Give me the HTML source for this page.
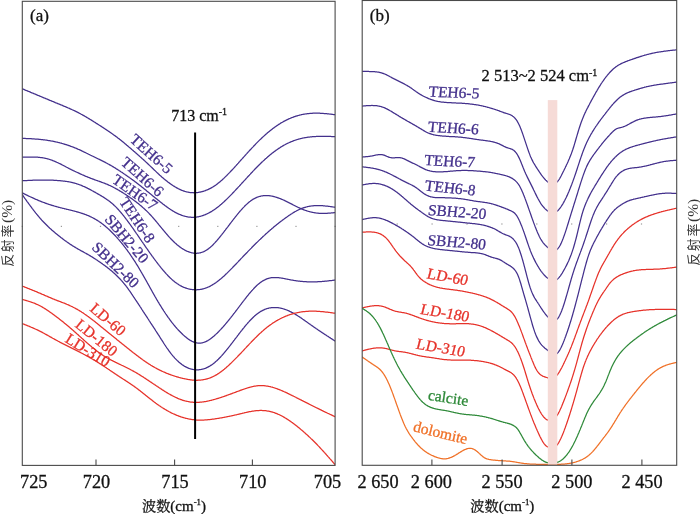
<!DOCTYPE html>
<html><head><meta charset="utf-8"><title>figure</title>
<style>html,body{margin:0;padding:0;background:#fff;}body{width:700px;height:514px;overflow:hidden;}svg{display:block;}text{font-family:'Liberation Serif','Times New Roman',serif;}</style></head><body>
<svg width="700" height="514" viewBox="0 0 700 514">
<rect x="0" y="0" width="700" height="514" fill="#fff"/>
<defs><clipPath id="ca"><rect x="22.3" y="1.3" width="312.8" height="464.1"/></clipPath><clipPath id="cb"><rect x="362.2" y="0.5" width="314.5" height="464.8"/></clipPath></defs>
<g fill="#9a9a9a"><rect x="21.7" y="225.8" width="1.2" height="1.2"/><rect x="60.8" y="225.8" width="1.2" height="1.2"/><rect x="99.9" y="225.8" width="1.2" height="1.2"/><rect x="139.0" y="225.8" width="1.2" height="1.2"/><rect x="178.1" y="225.8" width="1.2" height="1.2"/><rect x="217.2" y="225.8" width="1.2" height="1.2"/><rect x="256.3" y="225.8" width="1.2" height="1.2"/><rect x="295.4" y="225.8" width="1.2" height="1.2"/><rect x="334.5" y="225.8" width="1.2" height="1.2"/><rect x="396.6" y="223.4" width="1.2" height="1.2"/><rect x="431.5" y="223.4" width="1.2" height="1.2"/><rect x="466.4" y="223.4" width="1.2" height="1.2"/><rect x="501.3" y="223.4" width="1.2" height="1.2"/><rect x="536.2" y="223.4" width="1.2" height="1.2"/><rect x="571.1" y="223.4" width="1.2" height="1.2"/><rect x="606.0" y="223.4" width="1.2" height="1.2"/><rect x="640.9" y="223.4" width="1.2" height="1.2"/></g>
<g fill="none" stroke-width="1.25" stroke-linejoin="round" stroke-linecap="round" clip-path="url(#ca)">
<path d="M22.3,88.8L22.8,89.0L23.3,89.2L23.8,89.4L24.3,89.6L24.8,89.8L25.3,90.1L25.8,90.3L26.3,90.5L26.8,90.7L27.3,90.9L27.8,91.1L28.3,91.3L28.8,91.5L29.3,91.7L29.8,91.9L30.3,92.1L30.8,92.4L31.3,92.6L31.8,92.8L32.3,93.0L32.8,93.2L33.3,93.4L33.8,93.6L34.3,93.8L34.8,94.0L35.3,94.2L35.8,94.4L36.3,94.7L36.8,94.9L37.3,95.1L37.8,95.3L38.3,95.5L38.8,95.7L39.3,95.9L39.8,96.1L40.3,96.3L40.8,96.5L41.3,96.7L41.8,97.0L42.3,97.2L42.8,97.4L43.3,97.6L43.8,97.8L44.3,98.0L44.8,98.2L45.3,98.4L45.8,98.6L46.3,98.8L46.8,99.0L47.3,99.2L47.8,99.4L48.3,99.7L48.8,99.9L49.3,100.1L49.8,100.3L50.3,100.5L50.8,100.7L51.3,100.9L51.8,101.1L52.3,101.3L52.8,101.5L53.3,101.7L53.8,101.9L54.3,102.1L54.8,102.3L55.3,102.6L55.8,102.8L56.3,103.0L56.8,103.2L57.3,103.4L57.8,103.6L58.3,103.8L58.8,104.0L59.3,104.2L59.8,104.4L60.3,104.6L60.8,104.8L61.3,105.0L61.8,105.2L62.3,105.4L62.8,105.6L63.3,105.9L63.8,106.1L64.3,106.3L64.8,106.5L65.3,106.7L65.8,106.9L66.3,107.1L66.8,107.3L67.3,107.5L67.8,107.8L68.3,108.0L68.8,108.2L69.3,108.4L69.8,108.6L70.3,108.9L70.8,109.1L71.3,109.3L71.8,109.5L72.3,109.8L72.8,110.0L73.3,110.2L73.8,110.5L74.3,110.7L74.8,110.9L75.3,111.2L75.8,111.4L76.3,111.7L76.8,111.9L77.3,112.2L77.8,112.4L78.3,112.7L78.8,112.9L79.3,113.2L79.8,113.5L80.3,113.7L80.8,114.0L81.3,114.3L81.8,114.5L82.3,114.8L82.8,115.1L83.3,115.4L83.8,115.7L84.3,115.9L84.8,116.2L85.3,116.5L85.8,116.8L86.3,117.1L86.8,117.4L87.3,117.7L87.8,118.0L88.3,118.3L88.8,118.6L89.3,118.9L89.8,119.2L90.3,119.5L90.8,119.8L91.3,120.1L91.8,120.4L92.3,120.7L92.8,121.0L93.3,121.4L93.8,121.7L94.3,122.0L94.8,122.3L95.3,122.6L95.8,122.9L96.3,123.3L96.8,123.6L97.3,123.9L97.8,124.2L98.3,124.5L98.8,124.8L99.3,125.2L99.8,125.5L100.3,125.8L100.8,126.1L101.3,126.4L101.8,126.8L102.3,127.1L102.8,127.4L103.3,127.7L103.8,128.1L104.3,128.4L104.8,128.7L105.3,129.1L105.8,129.4L106.3,129.7L106.8,130.1L107.3,130.4L107.8,130.7L108.3,131.1L108.8,131.4L109.3,131.7L109.8,132.1L110.3,132.4L110.8,132.8L111.3,133.1L111.8,133.5L112.3,133.8L112.8,134.2L113.3,134.6L113.8,134.9L114.3,135.3L114.8,135.6L115.3,136.0L115.8,136.4L116.3,136.7L116.8,137.1L117.3,137.5L117.8,137.9L118.3,138.3L118.8,138.6L119.3,139.0L119.8,139.4L120.3,139.8L120.8,140.2L121.3,140.6L121.8,141.0L122.3,141.4L122.8,141.8L123.3,142.2L123.8,142.6L124.3,143.1L124.8,143.5L125.3,143.9L125.8,144.3L126.3,144.7L126.8,145.2L127.3,145.6L127.8,146.0L128.3,146.4L128.8,146.9L129.3,147.3L129.8,147.7L130.3,148.1L130.8,148.6L131.3,149.0L131.8,149.4L132.3,149.9L132.8,150.3L133.3,150.7L133.8,151.2L134.3,151.6L134.8,152.0L135.3,152.5L135.8,152.9L136.3,153.3L136.8,153.8L137.3,154.2L137.8,154.7L138.3,155.1L138.8,155.5L139.3,156.0L139.8,156.4L140.3,156.9L140.8,157.3L141.3,157.8L141.8,158.2L142.3,158.7L142.8,159.1L143.3,159.6L143.8,160.0L144.3,160.5L144.8,160.9L145.3,161.4L145.8,161.9L146.3,162.3L146.8,162.8L147.3,163.3L147.8,163.7L148.3,164.2L148.8,164.7L149.3,165.1L149.8,165.6L150.3,166.1L150.8,166.6L151.3,167.1L151.8,167.5L152.3,168.0L152.8,168.5L153.3,169.0L153.8,169.5L154.3,170.0L154.8,170.4L155.3,170.9L155.8,171.4L156.3,171.9L156.8,172.4L157.3,172.8L157.8,173.3L158.3,173.8L158.8,174.2L159.3,174.7L159.8,175.2L160.3,175.6L160.8,176.1L161.3,176.5L161.8,177.0L162.3,177.4L162.8,177.8L163.3,178.2L163.8,178.7L164.3,179.1L164.8,179.5L165.3,179.9L165.8,180.3L166.3,180.7L166.8,181.1L167.3,181.5L167.8,181.9L168.3,182.3L168.8,182.6L169.3,183.0L169.8,183.4L170.3,183.7L170.8,184.1L171.3,184.4L171.8,184.8L172.3,185.1L172.8,185.5L173.3,185.8L173.8,186.1L174.3,186.4L174.8,186.7L175.3,187.0L175.8,187.3L176.3,187.6L176.8,187.9L177.3,188.2L177.8,188.4L178.3,188.7L178.8,189.0L179.3,189.2L179.8,189.4L180.3,189.7L180.8,189.9L181.3,190.1L181.8,190.3L182.3,190.5L182.8,190.7L183.3,190.9L183.8,191.1L184.3,191.2L184.8,191.4L185.3,191.5L185.8,191.7L186.3,191.8L186.8,191.9L187.3,192.0L187.8,192.1L188.3,192.2L188.8,192.3L189.3,192.4L189.8,192.5L190.3,192.5L190.8,192.6L191.3,192.6L191.8,192.7L192.3,192.7L192.8,192.7L193.3,192.7L193.8,192.8L194.3,192.7L194.8,192.7L195.3,192.7L195.8,192.7L196.3,192.6L196.8,192.6L197.3,192.5L197.8,192.5L198.3,192.4L198.8,192.3L199.3,192.2L199.8,192.2L200.3,192.1L200.8,191.9L201.3,191.8L201.8,191.7L202.3,191.6L202.8,191.4L203.3,191.3L203.8,191.1L204.3,191.0L204.8,190.8L205.3,190.6L205.8,190.4L206.3,190.2L206.8,190.0L207.3,189.8L207.8,189.6L208.3,189.4L208.8,189.1L209.3,188.9L209.8,188.7L210.3,188.4L210.8,188.1L211.3,187.9L211.8,187.6L212.3,187.3L212.8,187.0L213.3,186.7L213.8,186.4L214.3,186.0L214.8,185.7L215.3,185.4L215.8,185.0L216.3,184.7L216.8,184.3L217.3,183.9L217.8,183.5L218.3,183.1L218.8,182.7L219.3,182.3L219.8,181.9L220.3,181.5L220.8,181.1L221.3,180.6L221.8,180.2L222.3,179.7L222.8,179.3L223.3,178.8L223.8,178.4L224.3,177.9L224.8,177.4L225.3,176.9L225.8,176.4L226.3,175.9L226.8,175.5L227.3,174.9L227.8,174.4L228.3,173.9L228.8,173.4L229.3,172.9L229.8,172.4L230.3,171.8L230.8,171.3L231.3,170.8L231.8,170.2L232.3,169.7L232.8,169.2L233.3,168.6L233.8,168.1L234.3,167.5L234.8,167.0L235.3,166.4L235.8,165.9L236.3,165.3L236.8,164.7L237.3,164.2L237.8,163.6L238.3,163.1L238.8,162.5L239.3,161.9L239.8,161.4L240.3,160.8L240.8,160.3L241.3,159.7L241.8,159.1L242.3,158.6L242.8,158.0L243.3,157.5L243.8,156.9L244.3,156.4L244.8,155.8L245.3,155.2L245.8,154.7L246.3,154.1L246.8,153.6L247.3,153.0L247.8,152.5L248.3,151.9L248.8,151.4L249.3,150.8L249.8,150.3L250.3,149.8L250.8,149.2L251.3,148.7L251.8,148.1L252.3,147.6L252.8,147.1L253.3,146.6L253.8,146.0L254.3,145.5L254.8,145.0L255.3,144.5L255.8,143.9L256.3,143.4L256.8,142.9L257.3,142.4L257.8,141.9L258.3,141.4L258.8,140.9L259.3,140.4L259.8,139.9L260.3,139.4L260.8,139.0L261.3,138.5L261.8,138.0L262.3,137.5L262.8,137.1L263.3,136.6L263.8,136.1L264.3,135.7L264.8,135.2L265.3,134.8L265.8,134.3L266.3,133.9L266.8,133.5L267.3,133.0L267.8,132.6L268.3,132.2L268.8,131.8L269.3,131.4L269.8,131.0L270.3,130.6L270.8,130.2L271.3,129.8L271.8,129.4L272.3,129.0L272.8,128.6L273.3,128.2L273.8,127.9L274.3,127.5L274.8,127.1L275.3,126.8L275.8,126.4L276.3,126.1L276.8,125.7L277.3,125.4L277.8,125.1L278.3,124.7L278.8,124.4L279.3,124.1L279.8,123.8L280.3,123.4L280.8,123.1L281.3,122.8L281.8,122.5L282.3,122.3L282.8,122.0L283.3,121.7L283.8,121.4L284.3,121.1L284.8,120.9L285.3,120.6L285.8,120.3L286.3,120.1L286.8,119.8L287.3,119.6L287.8,119.4L288.3,119.1L288.8,118.9L289.3,118.7L289.8,118.5L290.3,118.3L290.8,118.0L291.3,117.8L291.8,117.6L292.3,117.5L292.8,117.3L293.3,117.1L293.8,116.9L294.3,116.7L294.8,116.6L295.3,116.4L295.8,116.2L296.3,116.1L296.8,115.9L297.3,115.8L297.8,115.6L298.3,115.5L298.8,115.4L299.3,115.2L299.8,115.1L300.3,115.0L300.8,114.9L301.3,114.7L301.8,114.6L302.3,114.5L302.8,114.4L303.3,114.3L303.8,114.2L304.3,114.2L304.8,114.1L305.3,114.0L305.8,113.9L306.3,113.8L306.8,113.8L307.3,113.7L307.8,113.6L308.3,113.6L308.8,113.5L309.3,113.5L309.8,113.4L310.3,113.4L310.8,113.4L311.3,113.3L311.8,113.3L312.3,113.3L312.8,113.2L313.3,113.2L313.8,113.2L314.3,113.2L314.8,113.2L315.3,113.2L315.8,113.2L316.3,113.2L316.8,113.2L317.3,113.2L317.8,113.2L318.3,113.2L318.8,113.2L319.3,113.2L319.8,113.2L320.3,113.3L320.8,113.3L321.3,113.3L321.8,113.3L322.3,113.4L322.8,113.4L323.3,113.4L323.8,113.5L324.3,113.5L324.8,113.6L325.3,113.6L325.8,113.7L326.3,113.7L326.8,113.7L327.3,113.8L327.8,113.8L328.3,113.9L328.8,113.9L329.3,114.0L329.8,114.1L330.3,114.1L330.8,114.2L331.3,114.2L331.8,114.3L332.3,114.3L332.8,114.4L333.3,114.5L333.8,114.5L334.3,114.6L334.8,114.6L335.1,114.7" stroke="#43308c"/>
<path d="M22.3,138.3L22.8,138.3L23.3,138.4L23.8,138.4L24.3,138.4L24.8,138.4L25.3,138.4L25.8,138.5L26.3,138.5L26.8,138.5L27.3,138.5L27.8,138.6L28.3,138.6L28.8,138.6L29.3,138.6L29.8,138.7L30.3,138.7L30.8,138.7L31.3,138.7L31.8,138.8L32.3,138.8L32.8,138.8L33.3,138.9L33.8,138.9L34.3,138.9L34.8,139.0L35.3,139.0L35.8,139.0L36.3,139.1L36.8,139.1L37.3,139.1L37.8,139.2L38.3,139.2L38.8,139.3L39.3,139.3L39.8,139.4L40.3,139.4L40.8,139.5L41.3,139.5L41.8,139.6L42.3,139.6L42.8,139.7L43.3,139.8L43.8,139.8L44.3,139.9L44.8,139.9L45.3,140.0L45.8,140.1L46.3,140.2L46.8,140.2L47.3,140.3L47.8,140.4L48.3,140.5L48.8,140.5L49.3,140.6L49.8,140.7L50.3,140.8L50.8,140.9L51.3,141.0L51.8,141.1L52.3,141.2L52.8,141.2L53.3,141.3L53.8,141.4L54.3,141.6L54.8,141.7L55.3,141.8L55.8,141.9L56.3,142.0L56.8,142.1L57.3,142.2L57.8,142.3L58.3,142.5L58.8,142.6L59.3,142.7L59.8,142.8L60.3,143.0L60.8,143.1L61.3,143.2L61.8,143.4L62.3,143.5L62.8,143.7L63.3,143.8L63.8,143.9L64.3,144.1L64.8,144.3L65.3,144.4L65.8,144.6L66.3,144.7L66.8,144.9L67.3,145.1L67.8,145.2L68.3,145.4L68.8,145.6L69.3,145.7L69.8,145.9L70.3,146.1L70.8,146.3L71.3,146.5L71.8,146.6L72.3,146.8L72.8,147.0L73.3,147.2L73.8,147.4L74.3,147.6L74.8,147.8L75.3,148.0L75.8,148.2L76.3,148.4L76.8,148.6L77.3,148.8L77.8,149.1L78.3,149.3L78.8,149.5L79.3,149.7L79.8,149.9L80.3,150.2L80.8,150.4L81.3,150.6L81.8,150.9L82.3,151.1L82.8,151.3L83.3,151.6L83.8,151.8L84.3,152.1L84.8,152.3L85.3,152.5L85.8,152.8L86.3,153.0L86.8,153.3L87.3,153.5L87.8,153.8L88.3,154.0L88.8,154.3L89.3,154.5L89.8,154.8L90.3,155.0L90.8,155.3L91.3,155.5L91.8,155.8L92.3,156.0L92.8,156.2L93.3,156.5L93.8,156.7L94.3,157.0L94.8,157.2L95.3,157.5L95.8,157.7L96.3,158.0L96.8,158.2L97.3,158.5L97.8,158.7L98.3,159.0L98.8,159.2L99.3,159.4L99.8,159.7L100.3,159.9L100.8,160.2L101.3,160.4L101.8,160.7L102.3,160.9L102.8,161.2L103.3,161.4L103.8,161.7L104.3,161.9L104.8,162.2L105.3,162.4L105.8,162.7L106.3,163.0L106.8,163.2L107.3,163.5L107.8,163.8L108.3,164.0L108.8,164.3L109.3,164.6L109.8,164.9L110.3,165.2L110.8,165.4L111.3,165.7L111.8,166.0L112.3,166.3L112.8,166.6L113.3,166.9L113.8,167.2L114.3,167.5L114.8,167.8L115.3,168.1L115.8,168.4L116.3,168.8L116.8,169.1L117.3,169.4L117.8,169.7L118.3,170.0L118.8,170.3L119.3,170.7L119.8,171.0L120.3,171.3L120.8,171.7L121.3,172.0L121.8,172.3L122.3,172.6L122.8,173.0L123.3,173.3L123.8,173.7L124.3,174.0L124.8,174.3L125.3,174.7L125.8,175.0L126.3,175.4L126.8,175.7L127.3,176.1L127.8,176.4L128.3,176.8L128.8,177.1L129.3,177.5L129.8,177.8L130.3,178.2L130.8,178.5L131.3,178.9L131.8,179.3L132.3,179.6L132.8,180.0L133.3,180.4L133.8,180.7L134.3,181.1L134.8,181.5L135.3,181.9L135.8,182.2L136.3,182.6L136.8,183.0L137.3,183.4L137.8,183.8L138.3,184.2L138.8,184.6L139.3,184.9L139.8,185.3L140.3,185.7L140.8,186.1L141.3,186.5L141.8,186.9L142.3,187.3L142.8,187.7L143.3,188.1L143.8,188.5L144.3,188.9L144.8,189.3L145.3,189.7L145.8,190.1L146.3,190.5L146.8,191.0L147.3,191.4L147.8,191.8L148.3,192.2L148.8,192.6L149.3,193.0L149.8,193.4L150.3,193.8L150.8,194.2L151.3,194.6L151.8,195.1L152.3,195.5L152.8,195.9L153.3,196.3L153.8,196.7L154.3,197.1L154.8,197.5L155.3,197.9L155.8,198.3L156.3,198.7L156.8,199.1L157.3,199.5L157.8,199.9L158.3,200.3L158.8,200.7L159.3,201.1L159.8,201.5L160.3,201.9L160.8,202.3L161.3,202.7L161.8,203.1L162.3,203.5L162.8,203.9L163.3,204.3L163.8,204.6L164.3,205.0L164.8,205.4L165.3,205.8L165.8,206.1L166.3,206.5L166.8,206.9L167.3,207.2L167.8,207.6L168.3,207.9L168.8,208.3L169.3,208.6L169.8,209.0L170.3,209.3L170.8,209.6L171.3,210.0L171.8,210.3L172.3,210.6L172.8,210.9L173.3,211.2L173.8,211.5L174.3,211.8L174.8,212.1L175.3,212.4L175.8,212.6L176.3,212.9L176.8,213.1L177.3,213.4L177.8,213.6L178.3,213.9L178.8,214.1L179.3,214.3L179.8,214.5L180.3,214.7L180.8,214.9L181.3,215.1L181.8,215.3L182.3,215.5L182.8,215.7L183.3,215.8L183.8,216.0L184.3,216.1L184.8,216.2L185.3,216.4L185.8,216.5L186.3,216.6L186.8,216.7L187.3,216.8L187.8,216.9L188.3,217.0L188.8,217.0L189.3,217.1L189.8,217.1L190.3,217.2L190.8,217.2L191.3,217.3L191.8,217.3L192.3,217.3L192.8,217.3L193.3,217.3L193.8,217.3L194.3,217.2L194.8,217.2L195.3,217.2L195.8,217.1L196.3,217.1L196.8,217.0L197.3,216.9L197.8,216.8L198.3,216.8L198.8,216.7L199.3,216.5L199.8,216.4L200.3,216.3L200.8,216.2L201.3,216.0L201.8,215.9L202.3,215.7L202.8,215.6L203.3,215.4L203.8,215.2L204.3,215.0L204.8,214.8L205.3,214.6L205.8,214.4L206.3,214.2L206.8,214.0L207.3,213.7L207.8,213.5L208.3,213.2L208.8,213.0L209.3,212.7L209.8,212.4L210.3,212.2L210.8,211.9L211.3,211.6L211.8,211.3L212.3,211.0L212.8,210.6L213.3,210.3L213.8,210.0L214.3,209.6L214.8,209.3L215.3,208.9L215.8,208.6L216.3,208.2L216.8,207.8L217.3,207.4L217.8,207.1L218.3,206.7L218.8,206.3L219.3,205.9L219.8,205.4L220.3,205.0L220.8,204.6L221.3,204.2L221.8,203.7L222.3,203.3L222.8,202.8L223.3,202.4L223.8,201.9L224.3,201.5L224.8,201.0L225.3,200.5L225.8,200.1L226.3,199.6L226.8,199.1L227.3,198.6L227.8,198.1L228.3,197.6L228.8,197.1L229.3,196.6L229.8,196.1L230.3,195.6L230.8,195.1L231.3,194.6L231.8,194.1L232.3,193.5L232.8,193.0L233.3,192.5L233.8,192.0L234.3,191.4L234.8,190.9L235.3,190.4L235.8,189.8L236.3,189.3L236.8,188.8L237.3,188.2L237.8,187.7L238.3,187.1L238.8,186.6L239.3,186.1L239.8,185.5L240.3,185.0L240.8,184.4L241.3,183.9L241.8,183.3L242.3,182.8L242.8,182.2L243.3,181.7L243.8,181.1L244.3,180.6L244.8,180.1L245.3,179.5L245.8,179.0L246.3,178.4L246.8,177.9L247.3,177.3L247.8,176.8L248.3,176.2L248.8,175.7L249.3,175.2L249.8,174.6L250.3,174.1L250.8,173.5L251.3,173.0L251.8,172.5L252.3,172.0L252.8,171.4L253.3,170.9L253.8,170.4L254.3,169.8L254.8,169.3L255.3,168.8L255.8,168.3L256.3,167.8L256.8,167.3L257.3,166.8L257.8,166.2L258.3,165.7L258.8,165.2L259.3,164.7L259.8,164.3L260.3,163.8L260.8,163.3L261.3,162.8L261.8,162.3L262.3,161.8L262.8,161.4L263.3,160.9L263.8,160.4L264.3,160.0L264.8,159.5L265.3,159.0L265.8,158.6L266.3,158.2L266.8,157.7L267.3,157.3L267.8,156.8L268.3,156.4L268.8,156.0L269.3,155.6L269.8,155.1L270.3,154.7L270.8,154.3L271.3,153.9L271.8,153.5L272.3,153.1L272.8,152.7L273.3,152.4L273.8,152.0L274.3,151.6L274.8,151.2L275.3,150.9L275.8,150.5L276.3,150.1L276.8,149.8L277.3,149.4L277.8,149.1L278.3,148.7L278.8,148.4L279.3,148.1L279.8,147.8L280.3,147.4L280.8,147.1L281.3,146.8L281.8,146.5L282.3,146.2L282.8,145.9L283.3,145.6L283.8,145.3L284.3,145.0L284.8,144.8L285.3,144.5L285.8,144.2L286.3,144.0L286.8,143.7L287.3,143.5L287.8,143.2L288.3,143.0L288.8,142.8L289.3,142.5L289.8,142.3L290.3,142.1L290.8,141.9L291.3,141.7L291.8,141.5L292.3,141.3L292.8,141.1L293.3,140.9L293.8,140.7L294.3,140.5L294.8,140.3L295.3,140.2L295.8,140.0L296.3,139.8L296.8,139.7L297.3,139.5L297.8,139.4L298.3,139.2L298.8,139.1L299.3,139.0L299.8,138.8L300.3,138.7L300.8,138.6L301.3,138.5L301.8,138.3L302.3,138.2L302.8,138.1L303.3,138.0L303.8,137.9L304.3,137.8L304.8,137.7L305.3,137.6L305.8,137.5L306.3,137.5L306.8,137.4L307.3,137.3L307.8,137.2L308.3,137.2L308.8,137.1L309.3,137.0L309.8,137.0L310.3,136.9L310.8,136.9L311.3,136.8L311.8,136.8L312.3,136.7L312.8,136.7L313.3,136.6L313.8,136.6L314.3,136.6L314.8,136.5L315.3,136.5L315.8,136.5L316.3,136.4L316.8,136.4L317.3,136.4L317.8,136.4L318.3,136.4L318.8,136.3L319.3,136.3L319.8,136.3L320.3,136.3L320.8,136.3L321.3,136.3L321.8,136.3L322.3,136.3L322.8,136.3L323.3,136.3L323.8,136.3L324.3,136.3L324.8,136.3L325.3,136.3L325.8,136.3L326.3,136.3L326.8,136.3L327.3,136.4L327.8,136.4L328.3,136.4L328.8,136.4L329.3,136.4L329.8,136.4L330.3,136.4L330.8,136.4L331.3,136.5L331.8,136.5L332.3,136.5L332.8,136.5L333.3,136.5L333.8,136.6L334.3,136.6L334.8,136.6L335.1,136.6" stroke="#43308c"/>
<path d="M22.3,157.2L22.8,157.2L23.3,157.2L23.8,157.2L24.3,157.1L24.8,157.1L25.3,157.1L25.8,157.1L26.3,157.1L26.8,157.1L27.3,157.1L27.8,157.0L28.3,157.0L28.8,157.0L29.3,157.0L29.8,157.0L30.3,157.0L30.8,157.0L31.3,157.0L31.8,157.0L32.3,157.0L32.8,157.0L33.3,157.0L33.8,157.0L34.3,157.1L34.8,157.1L35.3,157.1L35.8,157.1L36.3,157.1L36.8,157.2L37.3,157.2L37.8,157.2L38.3,157.3L38.8,157.3L39.3,157.4L39.8,157.4L40.3,157.5L40.8,157.5L41.3,157.6L41.8,157.7L42.3,157.7L42.8,157.8L43.3,157.9L43.8,158.0L44.3,158.1L44.8,158.2L45.3,158.3L45.8,158.4L46.3,158.5L46.8,158.6L47.3,158.8L47.8,158.9L48.3,159.0L48.8,159.2L49.3,159.3L49.8,159.5L50.3,159.7L50.8,159.8L51.3,160.0L51.8,160.2L52.3,160.4L52.8,160.6L53.3,160.8L53.8,161.0L54.3,161.2L54.8,161.4L55.3,161.6L55.8,161.8L56.3,162.0L56.8,162.3L57.3,162.5L57.8,162.7L58.3,163.0L58.8,163.2L59.3,163.5L59.8,163.7L60.3,163.9L60.8,164.2L61.3,164.4L61.8,164.7L62.3,165.0L62.8,165.2L63.3,165.5L63.8,165.7L64.3,166.0L64.8,166.2L65.3,166.5L65.8,166.8L66.3,167.0L66.8,167.3L67.3,167.5L67.8,167.8L68.3,168.1L68.8,168.3L69.3,168.6L69.8,168.8L70.3,169.1L70.8,169.3L71.3,169.6L71.8,169.8L72.3,170.1L72.8,170.3L73.3,170.6L73.8,170.8L74.3,171.0L74.8,171.3L75.3,171.5L75.8,171.8L76.3,172.0L76.8,172.2L77.3,172.5L77.8,172.7L78.3,172.9L78.8,173.2L79.3,173.4L79.8,173.6L80.3,173.9L80.8,174.1L81.3,174.3L81.8,174.5L82.3,174.8L82.8,175.0L83.3,175.2L83.8,175.4L84.3,175.6L84.8,175.8L85.3,176.1L85.8,176.3L86.3,176.5L86.8,176.7L87.3,176.9L87.8,177.1L88.3,177.3L88.8,177.5L89.3,177.7L89.8,177.9L90.3,178.1L90.8,178.3L91.3,178.5L91.8,178.7L92.3,178.9L92.8,179.1L93.3,179.2L93.8,179.4L94.3,179.6L94.8,179.8L95.3,180.0L95.8,180.2L96.3,180.3L96.8,180.5L97.3,180.7L97.8,180.9L98.3,181.0L98.8,181.2L99.3,181.4L99.8,181.6L100.3,181.7L100.8,181.9L101.3,182.1L101.8,182.3L102.3,182.5L102.8,182.7L103.3,182.8L103.8,183.0L104.3,183.2L104.8,183.4L105.3,183.6L105.8,183.8L106.3,184.0L106.8,184.2L107.3,184.4L107.8,184.6L108.3,184.8L108.8,185.1L109.3,185.3L109.8,185.5L110.3,185.7L110.8,186.0L111.3,186.2L111.8,186.5L112.3,186.7L112.8,187.0L113.3,187.2L113.8,187.5L114.3,187.8L114.8,188.0L115.3,188.3L115.8,188.6L116.3,188.8L116.8,189.1L117.3,189.4L117.8,189.7L118.3,190.0L118.8,190.3L119.3,190.6L119.8,190.9L120.3,191.2L120.8,191.5L121.3,191.8L121.8,192.1L122.3,192.4L122.8,192.7L123.3,193.0L123.8,193.3L124.3,193.7L124.8,194.0L125.3,194.3L125.8,194.6L126.3,194.9L126.8,195.3L127.3,195.6L127.8,196.0L128.3,196.3L128.8,196.6L129.3,197.0L129.8,197.3L130.3,197.7L130.8,198.0L131.3,198.4L131.8,198.7L132.3,199.1L132.8,199.5L133.3,199.8L133.8,200.2L134.3,200.6L134.8,200.9L135.3,201.3L135.8,201.7L136.3,202.1L136.8,202.5L137.3,202.9L137.8,203.2L138.3,203.6L138.8,204.0L139.3,204.4L139.8,204.9L140.3,205.3L140.8,205.7L141.3,206.1L141.8,206.5L142.3,207.0L142.8,207.4L143.3,207.9L143.8,208.3L144.3,208.8L144.8,209.2L145.3,209.7L145.8,210.2L146.3,210.6L146.8,211.1L147.3,211.6L147.8,212.1L148.3,212.6L148.8,213.1L149.3,213.7L149.8,214.2L150.3,214.7L150.8,215.3L151.3,215.8L151.8,216.4L152.3,216.9L152.8,217.5L153.3,218.1L153.8,218.7L154.3,219.3L154.8,219.8L155.3,220.4L155.8,221.0L156.3,221.6L156.8,222.2L157.3,222.8L157.8,223.4L158.3,224.0L158.8,224.7L159.3,225.3L159.8,225.9L160.3,226.5L160.8,227.1L161.3,227.7L161.8,228.3L162.3,228.9L162.8,229.5L163.3,230.1L163.8,230.7L164.3,231.3L164.8,231.9L165.3,232.5L165.8,233.1L166.3,233.7L166.8,234.3L167.3,234.8L167.8,235.4L168.3,236.0L168.8,236.5L169.3,237.1L169.8,237.6L170.3,238.2L170.8,238.7L171.3,239.2L171.8,239.7L172.3,240.2L172.8,240.8L173.3,241.2L173.8,241.7L174.3,242.2L174.8,242.7L175.3,243.1L175.8,243.6L176.3,244.0L176.8,244.5L177.3,244.9L177.8,245.3L178.3,245.7L178.8,246.1L179.3,246.5L179.8,246.9L180.3,247.2L180.8,247.6L181.3,247.9L181.8,248.3L182.3,248.6L182.8,248.9L183.3,249.2L183.8,249.5L184.3,249.8L184.8,250.1L185.3,250.3L185.8,250.6L186.3,250.8L186.8,251.1L187.3,251.3L187.8,251.5L188.3,251.7L188.8,251.9L189.3,252.1L189.8,252.2L190.3,252.4L190.8,252.5L191.3,252.7L191.8,252.8L192.3,252.9L192.8,253.0L193.3,253.1L193.8,253.1L194.3,253.2L194.8,253.2L195.3,253.2L195.8,253.3L196.3,253.3L196.8,253.3L197.3,253.2L197.8,253.2L198.3,253.1L198.8,253.1L199.3,253.0L199.8,252.9L200.3,252.8L200.8,252.6L201.3,252.5L201.8,252.3L202.3,252.2L202.8,252.0L203.3,251.8L203.8,251.6L204.3,251.3L204.8,251.1L205.3,250.8L205.8,250.5L206.3,250.2L206.8,249.9L207.3,249.6L207.8,249.2L208.3,248.9L208.8,248.5L209.3,248.1L209.8,247.7L210.3,247.3L210.8,246.8L211.3,246.4L211.8,245.9L212.3,245.5L212.8,245.0L213.3,244.5L213.8,243.9L214.3,243.4L214.8,242.9L215.3,242.3L215.8,241.8L216.3,241.2L216.8,240.7L217.3,240.1L217.8,239.5L218.3,238.9L218.8,238.3L219.3,237.7L219.8,237.1L220.3,236.5L220.8,235.8L221.3,235.2L221.8,234.6L222.3,233.9L222.8,233.3L223.3,232.7L223.8,232.0L224.3,231.4L224.8,230.7L225.3,230.1L225.8,229.4L226.3,228.7L226.8,228.1L227.3,227.4L227.8,226.8L228.3,226.1L228.8,225.5L229.3,224.8L229.8,224.1L230.3,223.5L230.8,222.8L231.3,222.2L231.8,221.5L232.3,220.9L232.8,220.2L233.3,219.6L233.8,218.9L234.3,218.3L234.8,217.7L235.3,217.0L235.8,216.4L236.3,215.8L236.8,215.2L237.3,214.5L237.8,213.9L238.3,213.3L238.8,212.7L239.3,212.1L239.8,211.5L240.3,210.9L240.8,210.4L241.3,209.8L241.8,209.2L242.3,208.7L242.8,208.1L243.3,207.6L243.8,207.1L244.3,206.6L244.8,206.0L245.3,205.5L245.8,205.1L246.3,204.6L246.8,204.1L247.3,203.7L247.8,203.2L248.3,202.8L248.8,202.3L249.3,201.9L249.8,201.5L250.3,201.2L250.8,200.8L251.3,200.4L251.8,200.1L252.3,199.8L252.8,199.4L253.3,199.1L253.8,198.8L254.3,198.6L254.8,198.3L255.3,198.1L255.8,197.8L256.3,197.6L256.8,197.4L257.3,197.2L257.8,197.0L258.3,196.8L258.8,196.7L259.3,196.5L259.8,196.4L260.3,196.3L260.8,196.1L261.3,196.0L261.8,195.9L262.3,195.9L262.8,195.8L263.3,195.7L263.8,195.7L264.3,195.6L264.8,195.6L265.3,195.6L265.8,195.6L266.3,195.6L266.8,195.6L267.3,195.6L267.8,195.6L268.3,195.7L268.8,195.7L269.3,195.7L269.8,195.8L270.3,195.9L270.8,195.9L271.3,196.0L271.8,196.1L272.3,196.2L272.8,196.3L273.3,196.4L273.8,196.6L274.3,196.7L274.8,196.8L275.3,197.0L275.8,197.1L276.3,197.3L276.8,197.4L277.3,197.6L277.8,197.8L278.3,197.9L278.8,198.1L279.3,198.3L279.8,198.5L280.3,198.7L280.8,198.9L281.3,199.1L281.8,199.3L282.3,199.5L282.8,199.7L283.3,200.0L283.8,200.2L284.3,200.4L284.8,200.6L285.3,200.9L285.8,201.1L286.3,201.4L286.8,201.6L287.3,201.9L287.8,202.1L288.3,202.4L288.8,202.6L289.3,202.9L289.8,203.1L290.3,203.4L290.8,203.6L291.3,203.9L291.8,204.2L292.3,204.4L292.8,204.7L293.3,205.0L293.8,205.2L294.3,205.5L294.8,205.7L295.3,206.0L295.8,206.2L296.3,206.5L296.8,206.7L297.3,207.0L297.8,207.2L298.3,207.5L298.8,207.7L299.3,207.9L299.8,208.2L300.3,208.4L300.8,208.6L301.3,208.8L301.8,209.0L302.3,209.2L302.8,209.4L303.3,209.6L303.8,209.8L304.3,210.0L304.8,210.2L305.3,210.4L305.8,210.5L306.3,210.7L306.8,210.9L307.3,211.0L307.8,211.2L308.3,211.3L308.8,211.5L309.3,211.6L309.8,211.7L310.3,211.9L310.8,212.0L311.3,212.1L311.8,212.2L312.3,212.3L312.8,212.4L313.3,212.5L313.8,212.6L314.3,212.7L314.8,212.8L315.3,212.9L315.8,212.9L316.3,213.0L316.8,213.1L317.3,213.1L317.8,213.2L318.3,213.2L318.8,213.3L319.3,213.3L319.8,213.3L320.3,213.3L320.8,213.4L321.3,213.4L321.8,213.4L322.3,213.4L322.8,213.4L323.3,213.4L323.8,213.4L324.3,213.4L324.8,213.4L325.3,213.4L325.8,213.3L326.3,213.3L326.8,213.3L327.3,213.3L327.8,213.2L328.3,213.2L328.8,213.2L329.3,213.1L329.8,213.1L330.3,213.0L330.8,213.0L331.3,212.9L331.8,212.9L332.3,212.8L332.8,212.8L333.3,212.8L333.8,212.7L334.3,212.7L334.8,212.6L335.1,212.6" stroke="#43308c"/>
<path d="M22.3,180.7L22.8,180.6L23.3,180.6L23.8,180.6L24.3,180.6L24.8,180.6L25.3,180.5L25.8,180.5L26.3,180.5L26.8,180.5L27.3,180.5L27.8,180.4L28.3,180.4L28.8,180.4L29.3,180.4L29.8,180.4L30.3,180.3L30.8,180.3L31.3,180.3L31.8,180.3L32.3,180.3L32.8,180.2L33.3,180.2L33.8,180.2L34.3,180.2L34.8,180.2L35.3,180.2L35.8,180.2L36.3,180.1L36.8,180.1L37.3,180.1L37.8,180.1L38.3,180.1L38.8,180.1L39.3,180.1L39.8,180.1L40.3,180.1L40.8,180.1L41.3,180.1L41.8,180.1L42.3,180.0L42.8,180.0L43.3,180.0L43.8,180.0L44.3,180.0L44.8,180.0L45.3,180.0L45.8,180.0L46.3,180.1L46.8,180.1L47.3,180.1L47.8,180.1L48.3,180.1L48.8,180.1L49.3,180.1L49.8,180.1L50.3,180.1L50.8,180.1L51.3,180.2L51.8,180.2L52.3,180.2L52.8,180.2L53.3,180.2L53.8,180.3L54.3,180.3L54.8,180.3L55.3,180.3L55.8,180.4L56.3,180.4L56.8,180.4L57.3,180.5L57.8,180.5L58.3,180.5L58.8,180.6L59.3,180.6L59.8,180.7L60.3,180.7L60.8,180.8L61.3,180.8L61.8,180.9L62.3,180.9L62.8,181.0L63.3,181.0L63.8,181.1L64.3,181.1L64.8,181.2L65.3,181.3L65.8,181.3L66.3,181.4L66.8,181.5L67.3,181.6L67.8,181.7L68.3,181.7L68.8,181.8L69.3,181.9L69.8,182.0L70.3,182.1L70.8,182.2L71.3,182.3L71.8,182.4L72.3,182.6L72.8,182.7L73.3,182.8L73.8,182.9L74.3,183.1L74.8,183.2L75.3,183.3L75.8,183.5L76.3,183.6L76.8,183.8L77.3,184.0L77.8,184.1L78.3,184.3L78.8,184.5L79.3,184.7L79.8,184.8L80.3,185.0L80.8,185.2L81.3,185.4L81.8,185.6L82.3,185.8L82.8,186.1L83.3,186.3L83.8,186.5L84.3,186.7L84.8,186.9L85.3,187.2L85.8,187.4L86.3,187.7L86.8,187.9L87.3,188.1L87.8,188.4L88.3,188.6L88.8,188.9L89.3,189.2L89.8,189.4L90.3,189.7L90.8,189.9L91.3,190.2L91.8,190.5L92.3,190.8L92.8,191.0L93.3,191.3L93.8,191.6L94.3,191.9L94.8,192.1L95.3,192.4L95.8,192.7L96.3,193.0L96.8,193.3L97.3,193.6L97.8,193.9L98.3,194.1L98.8,194.4L99.3,194.7L99.8,195.0L100.3,195.3L100.8,195.6L101.3,195.9L101.8,196.2L102.3,196.5L102.8,196.8L103.3,197.1L103.8,197.4L104.3,197.7L104.8,198.1L105.3,198.4L105.8,198.7L106.3,199.1L106.8,199.4L107.3,199.8L107.8,200.1L108.3,200.5L108.8,200.8L109.3,201.2L109.8,201.6L110.3,202.0L110.8,202.4L111.3,202.8L111.8,203.2L112.3,203.6L112.8,204.1L113.3,204.5L113.8,205.0L114.3,205.5L114.8,205.9L115.3,206.4L115.8,206.9L116.3,207.4L116.8,207.9L117.3,208.5L117.8,209.0L118.3,209.5L118.8,210.1L119.3,210.7L119.8,211.2L120.3,211.8L120.8,212.4L121.3,213.0L121.8,213.6L122.3,214.2L122.8,214.8L123.3,215.4L123.8,216.0L124.3,216.7L124.8,217.3L125.3,218.0L125.8,218.6L126.3,219.3L126.8,219.9L127.3,220.6L127.8,221.3L128.3,222.0L128.8,222.6L129.3,223.3L129.8,224.0L130.3,224.7L130.8,225.4L131.3,226.1L131.8,226.8L132.3,227.5L132.8,228.2L133.3,228.9L133.8,229.6L134.3,230.4L134.8,231.1L135.3,231.8L135.8,232.5L136.3,233.3L136.8,234.0L137.3,234.7L137.8,235.4L138.3,236.2L138.8,236.9L139.3,237.6L139.8,238.3L140.3,239.1L140.8,239.8L141.3,240.5L141.8,241.3L142.3,242.0L142.8,242.7L143.3,243.5L143.8,244.2L144.3,244.9L144.8,245.6L145.3,246.4L145.8,247.1L146.3,247.8L146.8,248.5L147.3,249.2L147.8,249.9L148.3,250.7L148.8,251.4L149.3,252.1L149.8,252.8L150.3,253.5L150.8,254.2L151.3,254.9L151.8,255.6L152.3,256.3L152.8,256.9L153.3,257.6L153.8,258.3L154.3,259.0L154.8,259.7L155.3,260.3L155.8,261.0L156.3,261.7L156.8,262.3L157.3,263.0L157.8,263.6L158.3,264.3L158.8,264.9L159.3,265.6L159.8,266.2L160.3,266.8L160.8,267.4L161.3,268.1L161.8,268.7L162.3,269.3L162.8,269.9L163.3,270.5L163.8,271.0L164.3,271.6L164.8,272.2L165.3,272.8L165.8,273.3L166.3,273.9L166.8,274.4L167.3,274.9L167.8,275.5L168.3,276.0L168.8,276.5L169.3,277.0L169.8,277.5L170.3,278.0L170.8,278.4L171.3,278.9L171.8,279.4L172.3,279.8L172.8,280.2L173.3,280.7L173.8,281.1L174.3,281.5L174.8,281.9L175.3,282.3L175.8,282.6L176.3,283.0L176.8,283.3L177.3,283.7L177.8,284.0L178.3,284.3L178.8,284.7L179.3,285.0L179.8,285.3L180.3,285.6L180.8,285.8L181.3,286.1L181.8,286.4L182.3,286.6L182.8,286.8L183.3,287.1L183.8,287.3L184.3,287.5L184.8,287.7L185.3,287.9L185.8,288.1L186.3,288.2L186.8,288.4L187.3,288.5L187.8,288.7L188.3,288.8L188.8,289.0L189.3,289.1L189.8,289.2L190.3,289.3L190.8,289.4L191.3,289.4L191.8,289.5L192.3,289.6L192.8,289.6L193.3,289.7L193.8,289.7L194.3,289.7L194.8,289.8L195.3,289.8L195.8,289.8L196.3,289.8L196.8,289.8L197.3,289.7L197.8,289.7L198.3,289.7L198.8,289.6L199.3,289.6L199.8,289.5L200.3,289.4L200.8,289.4L201.3,289.3L201.8,289.2L202.3,289.1L202.8,288.9L203.3,288.8L203.8,288.7L204.3,288.5L204.8,288.4L205.3,288.2L205.8,288.0L206.3,287.8L206.8,287.7L207.3,287.5L207.8,287.2L208.3,287.0L208.8,286.8L209.3,286.6L209.8,286.3L210.3,286.1L210.8,285.8L211.3,285.5L211.8,285.2L212.3,284.9L212.8,284.6L213.3,284.3L213.8,284.0L214.3,283.7L214.8,283.4L215.3,283.0L215.8,282.7L216.3,282.3L216.8,282.0L217.3,281.6L217.8,281.2L218.3,280.8L218.8,280.4L219.3,280.0L219.8,279.6L220.3,279.2L220.8,278.8L221.3,278.4L221.8,277.9L222.3,277.5L222.8,277.1L223.3,276.6L223.8,276.2L224.3,275.7L224.8,275.2L225.3,274.8L225.8,274.3L226.3,273.8L226.8,273.4L227.3,272.9L227.8,272.4L228.3,271.9L228.8,271.4L229.3,270.9L229.8,270.4L230.3,269.9L230.8,269.4L231.3,268.9L231.8,268.4L232.3,267.9L232.8,267.3L233.3,266.8L233.8,266.3L234.3,265.8L234.8,265.3L235.3,264.7L235.8,264.2L236.3,263.7L236.8,263.2L237.3,262.6L237.8,262.1L238.3,261.6L238.8,261.0L239.3,260.5L239.8,260.0L240.3,259.5L240.8,258.9L241.3,258.4L241.8,257.9L242.3,257.4L242.8,256.8L243.3,256.3L243.8,255.8L244.3,255.3L244.8,254.7L245.3,254.2L245.8,253.7L246.3,253.2L246.8,252.7L247.3,252.2L247.8,251.6L248.3,251.1L248.8,250.6L249.3,250.1L249.8,249.6L250.3,249.1L250.8,248.6L251.3,248.1L251.8,247.5L252.3,247.0L252.8,246.5L253.3,246.0L253.8,245.5L254.3,245.0L254.8,244.5L255.3,244.0L255.8,243.5L256.3,243.0L256.8,242.6L257.3,242.1L257.8,241.6L258.3,241.1L258.8,240.6L259.3,240.1L259.8,239.6L260.3,239.2L260.8,238.7L261.3,238.2L261.8,237.7L262.3,237.3L262.8,236.8L263.3,236.3L263.8,235.9L264.3,235.4L264.8,234.9L265.3,234.5L265.8,234.0L266.3,233.6L266.8,233.1L267.3,232.7L267.8,232.2L268.3,231.8L268.8,231.3L269.3,230.9L269.8,230.5L270.3,230.0L270.8,229.6L271.3,229.2L271.8,228.7L272.3,228.3L272.8,227.9L273.3,227.5L273.8,227.0L274.3,226.6L274.8,226.2L275.3,225.8L275.8,225.4L276.3,225.0L276.8,224.6L277.3,224.2L277.8,223.8L278.3,223.4L278.8,223.0L279.3,222.6L279.8,222.2L280.3,221.8L280.8,221.4L281.3,221.0L281.8,220.7L282.3,220.3L282.8,219.9L283.3,219.5L283.8,219.2L284.3,218.8L284.8,218.4L285.3,218.1L285.8,217.7L286.3,217.4L286.8,217.0L287.3,216.7L287.8,216.3L288.3,216.0L288.8,215.6L289.3,215.3L289.8,215.0L290.3,214.6L290.8,214.3L291.3,214.0L291.8,213.7L292.3,213.3L292.8,213.0L293.3,212.7L293.8,212.4L294.3,212.1L294.8,211.8L295.3,211.5L295.8,211.3L296.3,211.0L296.8,210.7L297.3,210.5L297.8,210.2L298.3,210.0L298.8,209.7L299.3,209.5L299.8,209.3L300.3,209.0L300.8,208.8L301.3,208.6L301.8,208.4L302.3,208.2L302.8,208.1L303.3,207.9L303.8,207.7L304.3,207.6L304.8,207.4L305.3,207.3L305.8,207.1L306.3,207.0L306.8,206.9L307.3,206.7L307.8,206.6L308.3,206.5L308.8,206.4L309.3,206.3L309.8,206.2L310.3,206.1L310.8,206.1L311.3,206.0L311.8,205.9L312.3,205.9L312.8,205.8L313.3,205.8L313.8,205.7L314.3,205.7L314.8,205.7L315.3,205.6L315.8,205.6L316.3,205.6L316.8,205.6L317.3,205.6L317.8,205.6L318.3,205.6L318.8,205.6L319.3,205.6L319.8,205.6L320.3,205.6L320.8,205.6L321.3,205.6L321.8,205.7L322.3,205.7L322.8,205.7L323.3,205.8L323.8,205.8L324.3,205.9L324.8,205.9L325.3,206.0L325.8,206.0L326.3,206.1L326.8,206.1L327.3,206.2L327.8,206.2L328.3,206.3L328.8,206.4L329.3,206.4L329.8,206.5L330.3,206.6L330.8,206.7L331.3,206.7L331.8,206.8L332.3,206.9L332.8,206.9L333.3,207.0L333.8,207.1L334.3,207.2L334.8,207.2L335.1,207.3" stroke="#43308c"/>
<path d="M22.3,192.9L22.8,193.2L23.3,193.4L23.8,193.6L24.3,193.9L24.8,194.1L25.3,194.4L25.8,194.6L26.3,194.9L26.8,195.1L27.3,195.3L27.8,195.6L28.3,195.8L28.8,196.1L29.3,196.3L29.8,196.5L30.3,196.8L30.8,197.0L31.3,197.2L31.8,197.5L32.3,197.7L32.8,197.9L33.3,198.2L33.8,198.4L34.3,198.6L34.8,198.8L35.3,199.1L35.8,199.3L36.3,199.5L36.8,199.7L37.3,199.9L37.8,200.1L38.3,200.4L38.8,200.6L39.3,200.8L39.8,201.0L40.3,201.2L40.8,201.4L41.3,201.6L41.8,201.8L42.3,202.0L42.8,202.2L43.3,202.4L43.8,202.5L44.3,202.7L44.8,202.9L45.3,203.1L45.8,203.3L46.3,203.4L46.8,203.6L47.3,203.8L47.8,204.0L48.3,204.1L48.8,204.3L49.3,204.5L49.8,204.6L50.3,204.8L50.8,204.9L51.3,205.1L51.8,205.3L52.3,205.4L52.8,205.6L53.3,205.7L53.8,205.9L54.3,206.0L54.8,206.2L55.3,206.3L55.8,206.4L56.3,206.6L56.8,206.7L57.3,206.9L57.8,207.0L58.3,207.1L58.8,207.3L59.3,207.4L59.8,207.5L60.3,207.7L60.8,207.8L61.3,207.9L61.8,208.0L62.3,208.2L62.8,208.3L63.3,208.4L63.8,208.5L64.3,208.6L64.8,208.8L65.3,208.9L65.8,209.0L66.3,209.1L66.8,209.3L67.3,209.4L67.8,209.5L68.3,209.6L68.8,209.7L69.3,209.9L69.8,210.0L70.3,210.1L70.8,210.2L71.3,210.3L71.8,210.5L72.3,210.6L72.8,210.7L73.3,210.9L73.8,211.0L74.3,211.1L74.8,211.2L75.3,211.4L75.8,211.5L76.3,211.6L76.8,211.8L77.3,211.9L77.8,212.1L78.3,212.2L78.8,212.3L79.3,212.5L79.8,212.6L80.3,212.8L80.8,213.0L81.3,213.1L81.8,213.3L82.3,213.4L82.8,213.6L83.3,213.8L83.8,213.9L84.3,214.1L84.8,214.3L85.3,214.5L85.8,214.7L86.3,214.9L86.8,215.1L87.3,215.3L87.8,215.5L88.3,215.7L88.8,215.9L89.3,216.1L89.8,216.3L90.3,216.6L90.8,216.8L91.3,217.0L91.8,217.3L92.3,217.5L92.8,217.8L93.3,218.1L93.8,218.3L94.3,218.6L94.8,218.9L95.3,219.2L95.8,219.5L96.3,219.8L96.8,220.1L97.3,220.4L97.8,220.7L98.3,221.0L98.8,221.3L99.3,221.7L99.8,222.0L100.3,222.4L100.8,222.7L101.3,223.1L101.8,223.5L102.3,223.8L102.8,224.2L103.3,224.6L103.8,225.0L104.3,225.4L104.8,225.8L105.3,226.2L105.8,226.7L106.3,227.1L106.8,227.5L107.3,227.9L107.8,228.4L108.3,228.8L108.8,229.3L109.3,229.8L109.8,230.2L110.3,230.7L110.8,231.2L111.3,231.7L111.8,232.2L112.3,232.7L112.8,233.2L113.3,233.7L113.8,234.2L114.3,234.7L114.8,235.3L115.3,235.8L115.8,236.3L116.3,236.9L116.8,237.4L117.3,238.0L117.8,238.6L118.3,239.1L118.8,239.7L119.3,240.3L119.8,240.9L120.3,241.5L120.8,242.1L121.3,242.7L121.8,243.3L122.3,243.9L122.8,244.5L123.3,245.2L123.8,245.8L124.3,246.4L124.8,247.1L125.3,247.7L125.8,248.4L126.3,249.1L126.8,249.7L127.3,250.4L127.8,251.1L128.3,251.8L128.8,252.5L129.3,253.2L129.8,253.9L130.3,254.6L130.8,255.4L131.3,256.1L131.8,256.8L132.3,257.6L132.8,258.3L133.3,259.1L133.8,259.9L134.3,260.6L134.8,261.4L135.3,262.2L135.8,263.0L136.3,263.8L136.8,264.6L137.3,265.4L137.8,266.2L138.3,267.0L138.8,267.9L139.3,268.7L139.8,269.6L140.3,270.4L140.8,271.3L141.3,272.1L141.8,273.0L142.3,273.9L142.8,274.7L143.3,275.6L143.8,276.5L144.3,277.4L144.8,278.3L145.3,279.2L145.8,280.0L146.3,280.9L146.8,281.8L147.3,282.7L147.8,283.6L148.3,284.5L148.8,285.4L149.3,286.3L149.8,287.2L150.3,288.1L150.8,289.0L151.3,289.9L151.8,290.8L152.3,291.7L152.8,292.6L153.3,293.5L153.8,294.4L154.3,295.2L154.8,296.1L155.3,297.0L155.8,297.8L156.3,298.7L156.8,299.6L157.3,300.4L157.8,301.3L158.3,302.1L158.8,302.9L159.3,303.8L159.8,304.6L160.3,305.4L160.8,306.2L161.3,307.0L161.8,307.8L162.3,308.6L162.8,309.4L163.3,310.2L163.8,311.0L164.3,311.7L164.8,312.5L165.3,313.2L165.8,314.0L166.3,314.7L166.8,315.4L167.3,316.1L167.8,316.8L168.3,317.6L168.8,318.2L169.3,318.9L169.8,319.6L170.3,320.3L170.8,321.0L171.3,321.6L171.8,322.3L172.3,322.9L172.8,323.5L173.3,324.2L173.8,324.8L174.3,325.4L174.8,326.0L175.3,326.6L175.8,327.2L176.3,327.7L176.8,328.3L177.3,328.9L177.8,329.4L178.3,330.0L178.8,330.5L179.3,331.0L179.8,331.5L180.3,332.0L180.8,332.6L181.3,333.0L181.8,333.5L182.3,334.0L182.8,334.5L183.3,334.9L183.8,335.4L184.3,335.8L184.8,336.3L185.3,336.7L185.8,337.1L186.3,337.5L186.8,337.9L187.3,338.3L187.8,338.7L188.3,339.1L188.8,339.4L189.3,339.7L189.8,340.1L190.3,340.4L190.8,340.7L191.3,340.9L191.8,341.2L192.3,341.5L192.8,341.7L193.3,341.9L193.8,342.1L194.3,342.3L194.8,342.4L195.3,342.6L195.8,342.7L196.3,342.8L196.8,342.9L197.3,343.0L197.8,343.1L198.3,343.1L198.8,343.1L199.3,343.1L199.8,343.1L200.3,343.1L200.8,343.0L201.3,343.0L201.8,342.9L202.3,342.8L202.8,342.7L203.3,342.5L203.8,342.4L204.3,342.2L204.8,342.0L205.3,341.8L205.8,341.6L206.3,341.4L206.8,341.1L207.3,340.8L207.8,340.6L208.3,340.3L208.8,340.0L209.3,339.6L209.8,339.3L210.3,338.9L210.8,338.6L211.3,338.2L211.8,337.8L212.3,337.4L212.8,337.0L213.3,336.6L213.8,336.2L214.3,335.7L214.8,335.3L215.3,334.8L215.8,334.4L216.3,333.9L216.8,333.4L217.3,333.0L217.8,332.5L218.3,332.0L218.8,331.5L219.3,330.9L219.8,330.4L220.3,329.9L220.8,329.4L221.3,328.8L221.8,328.3L222.3,327.7L222.8,327.2L223.3,326.6L223.8,326.0L224.3,325.5L224.8,324.9L225.3,324.3L225.8,323.7L226.3,323.1L226.8,322.5L227.3,321.9L227.8,321.3L228.3,320.7L228.8,320.1L229.3,319.5L229.8,318.8L230.3,318.2L230.8,317.6L231.3,316.9L231.8,316.3L232.3,315.7L232.8,315.0L233.3,314.4L233.8,313.7L234.3,313.1L234.8,312.4L235.3,311.8L235.8,311.1L236.3,310.5L236.8,309.8L237.3,309.2L237.8,308.5L238.3,307.8L238.8,307.2L239.3,306.5L239.8,305.8L240.3,305.2L240.8,304.5L241.3,303.9L241.8,303.2L242.3,302.5L242.8,301.9L243.3,301.2L243.8,300.6L244.3,299.9L244.8,299.3L245.3,298.6L245.8,298.0L246.3,297.4L246.8,296.7L247.3,296.1L247.8,295.5L248.3,294.9L248.8,294.2L249.3,293.6L249.8,293.0L250.3,292.5L250.8,291.9L251.3,291.3L251.8,290.7L252.3,290.2L252.8,289.6L253.3,289.1L253.8,288.5L254.3,288.0L254.8,287.5L255.3,287.0L255.8,286.5L256.3,286.0L256.8,285.5L257.3,285.1L257.8,284.6L258.3,284.2L258.8,283.8L259.3,283.4L259.8,283.0L260.3,282.6L260.8,282.2L261.3,281.9L261.8,281.5L262.3,281.2L262.8,280.9L263.3,280.6L263.8,280.3L264.3,280.1L264.8,279.8L265.3,279.6L265.8,279.3L266.3,279.1L266.8,278.9L267.3,278.7L267.8,278.6L268.3,278.4L268.8,278.3L269.3,278.1L269.8,278.0L270.3,277.9L270.8,277.8L271.3,277.7L271.8,277.7L272.3,277.6L272.8,277.5L273.3,277.5L273.8,277.5L274.3,277.5L274.8,277.5L275.3,277.5L275.8,277.5L276.3,277.5L276.8,277.5L277.3,277.6L277.8,277.6L278.3,277.6L278.8,277.7L279.3,277.8L279.8,277.8L280.3,277.9L280.8,278.0L281.3,278.1L281.8,278.2L282.3,278.2L282.8,278.3L283.3,278.4L283.8,278.5L284.3,278.6L284.8,278.7L285.3,278.8L285.8,278.9L286.3,279.0L286.8,279.1L287.3,279.2L287.8,279.3L288.3,279.4L288.8,279.5L289.3,279.6L289.8,279.7L290.3,279.8L290.8,279.9L291.3,280.0L291.8,280.1L292.3,280.2L292.8,280.2L293.3,280.3L293.8,280.4L294.3,280.5L294.8,280.6L295.3,280.6L295.8,280.7L296.3,280.8L296.8,280.8L297.3,280.9L297.8,281.0L298.3,281.0L298.8,281.1L299.3,281.1L299.8,281.2L300.3,281.3L300.8,281.3L301.3,281.4L301.8,281.4L302.3,281.4L302.8,281.5L303.3,281.5L303.8,281.6L304.3,281.6L304.8,281.6L305.3,281.7L305.8,281.7L306.3,281.7L306.8,281.8L307.3,281.8L307.8,281.8L308.3,281.8L308.8,281.8L309.3,281.9L309.8,281.9L310.3,281.9L310.8,281.9L311.3,281.9L311.8,281.9L312.3,281.9L312.8,281.9L313.3,281.9L313.8,281.9L314.3,281.9L314.8,281.8L315.3,281.8L315.8,281.8L316.3,281.8L316.8,281.8L317.3,281.8L317.8,281.7L318.3,281.7L318.8,281.7L319.3,281.6L319.8,281.6L320.3,281.6L320.8,281.5L321.3,281.5L321.8,281.5L322.3,281.4L322.8,281.4L323.3,281.3L323.8,281.3L324.3,281.3L324.8,281.2L325.3,281.2L325.8,281.1L326.3,281.1L326.8,281.0L327.3,281.0L327.8,280.9L328.3,280.9L328.8,280.8L329.3,280.7L329.8,280.7L330.3,280.6L330.8,280.6L331.3,280.5L331.8,280.5L332.3,280.4L332.8,280.4L333.3,280.3L333.8,280.2L334.3,280.2L334.8,280.1L335.1,280.1" stroke="#43308c"/>
<path d="M22.3,194.7L22.8,195.4L23.3,196.1L23.8,196.9L24.3,197.6L24.8,198.3L25.3,199.0L25.8,199.7L26.3,200.4L26.8,201.1L27.3,201.8L27.8,202.4L28.3,203.1L28.8,203.8L29.3,204.5L29.8,205.2L30.3,205.9L30.8,206.5L31.3,207.2L31.8,207.9L32.3,208.6L32.8,209.2L33.3,209.9L33.8,210.5L34.3,211.2L34.8,211.8L35.3,212.4L35.8,213.1L36.3,213.7L36.8,214.3L37.3,214.9L37.8,215.5L38.3,216.1L38.8,216.7L39.3,217.3L39.8,217.9L40.3,218.5L40.8,219.0L41.3,219.6L41.8,220.2L42.3,220.7L42.8,221.2L43.3,221.8L43.8,222.3L44.3,222.8L44.8,223.3L45.3,223.8L45.8,224.3L46.3,224.8L46.8,225.3L47.3,225.8L47.8,226.3L48.3,226.8L48.8,227.2L49.3,227.7L49.8,228.2L50.3,228.6L50.8,229.1L51.3,229.5L51.8,230.0L52.3,230.4L52.8,230.8L53.3,231.3L53.8,231.7L54.3,232.1L54.8,232.5L55.3,233.0L55.8,233.4L56.3,233.8L56.8,234.2L57.3,234.6L57.8,235.0L58.3,235.4L58.8,235.8L59.3,236.2L59.8,236.6L60.3,237.0L60.8,237.4L61.3,237.8L61.8,238.1L62.3,238.5L62.8,238.9L63.3,239.3L63.8,239.7L64.3,240.0L64.8,240.4L65.3,240.8L65.8,241.1L66.3,241.5L66.8,241.8L67.3,242.2L67.8,242.5L68.3,242.9L68.8,243.2L69.3,243.6L69.8,243.9L70.3,244.3L70.8,244.6L71.3,244.9L71.8,245.2L72.3,245.6L72.8,245.9L73.3,246.2L73.8,246.5L74.3,246.8L74.8,247.1L75.3,247.4L75.8,247.7L76.3,248.0L76.8,248.3L77.3,248.6L77.8,248.9L78.3,249.2L78.8,249.5L79.3,249.7L79.8,250.0L80.3,250.3L80.8,250.6L81.3,250.8L81.8,251.1L82.3,251.4L82.8,251.7L83.3,251.9L83.8,252.2L84.3,252.5L84.8,252.8L85.3,253.0L85.8,253.3L86.3,253.6L86.8,253.9L87.3,254.2L87.8,254.4L88.3,254.7L88.8,255.0L89.3,255.3L89.8,255.6L90.3,255.9L90.8,256.2L91.3,256.5L91.8,256.8L92.3,257.1L92.8,257.4L93.3,257.7L93.8,258.1L94.3,258.4L94.8,258.7L95.3,259.0L95.8,259.3L96.3,259.7L96.8,260.0L97.3,260.3L97.8,260.7L98.3,261.0L98.8,261.4L99.3,261.7L99.8,262.0L100.3,262.4L100.8,262.7L101.3,263.1L101.8,263.4L102.3,263.8L102.8,264.2L103.3,264.5L103.8,264.9L104.3,265.2L104.8,265.6L105.3,266.0L105.8,266.4L106.3,266.7L106.8,267.1L107.3,267.5L107.8,267.9L108.3,268.3L108.8,268.7L109.3,269.1L109.8,269.5L110.3,269.9L110.8,270.3L111.3,270.7L111.8,271.1L112.3,271.6L112.8,272.0L113.3,272.5L113.8,272.9L114.3,273.3L114.8,273.8L115.3,274.3L115.8,274.7L116.3,275.2L116.8,275.7L117.3,276.2L117.8,276.7L118.3,277.2L118.8,277.7L119.3,278.2L119.8,278.7L120.3,279.3L120.8,279.8L121.3,280.4L121.8,280.9L122.3,281.5L122.8,282.1L123.3,282.7L123.8,283.3L124.3,283.9L124.8,284.5L125.3,285.1L125.8,285.7L126.3,286.4L126.8,287.0L127.3,287.7L127.8,288.4L128.3,289.1L128.8,289.8L129.3,290.5L129.8,291.2L130.3,291.9L130.8,292.6L131.3,293.3L131.8,294.1L132.3,294.8L132.8,295.6L133.3,296.3L133.8,297.1L134.3,297.8L134.8,298.6L135.3,299.3L135.8,300.1L136.3,300.8L136.8,301.6L137.3,302.4L137.8,303.1L138.3,303.9L138.8,304.7L139.3,305.4L139.8,306.2L140.3,307.0L140.8,307.7L141.3,308.5L141.8,309.3L142.3,310.0L142.8,310.8L143.3,311.6L143.8,312.3L144.3,313.1L144.8,313.9L145.3,314.6L145.8,315.4L146.3,316.2L146.8,316.9L147.3,317.7L147.8,318.5L148.3,319.2L148.8,320.0L149.3,320.8L149.8,321.5L150.3,322.3L150.8,323.1L151.3,323.8L151.8,324.6L152.3,325.4L152.8,326.1L153.3,326.9L153.8,327.7L154.3,328.4L154.8,329.2L155.3,330.0L155.8,330.8L156.3,331.5L156.8,332.3L157.3,333.1L157.8,333.9L158.3,334.7L158.8,335.4L159.3,336.2L159.8,337.0L160.3,337.8L160.8,338.6L161.3,339.4L161.8,340.1L162.3,340.9L162.8,341.7L163.3,342.5L163.8,343.3L164.3,344.0L164.8,344.8L165.3,345.5L165.8,346.3L166.3,347.0L166.8,347.8L167.3,348.5L167.8,349.2L168.3,349.9L168.8,350.6L169.3,351.3L169.8,352.0L170.3,352.6L170.8,353.3L171.3,353.9L171.8,354.6L172.3,355.2L172.8,355.8L173.3,356.4L173.8,356.9L174.3,357.5L174.8,358.1L175.3,358.6L175.8,359.1L176.3,359.6L176.8,360.1L177.3,360.6L177.8,361.1L178.3,361.5L178.8,362.0L179.3,362.4L179.8,362.8L180.3,363.3L180.8,363.6L181.3,364.0L181.8,364.4L182.3,364.8L182.8,365.1L183.3,365.4L183.8,365.8L184.3,366.1L184.8,366.4L185.3,366.6L185.8,366.9L186.3,367.2L186.8,367.4L187.3,367.7L187.8,367.9L188.3,368.1L188.8,368.3L189.3,368.5L189.8,368.6L190.3,368.8L190.8,369.0L191.3,369.1L191.8,369.2L192.3,369.3L192.8,369.4L193.3,369.5L193.8,369.6L194.3,369.7L194.8,369.7L195.3,369.8L195.8,369.8L196.3,369.8L196.8,369.9L197.3,369.9L197.8,369.8L198.3,369.8L198.8,369.8L199.3,369.7L199.8,369.7L200.3,369.6L200.8,369.5L201.3,369.4L201.8,369.3L202.3,369.2L202.8,369.1L203.3,369.0L203.8,368.8L204.3,368.6L204.8,368.5L205.3,368.3L205.8,368.1L206.3,367.9L206.8,367.6L207.3,367.4L207.8,367.2L208.3,366.9L208.8,366.6L209.3,366.3L209.8,366.1L210.3,365.7L210.8,365.4L211.3,365.1L211.8,364.8L212.3,364.4L212.8,364.0L213.3,363.7L213.8,363.3L214.3,362.9L214.8,362.5L215.3,362.0L215.8,361.6L216.3,361.1L216.8,360.7L217.3,360.2L217.8,359.7L218.3,359.3L218.8,358.8L219.3,358.3L219.8,357.7L220.3,357.2L220.8,356.7L221.3,356.1L221.8,355.6L222.3,355.0L222.8,354.5L223.3,353.9L223.8,353.3L224.3,352.7L224.8,352.1L225.3,351.5L225.8,350.9L226.3,350.3L226.8,349.7L227.3,349.1L227.8,348.5L228.3,347.8L228.8,347.2L229.3,346.6L229.8,345.9L230.3,345.3L230.8,344.6L231.3,344.0L231.8,343.3L232.3,342.7L232.8,342.0L233.3,341.4L233.8,340.7L234.3,340.1L234.8,339.4L235.3,338.7L235.8,338.1L236.3,337.4L236.8,336.8L237.3,336.1L237.8,335.4L238.3,334.8L238.8,334.1L239.3,333.5L239.8,332.8L240.3,332.2L240.8,331.5L241.3,330.9L241.8,330.3L242.3,329.6L242.8,329.0L243.3,328.4L243.8,327.8L244.3,327.1L244.8,326.5L245.3,325.9L245.8,325.3L246.3,324.7L246.8,324.1L247.3,323.6L247.8,323.0L248.3,322.4L248.8,321.9L249.3,321.3L249.8,320.8L250.3,320.2L250.8,319.7L251.3,319.2L251.8,318.7L252.3,318.2L252.8,317.7L253.3,317.2L253.8,316.7L254.3,316.3L254.8,315.8L255.3,315.4L255.8,315.0L256.3,314.6L256.8,314.2L257.3,313.8L257.8,313.4L258.3,313.1L258.8,312.7L259.3,312.4L259.8,312.0L260.3,311.7L260.8,311.4L261.3,311.1L261.8,310.9L262.3,310.6L262.8,310.3L263.3,310.1L263.8,309.9L264.3,309.6L264.8,309.4L265.3,309.2L265.8,309.0L266.3,308.9L266.8,308.7L267.3,308.5L267.8,308.4L268.3,308.3L268.8,308.1L269.3,308.0L269.8,307.9L270.3,307.8L270.8,307.8L271.3,307.7L271.8,307.6L272.3,307.6L272.8,307.5L273.3,307.5L273.8,307.5L274.3,307.5L274.8,307.5L275.3,307.5L275.8,307.5L276.3,307.5L276.8,307.6L277.3,307.6L277.8,307.7L278.3,307.7L278.8,307.8L279.3,307.9L279.8,308.0L280.3,308.1L280.8,308.2L281.3,308.3L281.8,308.4L282.3,308.5L282.8,308.7L283.3,308.8L283.8,309.0L284.3,309.1L284.8,309.3L285.3,309.5L285.8,309.7L286.3,309.8L286.8,310.0L287.3,310.2L287.8,310.5L288.3,310.7L288.8,310.9L289.3,311.1L289.8,311.4L290.3,311.6L290.8,311.8L291.3,312.1L291.8,312.4L292.3,312.6L292.8,312.9L293.3,313.2L293.8,313.4L294.3,313.7L294.8,314.0L295.3,314.3L295.8,314.6L296.3,314.9L296.8,315.2L297.3,315.5L297.8,315.8L298.3,316.2L298.8,316.5L299.3,316.8L299.8,317.1L300.3,317.5L300.8,317.8L301.3,318.1L301.8,318.5L302.3,318.8L302.8,319.2L303.3,319.5L303.8,319.9L304.3,320.2L304.8,320.6L305.3,320.9L305.8,321.3L306.3,321.6L306.8,322.0L307.3,322.3L307.8,322.7L308.3,323.0L308.8,323.4L309.3,323.8L309.8,324.1L310.3,324.5L310.8,324.8L311.3,325.2L311.8,325.5L312.3,325.9L312.8,326.2L313.3,326.6L313.8,326.9L314.3,327.3L314.8,327.6L315.3,328.0L315.8,328.3L316.3,328.7L316.8,329.0L317.3,329.3L317.8,329.7L318.3,330.0L318.8,330.4L319.3,330.7L319.8,331.0L320.3,331.4L320.8,331.7L321.3,332.0L321.8,332.4L322.3,332.7L322.8,333.0L323.3,333.4L323.8,333.7L324.3,334.0L324.8,334.4L325.3,334.7L325.8,335.0L326.3,335.3L326.8,335.7L327.3,336.0L327.8,336.3L328.3,336.6L328.8,337.0L329.3,337.3L329.8,337.6L330.3,337.9L330.8,338.3L331.3,338.6L331.8,338.9L332.3,339.2L332.8,339.6L333.3,339.9L333.8,340.2L334.3,340.5L334.8,340.9L335.1,341.0" stroke="#43308c"/>
<path d="M22.3,286.1L22.8,286.3L23.3,286.5L23.8,286.7L24.3,286.9L24.8,287.1L25.3,287.3L25.8,287.5L26.3,287.7L26.8,287.9L27.3,288.1L27.8,288.3L28.3,288.5L28.8,288.7L29.3,288.9L29.8,289.1L30.3,289.3L30.8,289.5L31.3,289.7L31.8,289.9L32.3,290.1L32.8,290.3L33.3,290.5L33.8,290.7L34.3,290.9L34.8,291.1L35.3,291.3L35.8,291.5L36.3,291.7L36.8,291.9L37.3,292.1L37.8,292.4L38.3,292.6L38.8,292.8L39.3,293.0L39.8,293.2L40.3,293.4L40.8,293.6L41.3,293.8L41.8,294.1L42.3,294.3L42.8,294.5L43.3,294.7L43.8,294.9L44.3,295.1L44.8,295.4L45.3,295.6L45.8,295.8L46.3,296.0L46.8,296.2L47.3,296.4L47.8,296.7L48.3,296.9L48.8,297.1L49.3,297.3L49.8,297.5L50.3,297.7L50.8,297.9L51.3,298.2L51.8,298.4L52.3,298.6L52.8,298.8L53.3,299.0L53.8,299.2L54.3,299.4L54.8,299.6L55.3,299.8L55.8,300.0L56.3,300.2L56.8,300.4L57.3,300.6L57.8,300.8L58.3,300.9L58.8,301.1L59.3,301.3L59.8,301.5L60.3,301.7L60.8,301.9L61.3,302.1L61.8,302.3L62.3,302.5L62.8,302.7L63.3,302.9L63.8,303.0L64.3,303.2L64.8,303.4L65.3,303.6L65.8,303.8L66.3,304.0L66.8,304.3L67.3,304.5L67.8,304.7L68.3,304.9L68.8,305.1L69.3,305.3L69.8,305.6L70.3,305.8L70.8,306.0L71.3,306.3L71.8,306.5L72.3,306.7L72.8,307.0L73.3,307.3L73.8,307.5L74.3,307.8L74.8,308.0L75.3,308.3L75.8,308.6L76.3,308.9L76.8,309.1L77.3,309.4L77.8,309.7L78.3,310.0L78.8,310.3L79.3,310.6L79.8,310.9L80.3,311.2L80.8,311.5L81.3,311.8L81.8,312.2L82.3,312.5L82.8,312.8L83.3,313.1L83.8,313.5L84.3,313.8L84.8,314.2L85.3,314.5L85.8,314.9L86.3,315.2L86.8,315.6L87.3,315.9L87.8,316.3L88.3,316.6L88.8,317.0L89.3,317.4L89.8,317.8L90.3,318.1L90.8,318.5L91.3,318.9L91.8,319.3L92.3,319.7L92.8,320.1L93.3,320.5L93.8,320.8L94.3,321.2L94.8,321.6L95.3,322.0L95.8,322.4L96.3,322.8L96.8,323.2L97.3,323.6L97.8,324.0L98.3,324.4L98.8,324.8L99.3,325.3L99.8,325.7L100.3,326.1L100.8,326.5L101.3,326.9L101.8,327.3L102.3,327.7L102.8,328.1L103.3,328.5L103.8,328.9L104.3,329.3L104.8,329.7L105.3,330.1L105.8,330.5L106.3,330.9L106.8,331.3L107.3,331.8L107.8,332.2L108.3,332.6L108.8,333.0L109.3,333.4L109.8,333.8L110.3,334.2L110.8,334.6L111.3,335.0L111.8,335.4L112.3,335.8L112.8,336.2L113.3,336.6L113.8,337.0L114.3,337.4L114.8,337.8L115.3,338.2L115.8,338.6L116.3,339.0L116.8,339.5L117.3,339.9L117.8,340.3L118.3,340.7L118.8,341.1L119.3,341.5L119.8,341.9L120.3,342.3L120.8,342.7L121.3,343.1L121.8,343.5L122.3,343.9L122.8,344.3L123.3,344.7L123.8,345.1L124.3,345.5L124.8,345.9L125.3,346.3L125.8,346.7L126.3,347.1L126.8,347.5L127.3,347.9L127.8,348.3L128.3,348.7L128.8,349.1L129.3,349.5L129.8,349.9L130.3,350.3L130.8,350.7L131.3,351.1L131.8,351.5L132.3,351.9L132.8,352.3L133.3,352.7L133.8,353.0L134.3,353.4L134.8,353.8L135.3,354.2L135.8,354.6L136.3,355.0L136.8,355.4L137.3,355.7L137.8,356.1L138.3,356.5L138.8,356.9L139.3,357.2L139.8,357.6L140.3,358.0L140.8,358.4L141.3,358.7L141.8,359.1L142.3,359.5L142.8,359.8L143.3,360.2L143.8,360.5L144.3,360.9L144.8,361.2L145.3,361.6L145.8,361.9L146.3,362.2L146.8,362.6L147.3,362.9L147.8,363.2L148.3,363.6L148.8,363.9L149.3,364.2L149.8,364.5L150.3,364.8L150.8,365.2L151.3,365.5L151.8,365.8L152.3,366.1L152.8,366.4L153.3,366.6L153.8,366.9L154.3,367.2L154.8,367.5L155.3,367.8L155.8,368.0L156.3,368.3L156.8,368.6L157.3,368.8L157.8,369.1L158.3,369.4L158.8,369.6L159.3,369.9L159.8,370.1L160.3,370.4L160.8,370.6L161.3,370.8L161.8,371.1L162.3,371.3L162.8,371.5L163.3,371.8L163.8,372.0L164.3,372.2L164.8,372.4L165.3,372.6L165.8,372.9L166.3,373.1L166.8,373.3L167.3,373.5L167.8,373.7L168.3,373.9L168.8,374.1L169.3,374.3L169.8,374.4L170.3,374.6L170.8,374.8L171.3,375.0L171.8,375.2L172.3,375.3L172.8,375.5L173.3,375.7L173.8,375.8L174.3,376.0L174.8,376.2L175.3,376.3L175.8,376.5L176.3,376.6L176.8,376.8L177.3,376.9L177.8,377.1L178.3,377.2L178.8,377.4L179.3,377.5L179.8,377.6L180.3,377.8L180.8,377.9L181.3,378.0L181.8,378.1L182.3,378.3L182.8,378.4L183.3,378.5L183.8,378.6L184.3,378.7L184.8,378.8L185.3,378.9L185.8,379.0L186.3,379.1L186.8,379.2L187.3,379.3L187.8,379.4L188.3,379.5L188.8,379.6L189.3,379.7L189.8,379.7L190.3,379.8L190.8,379.9L191.3,379.9L191.8,380.0L192.3,380.0L192.8,380.1L193.3,380.1L193.8,380.2L194.3,380.2L194.8,380.2L195.3,380.2L195.8,380.2L196.3,380.3L196.8,380.3L197.3,380.3L197.8,380.2L198.3,380.2L198.8,380.2L199.3,380.2L199.8,380.1L200.3,380.1L200.8,380.1L201.3,380.0L201.8,379.9L202.3,379.9L202.8,379.8L203.3,379.7L203.8,379.6L204.3,379.5L204.8,379.4L205.3,379.3L205.8,379.2L206.3,379.1L206.8,378.9L207.3,378.8L207.8,378.6L208.3,378.5L208.8,378.3L209.3,378.2L209.8,378.0L210.3,377.8L210.8,377.6L211.3,377.4L211.8,377.2L212.3,377.0L212.8,376.7L213.3,376.5L213.8,376.2L214.3,376.0L214.8,375.7L215.3,375.4L215.8,375.2L216.3,374.9L216.8,374.6L217.3,374.3L217.8,373.9L218.3,373.6L218.8,373.3L219.3,372.9L219.8,372.6L220.3,372.2L220.8,371.9L221.3,371.5L221.8,371.1L222.3,370.8L222.8,370.4L223.3,370.0L223.8,369.6L224.3,369.2L224.8,368.7L225.3,368.3L225.8,367.9L226.3,367.5L226.8,367.0L227.3,366.6L227.8,366.1L228.3,365.7L228.8,365.2L229.3,364.8L229.8,364.3L230.3,363.8L230.8,363.3L231.3,362.9L231.8,362.4L232.3,361.9L232.8,361.4L233.3,360.9L233.8,360.4L234.3,359.9L234.8,359.4L235.3,358.9L235.8,358.4L236.3,357.9L236.8,357.4L237.3,356.9L237.8,356.3L238.3,355.8L238.8,355.3L239.3,354.8L239.8,354.2L240.3,353.7L240.8,353.2L241.3,352.7L241.8,352.1L242.3,351.6L242.8,351.1L243.3,350.5L243.8,350.0L244.3,349.5L244.8,348.9L245.3,348.4L245.8,347.9L246.3,347.3L246.8,346.8L247.3,346.3L247.8,345.7L248.3,345.2L248.8,344.7L249.3,344.1L249.8,343.6L250.3,343.1L250.8,342.6L251.3,342.0L251.8,341.5L252.3,341.0L252.8,340.5L253.3,340.0L253.8,339.5L254.3,339.0L254.8,338.5L255.3,337.9L255.8,337.4L256.3,337.0L256.8,336.5L257.3,336.0L257.8,335.5L258.3,335.0L258.8,334.5L259.3,334.0L259.8,333.6L260.3,333.1L260.8,332.7L261.3,332.2L261.8,331.7L262.3,331.3L262.8,330.9L263.3,330.4L263.8,330.0L264.3,329.6L264.8,329.1L265.3,328.7L265.8,328.3L266.3,327.9L266.8,327.5L267.3,327.1L267.8,326.7L268.3,326.4L268.8,326.0L269.3,325.6L269.8,325.2L270.3,324.9L270.8,324.5L271.3,324.2L271.8,323.8L272.3,323.5L272.8,323.1L273.3,322.8L273.8,322.5L274.3,322.2L274.8,321.9L275.3,321.5L275.8,321.2L276.3,320.9L276.8,320.6L277.3,320.4L277.8,320.1L278.3,319.8L278.8,319.5L279.3,319.3L279.8,319.0L280.3,318.7L280.8,318.5L281.3,318.2L281.8,318.0L282.3,317.7L282.8,317.5L283.3,317.3L283.8,317.0L284.3,316.8L284.8,316.6L285.3,316.4L285.8,316.2L286.3,316.0L286.8,315.8L287.3,315.6L287.8,315.4L288.3,315.2L288.8,315.0L289.3,314.9L289.8,314.7L290.3,314.5L290.8,314.4L291.3,314.2L291.8,314.1L292.3,313.9L292.8,313.8L293.3,313.6L293.8,313.5L294.3,313.4L294.8,313.2L295.3,313.1L295.8,313.0L296.3,312.9L296.8,312.8L297.3,312.7L297.8,312.5L298.3,312.5L298.8,312.4L299.3,312.3L299.8,312.2L300.3,312.1L300.8,312.0L301.3,311.9L301.8,311.9L302.3,311.8L302.8,311.7L303.3,311.7L303.8,311.6L304.3,311.6L304.8,311.5L305.3,311.5L305.8,311.4L306.3,311.4L306.8,311.3L307.3,311.3L307.8,311.3L308.3,311.3L308.8,311.2L309.3,311.2L309.8,311.2L310.3,311.2L310.8,311.2L311.3,311.2L311.8,311.2L312.3,311.2L312.8,311.2L313.3,311.2L313.8,311.2L314.3,311.2L314.8,311.2L315.3,311.2L315.8,311.2L316.3,311.2L316.8,311.3L317.3,311.3L317.8,311.3L318.3,311.3L318.8,311.4L319.3,311.4L319.8,311.4L320.3,311.5L320.8,311.5L321.3,311.6L321.8,311.6L322.3,311.7L322.8,311.7L323.3,311.7L323.8,311.8L324.3,311.8L324.8,311.9L325.3,312.0L325.8,312.0L326.3,312.1L326.8,312.1L327.3,312.2L327.8,312.2L328.3,312.3L328.8,312.4L329.3,312.4L329.8,312.5L330.3,312.6L330.8,312.6L331.3,312.7L331.8,312.8L332.3,312.8L332.8,312.9L333.3,313.0L333.8,313.0L334.3,313.1L334.8,313.2L335.1,313.2" stroke="#e6322a"/>
<path d="M22.3,299.4L22.8,299.5L23.3,299.7L23.8,299.8L24.3,300.0L24.8,300.1L25.3,300.3L25.8,300.4L26.3,300.6L26.8,300.7L27.3,300.9L27.8,301.0L28.3,301.2L28.8,301.3L29.3,301.5L29.8,301.6L30.3,301.8L30.8,302.0L31.3,302.1L31.8,302.3L32.3,302.5L32.8,302.7L33.3,302.9L33.8,303.0L34.3,303.2L34.8,303.4L35.3,303.6L35.8,303.9L36.3,304.1L36.8,304.3L37.3,304.5L37.8,304.7L38.3,305.0L38.8,305.2L39.3,305.5L39.8,305.7L40.3,306.0L40.8,306.2L41.3,306.5L41.8,306.8L42.3,307.1L42.8,307.4L43.3,307.7L43.8,308.0L44.3,308.3L44.8,308.6L45.3,308.9L45.8,309.2L46.3,309.5L46.8,309.9L47.3,310.2L47.8,310.5L48.3,310.9L48.8,311.2L49.3,311.6L49.8,311.9L50.3,312.3L50.8,312.6L51.3,313.0L51.8,313.3L52.3,313.7L52.8,314.1L53.3,314.4L53.8,314.8L54.3,315.2L54.8,315.6L55.3,315.9L55.8,316.3L56.3,316.7L56.8,317.1L57.3,317.4L57.8,317.8L58.3,318.2L58.8,318.6L59.3,319.0L59.8,319.4L60.3,319.8L60.8,320.2L61.3,320.6L61.8,320.9L62.3,321.3L62.8,321.7L63.3,322.1L63.8,322.5L64.3,323.0L64.8,323.4L65.3,323.8L65.8,324.2L66.3,324.6L66.8,325.0L67.3,325.4L67.8,325.8L68.3,326.3L68.8,326.7L69.3,327.1L69.8,327.5L70.3,328.0L70.8,328.4L71.3,328.8L71.8,329.3L72.3,329.7L72.8,330.1L73.3,330.6L73.8,331.0L74.3,331.5L74.8,331.9L75.3,332.3L75.8,332.8L76.3,333.2L76.8,333.7L77.3,334.1L77.8,334.6L78.3,335.0L78.8,335.5L79.3,335.9L79.8,336.4L80.3,336.8L80.8,337.3L81.3,337.7L81.8,338.2L82.3,338.6L82.8,339.1L83.3,339.5L83.8,340.0L84.3,340.4L84.8,340.9L85.3,341.3L85.8,341.8L86.3,342.2L86.8,342.7L87.3,343.1L87.8,343.5L88.3,344.0L88.8,344.4L89.3,344.8L89.8,345.3L90.3,345.7L90.8,346.1L91.3,346.5L91.8,347.0L92.3,347.4L92.8,347.8L93.3,348.2L93.8,348.6L94.3,349.0L94.8,349.4L95.3,349.8L95.8,350.2L96.3,350.6L96.8,351.0L97.3,351.4L97.8,351.7L98.3,352.1L98.8,352.5L99.3,352.9L99.8,353.2L100.3,353.6L100.8,353.9L101.3,354.3L101.8,354.6L102.3,354.9L102.8,355.2L103.3,355.6L103.8,355.9L104.3,356.2L104.8,356.5L105.3,356.8L105.8,357.1L106.3,357.4L106.8,357.7L107.3,358.0L107.8,358.2L108.3,358.5L108.8,358.8L109.3,359.1L109.8,359.3L110.3,359.6L110.8,359.9L111.3,360.1L111.8,360.4L112.3,360.6L112.8,360.9L113.3,361.1L113.8,361.4L114.3,361.6L114.8,361.9L115.3,362.1L115.8,362.4L116.3,362.6L116.8,362.9L117.3,363.1L117.8,363.3L118.3,363.6L118.8,363.8L119.3,364.1L119.8,364.3L120.3,364.5L120.8,364.8L121.3,365.0L121.8,365.3L122.3,365.5L122.8,365.7L123.3,366.0L123.8,366.2L124.3,366.5L124.8,366.7L125.3,367.0L125.8,367.2L126.3,367.5L126.8,367.7L127.3,368.0L127.8,368.2L128.3,368.5L128.8,368.7L129.3,369.0L129.8,369.2L130.3,369.5L130.8,369.8L131.3,370.0L131.8,370.3L132.3,370.6L132.8,370.8L133.3,371.1L133.8,371.4L134.3,371.7L134.8,372.0L135.3,372.2L135.8,372.5L136.3,372.8L136.8,373.1L137.3,373.4L137.8,373.7L138.3,374.0L138.8,374.3L139.3,374.6L139.8,374.9L140.3,375.2L140.8,375.6L141.3,375.9L141.8,376.2L142.3,376.5L142.8,376.8L143.3,377.1L143.8,377.5L144.3,377.8L144.8,378.1L145.3,378.4L145.8,378.8L146.3,379.1L146.8,379.4L147.3,379.8L147.8,380.1L148.3,380.4L148.8,380.8L149.3,381.1L149.8,381.4L150.3,381.8L150.8,382.1L151.3,382.4L151.8,382.8L152.3,383.1L152.8,383.5L153.3,383.8L153.8,384.1L154.3,384.5L154.8,384.8L155.3,385.1L155.8,385.5L156.3,385.8L156.8,386.1L157.3,386.5L157.8,386.8L158.3,387.1L158.8,387.5L159.3,387.8L159.8,388.1L160.3,388.5L160.8,388.8L161.3,389.1L161.8,389.4L162.3,389.8L162.8,390.1L163.3,390.4L163.8,390.7L164.3,391.0L164.8,391.4L165.3,391.7L165.8,392.0L166.3,392.3L166.8,392.6L167.3,392.9L167.8,393.2L168.3,393.5L168.8,393.8L169.3,394.0L169.8,394.3L170.3,394.6L170.8,394.9L171.3,395.2L171.8,395.4L172.3,395.7L172.8,396.0L173.3,396.2L173.8,396.5L174.3,396.7L174.8,397.0L175.3,397.2L175.8,397.5L176.3,397.7L176.8,397.9L177.3,398.1L177.8,398.4L178.3,398.6L178.8,398.8L179.3,399.0L179.8,399.2L180.3,399.4L180.8,399.6L181.3,399.7L181.8,399.9L182.3,400.1L182.8,400.3L183.3,400.4L183.8,400.6L184.3,400.7L184.8,400.8L185.3,401.0L185.8,401.1L186.3,401.2L186.8,401.3L187.3,401.4L187.8,401.5L188.3,401.6L188.8,401.7L189.3,401.8L189.8,401.9L190.3,402.0L190.8,402.0L191.3,402.1L191.8,402.2L192.3,402.2L192.8,402.2L193.3,402.3L193.8,402.3L194.3,402.3L194.8,402.4L195.3,402.4L195.8,402.4L196.3,402.4L196.8,402.4L197.3,402.4L197.8,402.4L198.3,402.3L198.8,402.3L199.3,402.3L199.8,402.2L200.3,402.2L200.8,402.2L201.3,402.1L201.8,402.1L202.3,402.0L202.8,401.9L203.3,401.9L203.8,401.8L204.3,401.7L204.8,401.6L205.3,401.5L205.8,401.5L206.3,401.4L206.8,401.3L207.3,401.2L207.8,401.1L208.3,401.0L208.8,400.9L209.3,400.7L209.8,400.6L210.3,400.5L210.8,400.4L211.3,400.3L211.8,400.1L212.3,400.0L212.8,399.9L213.3,399.7L213.8,399.6L214.3,399.5L214.8,399.3L215.3,399.2L215.8,399.0L216.3,398.9L216.8,398.7L217.3,398.6L217.8,398.4L218.3,398.3L218.8,398.1L219.3,398.0L219.8,397.8L220.3,397.6L220.8,397.5L221.3,397.3L221.8,397.1L222.3,397.0L222.8,396.8L223.3,396.6L223.8,396.5L224.3,396.3L224.8,396.1L225.3,395.9L225.8,395.8L226.3,395.6L226.8,395.4L227.3,395.2L227.8,395.0L228.3,394.9L228.8,394.7L229.3,394.5L229.8,394.3L230.3,394.1L230.8,393.9L231.3,393.8L231.8,393.6L232.3,393.4L232.8,393.2L233.3,393.0L233.8,392.8L234.3,392.7L234.8,392.5L235.3,392.3L235.8,392.1L236.3,391.9L236.8,391.7L237.3,391.5L237.8,391.3L238.3,391.2L238.8,391.0L239.3,390.8L239.8,390.6L240.3,390.4L240.8,390.2L241.3,390.1L241.8,389.9L242.3,389.7L242.8,389.5L243.3,389.3L243.8,389.2L244.3,389.0L244.8,388.8L245.3,388.7L245.8,388.5L246.3,388.3L246.8,388.2L247.3,388.0L247.8,387.8L248.3,387.7L248.8,387.6L249.3,387.4L249.8,387.3L250.3,387.1L250.8,387.0L251.3,386.9L251.8,386.8L252.3,386.6L252.8,386.5L253.3,386.4L253.8,386.3L254.3,386.2L254.8,386.1L255.3,386.0L255.8,386.0L256.3,385.9L256.8,385.8L257.3,385.8L257.8,385.7L258.3,385.7L258.8,385.6L259.3,385.6L259.8,385.6L260.3,385.6L260.8,385.6L261.3,385.6L261.8,385.6L262.3,385.6L262.8,385.6L263.3,385.6L263.8,385.7L264.3,385.7L264.8,385.8L265.3,385.8L265.8,385.9L266.3,386.0L266.8,386.0L267.3,386.1L267.8,386.2L268.3,386.3L268.8,386.4L269.3,386.5L269.8,386.6L270.3,386.7L270.8,386.9L271.3,387.0L271.8,387.1L272.3,387.2L272.8,387.4L273.3,387.5L273.8,387.7L274.3,387.8L274.8,388.0L275.3,388.2L275.8,388.3L276.3,388.5L276.8,388.7L277.3,388.9L277.8,389.1L278.3,389.3L278.8,389.4L279.3,389.6L279.8,389.8L280.3,390.0L280.8,390.2L281.3,390.5L281.8,390.7L282.3,390.9L282.8,391.1L283.3,391.3L283.8,391.5L284.3,391.8L284.8,392.0L285.3,392.2L285.8,392.4L286.3,392.7L286.8,392.9L287.3,393.1L287.8,393.4L288.3,393.6L288.8,393.9L289.3,394.1L289.8,394.3L290.3,394.6L290.8,394.8L291.3,395.1L291.8,395.3L292.3,395.6L292.8,395.8L293.3,396.0L293.8,396.3L294.3,396.5L294.8,396.8L295.3,397.0L295.8,397.3L296.3,397.6L296.8,397.8L297.3,398.1L297.8,398.3L298.3,398.6L298.8,398.8L299.3,399.1L299.8,399.3L300.3,399.6L300.8,399.8L301.3,400.1L301.8,400.4L302.3,400.6L302.8,400.9L303.3,401.1L303.8,401.4L304.3,401.6L304.8,401.9L305.3,402.1L305.8,402.4L306.3,402.7L306.8,402.9L307.3,403.2L307.8,403.4L308.3,403.7L308.8,403.9L309.3,404.2L309.8,404.5L310.3,404.7L310.8,405.0L311.3,405.2L311.8,405.5L312.3,405.7L312.8,406.0L313.3,406.2L313.8,406.5L314.3,406.7L314.8,407.0L315.3,407.2L315.8,407.5L316.3,407.7L316.8,408.0L317.3,408.2L317.8,408.4L318.3,408.7L318.8,408.9L319.3,409.2L319.8,409.4L320.3,409.7L320.8,409.9L321.3,410.1L321.8,410.4L322.3,410.6L322.8,410.9L323.3,411.1L323.8,411.4L324.3,411.6L324.8,411.8L325.3,412.1L325.8,412.3L326.3,412.5L326.8,412.8L327.3,413.0L327.8,413.3L328.3,413.5L328.8,413.7L329.3,414.0L329.8,414.2L330.3,414.5L330.8,414.7L331.3,414.9L331.8,415.2L332.3,415.4L332.8,415.6L333.3,415.9L333.8,416.1L334.3,416.3L334.8,416.6L335.1,416.7" stroke="#e6322a"/>
<path d="M22.3,323.7L22.8,323.8L23.3,324.0L23.8,324.2L24.3,324.4L24.8,324.6L25.3,324.8L25.8,325.0L26.3,325.2L26.8,325.4L27.3,325.6L27.8,325.8L28.3,326.0L28.8,326.2L29.3,326.4L29.8,326.6L30.3,326.8L30.8,327.0L31.3,327.3L31.8,327.5L32.3,327.7L32.8,327.9L33.3,328.1L33.8,328.3L34.3,328.5L34.8,328.8L35.3,329.0L35.8,329.2L36.3,329.5L36.8,329.7L37.3,329.9L37.8,330.2L38.3,330.4L38.8,330.6L39.3,330.9L39.8,331.1L40.3,331.4L40.8,331.6L41.3,331.9L41.8,332.2L42.3,332.4L42.8,332.7L43.3,333.0L43.8,333.2L44.3,333.5L44.8,333.8L45.3,334.1L45.8,334.3L46.3,334.6L46.8,334.9L47.3,335.2L47.8,335.4L48.3,335.7L48.8,336.0L49.3,336.3L49.8,336.6L50.3,336.9L50.8,337.1L51.3,337.4L51.8,337.7L52.3,338.0L52.8,338.3L53.3,338.5L53.8,338.8L54.3,339.1L54.8,339.4L55.3,339.7L55.8,339.9L56.3,340.2L56.8,340.5L57.3,340.7L57.8,341.0L58.3,341.3L58.8,341.5L59.3,341.8L59.8,342.1L60.3,342.3L60.8,342.6L61.3,342.9L61.8,343.1L62.3,343.4L62.8,343.6L63.3,343.9L63.8,344.1L64.3,344.4L64.8,344.7L65.3,344.9L65.8,345.2L66.3,345.4L66.8,345.7L67.3,345.9L67.8,346.2L68.3,346.4L68.8,346.7L69.3,346.9L69.8,347.2L70.3,347.4L70.8,347.7L71.3,347.9L71.8,348.2L72.3,348.4L72.8,348.7L73.3,348.9L73.8,349.2L74.3,349.4L74.8,349.7L75.3,349.9L75.8,350.2L76.3,350.4L76.8,350.7L77.3,350.9L77.8,351.2L78.3,351.4L78.8,351.7L79.3,351.9L79.8,352.2L80.3,352.4L80.8,352.7L81.3,353.0L81.8,353.2L82.3,353.5L82.8,353.7L83.3,354.0L83.8,354.3L84.3,354.5L84.8,354.8L85.3,355.1L85.8,355.3L86.3,355.6L86.8,355.9L87.3,356.2L87.8,356.4L88.3,356.7L88.8,357.0L89.3,357.3L89.8,357.6L90.3,357.9L90.8,358.1L91.3,358.4L91.8,358.7L92.3,359.0L92.8,359.3L93.3,359.6L93.8,359.9L94.3,360.2L94.8,360.5L95.3,360.8L95.8,361.1L96.3,361.4L96.8,361.7L97.3,362.0L97.8,362.3L98.3,362.7L98.8,363.0L99.3,363.3L99.8,363.6L100.3,363.9L100.8,364.2L101.3,364.6L101.8,364.9L102.3,365.2L102.8,365.5L103.3,365.9L103.8,366.2L104.3,366.5L104.8,366.8L105.3,367.2L105.8,367.5L106.3,367.8L106.8,368.2L107.3,368.5L107.8,368.8L108.3,369.2L108.8,369.5L109.3,369.8L109.8,370.2L110.3,370.5L110.8,370.9L111.3,371.2L111.8,371.5L112.3,371.9L112.8,372.2L113.3,372.5L113.8,372.9L114.3,373.2L114.8,373.6L115.3,373.9L115.8,374.2L116.3,374.6L116.8,374.9L117.3,375.2L117.8,375.6L118.3,375.9L118.8,376.2L119.3,376.6L119.8,376.9L120.3,377.2L120.8,377.5L121.3,377.9L121.8,378.2L122.3,378.5L122.8,378.8L123.3,379.2L123.8,379.5L124.3,379.8L124.8,380.1L125.3,380.4L125.8,380.8L126.3,381.1L126.8,381.4L127.3,381.7L127.8,382.1L128.3,382.4L128.8,382.7L129.3,383.1L129.8,383.4L130.3,383.7L130.8,384.1L131.3,384.4L131.8,384.8L132.3,385.1L132.8,385.4L133.3,385.8L133.8,386.1L134.3,386.5L134.8,386.9L135.3,387.2L135.8,387.6L136.3,388.0L136.8,388.3L137.3,388.7L137.8,389.1L138.3,389.5L138.8,389.9L139.3,390.2L139.8,390.6L140.3,391.0L140.8,391.4L141.3,391.8L141.8,392.2L142.3,392.6L142.8,393.0L143.3,393.4L143.8,393.8L144.3,394.2L144.8,394.6L145.3,395.0L145.8,395.4L146.3,395.8L146.8,396.2L147.3,396.6L147.8,397.0L148.3,397.4L148.8,397.8L149.3,398.2L149.8,398.6L150.3,398.9L150.8,399.3L151.3,399.7L151.8,400.1L152.3,400.5L152.8,400.9L153.3,401.3L153.8,401.7L154.3,402.0L154.8,402.4L155.3,402.8L155.8,403.2L156.3,403.5L156.8,403.9L157.3,404.3L157.8,404.6L158.3,405.0L158.8,405.3L159.3,405.7L159.8,406.0L160.3,406.3L160.8,406.7L161.3,407.0L161.8,407.3L162.3,407.7L162.8,408.0L163.3,408.3L163.8,408.6L164.3,408.9L164.8,409.2L165.3,409.5L165.8,409.8L166.3,410.1L166.8,410.4L167.3,410.7L167.8,411.0L168.3,411.2L168.8,411.5L169.3,411.8L169.8,412.0L170.3,412.3L170.8,412.6L171.3,412.8L171.8,413.1L172.3,413.3L172.8,413.5L173.3,413.8L173.8,414.0L174.3,414.2L174.8,414.4L175.3,414.7L175.8,414.9L176.3,415.1L176.8,415.3L177.3,415.5L177.8,415.7L178.3,415.9L178.8,416.1L179.3,416.3L179.8,416.4L180.3,416.6L180.8,416.8L181.3,417.0L181.8,417.1L182.3,417.3L182.8,417.4L183.3,417.6L183.8,417.7L184.3,417.9L184.8,418.0L185.3,418.1L185.8,418.3L186.3,418.4L186.8,418.5L187.3,418.6L187.8,418.7L188.3,418.9L188.8,419.0L189.3,419.1L189.8,419.1L190.3,419.2L190.8,419.3L191.3,419.4L191.8,419.5L192.3,419.5L192.8,419.6L193.3,419.7L193.8,419.7L194.3,419.8L194.8,419.8L195.3,419.9L195.8,419.9L196.3,420.0L196.8,420.0L197.3,420.0L197.8,420.0L198.3,420.0L198.8,420.1L199.3,420.1L199.8,420.1L200.3,420.1L200.8,420.1L201.3,420.1L201.8,420.1L202.3,420.1L202.8,420.0L203.3,420.0L203.8,420.0L204.3,420.0L204.8,419.9L205.3,419.9L205.8,419.9L206.3,419.8L206.8,419.8L207.3,419.8L207.8,419.7L208.3,419.7L208.8,419.6L209.3,419.6L209.8,419.5L210.3,419.5L210.8,419.4L211.3,419.3L211.8,419.3L212.3,419.2L212.8,419.2L213.3,419.1L213.8,419.0L214.3,419.0L214.8,418.9L215.3,418.8L215.8,418.7L216.3,418.7L216.8,418.6L217.3,418.5L217.8,418.4L218.3,418.4L218.8,418.3L219.3,418.2L219.8,418.1L220.3,418.0L220.8,417.9L221.3,417.8L221.8,417.8L222.3,417.7L222.8,417.6L223.3,417.5L223.8,417.4L224.3,417.3L224.8,417.2L225.3,417.1L225.8,417.0L226.3,416.9L226.8,416.8L227.3,416.7L227.8,416.6L228.3,416.5L228.8,416.4L229.3,416.3L229.8,416.2L230.3,416.1L230.8,416.0L231.3,415.9L231.8,415.8L232.3,415.7L232.8,415.6L233.3,415.5L233.8,415.3L234.3,415.2L234.8,415.1L235.3,415.0L235.8,414.9L236.3,414.8L236.8,414.7L237.3,414.5L237.8,414.4L238.3,414.3L238.8,414.2L239.3,414.1L239.8,413.9L240.3,413.8L240.8,413.7L241.3,413.6L241.8,413.5L242.3,413.3L242.8,413.2L243.3,413.1L243.8,413.0L244.3,412.9L244.8,412.7L245.3,412.6L245.8,412.5L246.3,412.4L246.8,412.3L247.3,412.2L247.8,412.1L248.3,411.9L248.8,411.8L249.3,411.7L249.8,411.6L250.3,411.5L250.8,411.5L251.3,411.4L251.8,411.3L252.3,411.2L252.8,411.1L253.3,411.0L253.8,411.0L254.3,410.9L254.8,410.8L255.3,410.8L255.8,410.7L256.3,410.7L256.8,410.6L257.3,410.6L257.8,410.5L258.3,410.5L258.8,410.5L259.3,410.5L259.8,410.4L260.3,410.4L260.8,410.4L261.3,410.4L261.8,410.4L262.3,410.5L262.8,410.5L263.3,410.5L263.8,410.5L264.3,410.6L264.8,410.6L265.3,410.7L265.8,410.7L266.3,410.8L266.8,410.9L267.3,411.0L267.8,411.0L268.3,411.1L268.8,411.2L269.3,411.3L269.8,411.4L270.3,411.6L270.8,411.7L271.3,411.8L271.8,411.9L272.3,412.1L272.8,412.2L273.3,412.4L273.8,412.5L274.3,412.7L274.8,412.9L275.3,413.1L275.8,413.3L276.3,413.4L276.8,413.6L277.3,413.8L277.8,414.1L278.3,414.3L278.8,414.5L279.3,414.7L279.8,415.0L280.3,415.2L280.8,415.5L281.3,415.7L281.8,416.0L282.3,416.2L282.8,416.5L283.3,416.8L283.8,417.1L284.3,417.4L284.8,417.7L285.3,418.0L285.8,418.3L286.3,418.6L286.8,418.9L287.3,419.2L287.8,419.5L288.3,419.9L288.8,420.2L289.3,420.5L289.8,420.9L290.3,421.2L290.8,421.6L291.3,421.9L291.8,422.3L292.3,422.6L292.8,423.0L293.3,423.4L293.8,423.8L294.3,424.1L294.8,424.5L295.3,424.9L295.8,425.3L296.3,425.7L296.8,426.1L297.3,426.5L297.8,426.9L298.3,427.3L298.8,427.7L299.3,428.1L299.8,428.5L300.3,428.9L300.8,429.4L301.3,429.8L301.8,430.2L302.3,430.6L302.8,431.1L303.3,431.5L303.8,431.9L304.3,432.4L304.8,432.8L305.3,433.3L305.8,433.7L306.3,434.2L306.8,434.6L307.3,435.1L307.8,435.5L308.3,436.0L308.8,436.5L309.3,436.9L309.8,437.4L310.3,437.9L310.8,438.4L311.3,438.9L311.8,439.3L312.3,439.8L312.8,440.3L313.3,440.8L313.8,441.3L314.3,441.8L314.8,442.3L315.3,442.8L315.8,443.3L316.3,443.8L316.8,444.3L317.3,444.8L317.8,445.4L318.3,445.9L318.8,446.4L319.3,446.9L319.8,447.5L320.3,448.0L320.8,448.5L321.3,449.1L321.8,449.6L322.3,450.2L322.8,450.7L323.3,451.3L323.8,451.8L324.3,452.4L324.8,452.9L325.3,453.5L325.8,454.0L326.3,454.6L326.8,455.2L327.3,455.7L327.8,456.3L328.3,456.9L328.8,457.4L329.3,458.0L329.8,458.6L330.3,459.1L330.8,459.7L331.3,460.3L331.8,460.8L332.3,461.4L332.8,462.0L333.3,462.6L333.8,463.2L334.3,463.7L334.8,464.3L335.1,464.6" stroke="#e6322a"/>
</g>
<line x1="195.1" y1="132.5" x2="195.1" y2="439" stroke="#000" stroke-width="2"/>
<g fill="none" stroke-width="1.25" stroke-linejoin="round" stroke-linecap="round" clip-path="url(#cb)">
<path d="M362.2,71.4L362.7,71.4L363.2,71.4L363.7,71.4L364.2,71.4L364.7,71.4L365.2,71.4L365.7,71.4L366.2,71.4L366.7,71.4L367.2,71.4L367.7,71.4L368.2,71.4L368.7,71.4L369.2,71.5L369.7,71.5L370.2,71.5L370.7,71.5L371.2,71.5L371.7,71.5L372.2,71.6L372.7,71.6L373.2,71.6L373.7,71.7L374.2,71.7L374.7,71.7L375.2,71.8L375.7,71.8L376.2,71.9L376.7,71.9L377.2,72.0L377.7,72.1L378.2,72.2L378.7,72.2L379.2,72.3L379.7,72.4L380.2,72.6L380.7,72.7L381.2,72.8L381.7,72.9L382.2,73.1L382.7,73.3L383.2,73.4L383.7,73.6L384.2,73.8L384.7,74.0L385.2,74.2L385.7,74.5L386.2,74.7L386.7,74.9L387.2,75.2L387.7,75.5L388.2,75.7L388.7,76.0L389.2,76.2L389.7,76.5L390.2,76.8L390.7,77.0L391.2,77.3L391.7,77.6L392.2,77.9L392.7,78.1L393.2,78.4L393.7,78.6L394.2,78.9L394.7,79.1L395.2,79.4L395.7,79.7L396.2,79.9L396.7,80.2L397.2,80.4L397.7,80.7L398.2,80.9L398.7,81.1L399.2,81.4L399.7,81.6L400.2,81.9L400.7,82.1L401.2,82.4L401.7,82.6L402.2,82.9L402.7,83.2L403.2,83.4L403.7,83.7L404.2,83.9L404.7,84.2L405.2,84.5L405.7,84.8L406.2,85.0L406.7,85.3L407.2,85.6L407.7,85.9L408.2,86.2L408.7,86.5L409.2,86.8L409.7,87.1L410.2,87.5L410.7,87.8L411.2,88.1L411.7,88.5L412.2,88.8L412.7,89.2L413.2,89.5L413.7,89.9L414.2,90.3L414.7,90.6L415.2,91.0L415.7,91.3L416.2,91.7L416.7,92.0L417.2,92.4L417.7,92.7L418.2,93.1L418.7,93.4L419.2,93.7L419.7,94.0L420.2,94.4L420.7,94.7L421.2,94.9L421.7,95.2L422.2,95.5L422.7,95.8L423.2,96.0L423.7,96.3L424.2,96.5L424.7,96.8L425.2,97.0L425.7,97.2L426.2,97.5L426.7,97.7L427.2,97.9L427.7,98.1L428.2,98.4L428.7,98.6L429.2,98.8L429.7,99.0L430.2,99.2L430.7,99.4L431.2,99.6L431.7,99.7L432.2,99.9L432.7,100.1L433.2,100.2L433.7,100.4L434.2,100.6L434.7,100.7L435.2,100.8L435.7,101.0L436.2,101.1L436.7,101.2L437.2,101.3L437.7,101.4L438.2,101.5L438.7,101.6L439.2,101.7L439.7,101.7L440.2,101.8L440.7,101.9L441.2,102.0L441.7,102.0L442.2,102.1L442.7,102.1L443.2,102.2L443.7,102.2L444.2,102.3L444.7,102.3L445.2,102.4L445.7,102.4L446.2,102.4L446.7,102.5L447.2,102.5L447.7,102.5L448.2,102.6L448.7,102.6L449.2,102.6L449.7,102.7L450.2,102.7L450.7,102.7L451.2,102.7L451.7,102.8L452.2,102.8L452.7,102.8L453.2,102.8L453.7,102.9L454.2,102.9L454.7,102.9L455.2,102.9L455.7,102.9L456.2,103.0L456.7,103.0L457.2,103.0L457.7,103.0L458.2,103.1L458.7,103.1L459.2,103.1L459.7,103.1L460.2,103.2L460.7,103.2L461.2,103.2L461.7,103.2L462.2,103.3L462.7,103.3L463.2,103.3L463.7,103.4L464.2,103.4L464.7,103.4L465.2,103.5L465.7,103.5L466.2,103.6L466.7,103.6L467.2,103.7L467.7,103.7L468.2,103.7L468.7,103.8L469.2,103.8L469.7,103.9L470.2,104.0L470.7,104.0L471.2,104.1L471.7,104.1L472.2,104.2L472.7,104.3L473.2,104.3L473.7,104.4L474.2,104.5L474.7,104.5L475.2,104.6L475.7,104.7L476.2,104.8L476.7,104.9L477.2,104.9L477.7,105.0L478.2,105.1L478.7,105.2L479.2,105.3L479.7,105.4L480.2,105.5L480.7,105.6L481.2,105.7L481.7,105.8L482.2,105.9L482.7,106.0L483.2,106.1L483.7,106.3L484.2,106.4L484.7,106.5L485.2,106.6L485.7,106.7L486.2,106.9L486.7,107.0L487.2,107.1L487.7,107.3L488.2,107.4L488.7,107.5L489.2,107.7L489.7,107.8L490.2,108.0L490.7,108.1L491.2,108.3L491.7,108.4L492.2,108.6L492.7,108.7L493.2,108.9L493.7,109.0L494.2,109.2L494.7,109.3L495.2,109.5L495.7,109.7L496.2,109.9L496.7,110.0L497.2,110.2L497.7,110.4L498.2,110.5L498.7,110.7L499.2,110.9L499.7,111.1L500.2,111.3L500.7,111.5L501.2,111.7L501.7,111.8L502.2,112.0L502.7,112.2L503.2,112.4L503.7,112.6L504.2,112.8L504.7,112.9L505.2,113.1L505.7,113.2L506.2,113.4L506.7,113.5L507.2,113.7L507.7,113.8L508.2,114.0L508.7,114.2L509.2,114.3L509.7,114.5L510.2,114.7L510.7,115.0L511.2,115.2L511.7,115.5L512.2,115.8L512.7,116.2L513.2,116.5L513.7,116.9L514.2,117.4L514.7,117.9L515.2,118.5L515.7,119.1L516.2,119.7L516.7,120.4L517.2,121.2L517.7,122.1L518.2,123.0L518.7,124.0L519.2,125.0L519.7,126.1L520.2,127.3L520.7,128.5L521.2,129.8L521.7,131.1L522.2,132.5L522.7,133.9L523.2,135.4L523.7,136.9L524.2,138.4L524.7,139.9L525.2,141.4L525.7,142.9L526.2,144.4L526.7,145.9L527.2,147.4L527.7,148.9L528.2,150.3L528.7,151.7L529.2,153.1L529.7,154.4L530.2,155.7L530.7,156.9L531.2,158.0L531.7,159.1L532.2,160.1L532.7,161.1L533.2,162.1L533.7,163.0L534.2,163.8L534.7,164.7L535.2,165.5L535.7,166.3L536.2,167.1L536.7,167.9L537.2,168.7L537.7,169.4L538.2,170.2L538.7,170.9L539.2,171.7L539.7,172.4L540.2,173.2L540.7,173.9L541.2,174.6L541.7,175.3L542.2,175.9L542.7,176.6L543.2,177.2L543.7,177.8L544.2,178.4L544.7,179.0L545.2,179.5L545.7,180.1L546.2,180.6L546.7,181.0L547.2,181.5L547.7,181.9L548.2,182.3L548.7,182.6L549.2,182.9L549.7,183.2L550.2,183.5L550.7,183.7L551.2,183.9L551.7,184.0L552.2,184.1L552.7,184.1L553.2,184.1L553.7,184.0L554.2,183.9L554.7,183.7L555.2,183.5L555.7,183.2L556.2,182.8L556.7,182.4L557.2,181.9L557.7,181.4L558.2,180.7L558.7,180.0L559.2,179.3L559.7,178.5L560.2,177.6L560.7,176.7L561.2,175.8L561.7,174.8L562.2,173.8L562.7,172.8L563.2,171.8L563.7,170.8L564.2,169.7L564.7,168.7L565.2,167.7L565.7,166.6L566.2,165.6L566.7,164.5L567.2,163.5L567.7,162.4L568.2,161.3L568.7,160.1L569.2,159.0L569.7,157.8L570.2,156.6L570.7,155.3L571.2,154.0L571.7,152.6L572.2,151.2L572.7,149.8L573.2,148.2L573.7,146.7L574.2,145.1L574.7,143.4L575.2,141.7L575.7,140.0L576.2,138.3L576.7,136.6L577.2,134.9L577.7,133.2L578.2,131.5L578.7,129.9L579.2,128.3L579.7,126.7L580.2,125.2L580.7,123.8L581.2,122.3L581.7,121.0L582.2,119.7L582.7,118.4L583.2,117.2L583.7,116.0L584.2,114.8L584.7,113.7L585.2,112.6L585.7,111.6L586.2,110.5L586.7,109.5L587.2,108.5L587.7,107.6L588.2,106.6L588.7,105.6L589.2,104.7L589.7,103.7L590.2,102.8L590.7,101.9L591.2,100.9L591.7,100.0L592.2,99.1L592.7,98.2L593.2,97.3L593.7,96.4L594.2,95.5L594.7,94.6L595.2,93.7L595.7,92.8L596.2,91.9L596.7,91.1L597.2,90.2L597.7,89.4L598.2,88.5L598.7,87.7L599.2,86.9L599.7,86.1L600.2,85.3L600.7,84.5L601.2,83.7L601.7,83.0L602.2,82.2L602.7,81.5L603.2,80.8L603.7,80.1L604.2,79.4L604.7,78.7L605.2,78.0L605.7,77.3L606.2,76.7L606.7,76.1L607.2,75.4L607.7,74.8L608.2,74.2L608.7,73.7L609.2,73.1L609.7,72.5L610.2,72.0L610.7,71.5L611.2,71.0L611.7,70.5L612.2,70.0L612.7,69.5L613.2,69.0L613.7,68.6L614.2,68.2L614.7,67.8L615.2,67.4L615.7,67.0L616.2,66.6L616.7,66.3L617.2,66.0L617.7,65.6L618.2,65.3L618.7,65.0L619.2,64.7L619.7,64.5L620.2,64.2L620.7,63.9L621.2,63.7L621.7,63.4L622.2,63.2L622.7,63.0L623.2,62.7L623.7,62.5L624.2,62.3L624.7,62.1L625.2,61.9L625.7,61.7L626.2,61.5L626.7,61.3L627.2,61.1L627.7,60.9L628.2,60.7L628.7,60.5L629.2,60.4L629.7,60.2L630.2,60.0L630.7,59.8L631.2,59.6L631.7,59.5L632.2,59.3L632.7,59.1L633.2,58.9L633.7,58.8L634.2,58.6L634.7,58.4L635.2,58.3L635.7,58.1L636.2,57.9L636.7,57.7L637.2,57.6L637.7,57.4L638.2,57.3L638.7,57.1L639.2,56.9L639.7,56.8L640.2,56.6L640.7,56.4L641.2,56.3L641.7,56.1L642.2,56.0L642.7,55.8L643.2,55.7L643.7,55.5L644.2,55.4L644.7,55.2L645.2,55.1L645.7,55.0L646.2,54.8L646.7,54.7L647.2,54.5L647.7,54.4L648.2,54.3L648.7,54.2L649.2,54.0L649.7,53.9L650.2,53.8L650.7,53.7L651.2,53.6L651.7,53.4L652.2,53.3L652.7,53.2L653.2,53.1L653.7,53.0L654.2,52.9L654.7,52.8L655.2,52.7L655.7,52.6L656.2,52.5L656.7,52.4L657.2,52.3L657.7,52.2L658.2,52.2L658.7,52.1L659.2,52.0L659.7,51.9L660.2,51.8L660.7,51.8L661.2,51.7L661.7,51.6L662.2,51.5L662.7,51.5L663.2,51.4L663.7,51.3L664.2,51.2L664.7,51.2L665.2,51.1L665.7,51.0L666.2,51.0L666.7,50.9L667.2,50.9L667.7,50.8L668.2,50.7L668.7,50.7L669.2,50.6L669.7,50.6L670.2,50.5L670.7,50.4L671.2,50.4L671.7,50.3L672.2,50.3L672.7,50.2L673.2,50.2L673.7,50.1L674.2,50.1L674.7,50.0L675.2,50.0L675.7,49.9L676.2,49.9L676.7,49.8" stroke="#43308c"/>
<path d="M362.2,106.1L362.7,106.0L363.2,106.0L363.7,105.9L364.2,105.9L364.7,105.8L365.2,105.8L365.7,105.8L366.2,105.7L366.7,105.7L367.2,105.6L367.7,105.6L368.2,105.6L368.7,105.5L369.2,105.5L369.7,105.5L370.2,105.5L370.7,105.5L371.2,105.5L371.7,105.4L372.2,105.4L372.7,105.5L373.2,105.5L373.7,105.5L374.2,105.5L374.7,105.5L375.2,105.6L375.7,105.6L376.2,105.7L376.7,105.7L377.2,105.8L377.7,105.9L378.2,106.0L378.7,106.1L379.2,106.2L379.7,106.3L380.2,106.4L380.7,106.5L381.2,106.6L381.7,106.8L382.2,107.0L382.7,107.1L383.2,107.3L383.7,107.5L384.2,107.7L384.7,107.9L385.2,108.1L385.7,108.4L386.2,108.6L386.7,108.8L387.2,109.1L387.7,109.4L388.2,109.6L388.7,109.9L389.2,110.2L389.7,110.5L390.2,110.8L390.7,111.0L391.2,111.3L391.7,111.6L392.2,111.9L392.7,112.3L393.2,112.6L393.7,112.9L394.2,113.2L394.7,113.5L395.2,113.8L395.7,114.1L396.2,114.4L396.7,114.7L397.2,115.0L397.7,115.3L398.2,115.6L398.7,115.9L399.2,116.3L399.7,116.6L400.2,116.9L400.7,117.2L401.2,117.5L401.7,117.8L402.2,118.1L402.7,118.4L403.2,118.6L403.7,118.9L404.2,119.2L404.7,119.5L405.2,119.8L405.7,120.1L406.2,120.4L406.7,120.7L407.2,121.0L407.7,121.3L408.2,121.5L408.7,121.8L409.2,122.1L409.7,122.4L410.2,122.7L410.7,122.9L411.2,123.2L411.7,123.5L412.2,123.8L412.7,124.1L413.2,124.4L413.7,124.6L414.2,124.9L414.7,125.2L415.2,125.5L415.7,125.8L416.2,126.1L416.7,126.4L417.2,126.7L417.7,127.0L418.2,127.3L418.7,127.6L419.2,127.9L419.7,128.2L420.2,128.5L420.7,128.8L421.2,129.1L421.7,129.4L422.2,129.7L422.7,130.0L423.2,130.3L423.7,130.6L424.2,130.9L424.7,131.2L425.2,131.5L425.7,131.8L426.2,132.0L426.7,132.3L427.2,132.5L427.7,132.8L428.2,133.0L428.7,133.2L429.2,133.4L429.7,133.6L430.2,133.7L430.7,133.9L431.2,134.1L431.7,134.2L432.2,134.4L432.7,134.5L433.2,134.6L433.7,134.8L434.2,134.9L434.7,135.0L435.2,135.1L435.7,135.2L436.2,135.3L436.7,135.3L437.2,135.4L437.7,135.5L438.2,135.6L438.7,135.6L439.2,135.7L439.7,135.7L440.2,135.8L440.7,135.8L441.2,135.9L441.7,135.9L442.2,136.0L442.7,136.0L443.2,136.1L443.7,136.1L444.2,136.1L444.7,136.2L445.2,136.2L445.7,136.2L446.2,136.3L446.7,136.3L447.2,136.3L447.7,136.4L448.2,136.4L448.7,136.4L449.2,136.5L449.7,136.5L450.2,136.5L450.7,136.5L451.2,136.6L451.7,136.6L452.2,136.6L452.7,136.6L453.2,136.7L453.7,136.7L454.2,136.7L454.7,136.7L455.2,136.8L455.7,136.8L456.2,136.8L456.7,136.9L457.2,136.9L457.7,136.9L458.2,137.0L458.7,137.0L459.2,137.1L459.7,137.1L460.2,137.1L460.7,137.2L461.2,137.2L461.7,137.3L462.2,137.3L462.7,137.4L463.2,137.5L463.7,137.5L464.2,137.6L464.7,137.6L465.2,137.7L465.7,137.8L466.2,137.8L466.7,137.9L467.2,138.0L467.7,138.0L468.2,138.1L468.7,138.2L469.2,138.3L469.7,138.3L470.2,138.4L470.7,138.5L471.2,138.6L471.7,138.6L472.2,138.7L472.7,138.8L473.2,138.9L473.7,139.0L474.2,139.0L474.7,139.1L475.2,139.2L475.7,139.3L476.2,139.3L476.7,139.4L477.2,139.5L477.7,139.6L478.2,139.6L478.7,139.7L479.2,139.8L479.7,139.8L480.2,139.9L480.7,140.0L481.2,140.0L481.7,140.1L482.2,140.2L482.7,140.2L483.2,140.3L483.7,140.4L484.2,140.4L484.7,140.5L485.2,140.6L485.7,140.6L486.2,140.7L486.7,140.8L487.2,140.8L487.7,140.9L488.2,141.0L488.7,141.1L489.2,141.2L489.7,141.2L490.2,141.3L490.7,141.4L491.2,141.5L491.7,141.6L492.2,141.7L492.7,141.8L493.2,141.9L493.7,142.1L494.2,142.2L494.7,142.3L495.2,142.5L495.7,142.6L496.2,142.8L496.7,142.9L497.2,143.1L497.7,143.3L498.2,143.5L498.7,143.7L499.2,143.9L499.7,144.1L500.2,144.4L500.7,144.6L501.2,144.9L501.7,145.1L502.2,145.4L502.7,145.7L503.2,145.9L503.7,146.2L504.2,146.5L504.7,146.7L505.2,146.9L505.7,147.2L506.2,147.4L506.7,147.6L507.2,147.7L507.7,147.9L508.2,148.0L508.7,148.2L509.2,148.3L509.7,148.5L510.2,148.6L510.7,148.8L511.2,149.0L511.7,149.2L512.2,149.4L512.7,149.7L513.2,150.0L513.7,150.3L514.2,150.7L514.7,151.2L515.2,151.7L515.7,152.3L516.2,152.9L516.7,153.6L517.2,154.3L517.7,155.2L518.2,156.1L518.7,157.1L519.2,158.1L519.7,159.2L520.2,160.3L520.7,161.5L521.2,162.7L521.7,164.0L522.2,165.2L522.7,166.5L523.2,167.8L523.7,169.0L524.2,170.2L524.7,171.4L525.2,172.5L525.7,173.7L526.2,174.7L526.7,175.8L527.2,176.9L527.7,177.9L528.2,178.9L528.7,179.9L529.2,180.9L529.7,181.9L530.2,182.9L530.7,183.9L531.2,184.9L531.7,185.9L532.2,186.9L532.7,187.9L533.2,188.9L533.7,190.0L534.2,191.0L534.7,192.0L535.2,193.1L535.7,194.1L536.2,195.1L536.7,196.1L537.2,197.1L537.7,198.0L538.2,199.0L538.7,199.9L539.2,200.8L539.7,201.7L540.2,202.5L540.7,203.3L541.2,204.1L541.7,204.8L542.2,205.5L542.7,206.1L543.2,206.7L543.7,207.3L544.2,207.8L544.7,208.4L545.2,208.9L545.7,209.3L546.2,209.8L546.7,210.2L547.2,210.6L547.7,210.9L548.2,211.3L548.7,211.6L549.2,211.9L549.7,212.1L550.2,212.4L550.7,212.6L551.2,212.7L551.7,212.8L552.2,212.9L552.7,212.9L553.2,212.9L553.7,212.8L554.2,212.7L554.7,212.6L555.2,212.4L555.7,212.1L556.2,211.8L556.7,211.5L557.2,211.1L557.7,210.7L558.2,210.2L558.7,209.7L559.2,209.1L559.7,208.5L560.2,207.9L560.7,207.2L561.2,206.5L561.7,205.7L562.2,204.9L562.7,204.1L563.2,203.2L563.7,202.4L564.2,201.4L564.7,200.5L565.2,199.5L565.7,198.5L566.2,197.5L566.7,196.4L567.2,195.4L567.7,194.2L568.2,193.1L568.7,192.0L569.2,190.8L569.7,189.6L570.2,188.3L570.7,187.1L571.2,185.8L571.7,184.5L572.2,183.1L572.7,181.8L573.2,180.4L573.7,179.0L574.2,177.6L574.7,176.1L575.2,174.7L575.7,173.2L576.2,171.7L576.7,170.2L577.2,168.7L577.7,167.1L578.2,165.6L578.7,164.1L579.2,162.6L579.7,161.0L580.2,159.5L580.7,158.1L581.2,156.6L581.7,155.2L582.2,153.8L582.7,152.4L583.2,151.0L583.7,149.7L584.2,148.4L584.7,147.2L585.2,146.0L585.7,144.8L586.2,143.7L586.7,142.6L587.2,141.5L587.7,140.5L588.2,139.5L588.7,138.5L589.2,137.5L589.7,136.6L590.2,135.7L590.7,134.8L591.2,133.9L591.7,133.1L592.2,132.2L592.7,131.4L593.2,130.6L593.7,129.8L594.2,129.0L594.7,128.2L595.2,127.5L595.7,126.7L596.2,126.0L596.7,125.3L597.2,124.5L597.7,123.8L598.2,123.1L598.7,122.4L599.2,121.7L599.7,121.0L600.2,120.4L600.7,119.7L601.2,119.0L601.7,118.3L602.2,117.7L602.7,117.0L603.2,116.4L603.7,115.7L604.2,115.1L604.7,114.4L605.2,113.8L605.7,113.1L606.2,112.5L606.7,111.8L607.2,111.2L607.7,110.6L608.2,109.9L608.7,109.3L609.2,108.7L609.7,108.0L610.2,107.4L610.7,106.8L611.2,106.2L611.7,105.6L612.2,105.0L612.7,104.4L613.2,103.9L613.7,103.3L614.2,102.8L614.7,102.2L615.2,101.7L615.7,101.2L616.2,100.7L616.7,100.2L617.2,99.7L617.7,99.2L618.2,98.8L618.7,98.3L619.2,97.9L619.7,97.5L620.2,97.1L620.7,96.7L621.2,96.4L621.7,96.0L622.2,95.7L622.7,95.4L623.2,95.1L623.7,94.8L624.2,94.5L624.7,94.2L625.2,93.9L625.7,93.7L626.2,93.4L626.7,93.2L627.2,93.0L627.7,92.7L628.2,92.5L628.7,92.3L629.2,92.1L629.7,91.9L630.2,91.7L630.7,91.6L631.2,91.4L631.7,91.2L632.2,91.0L632.7,90.9L633.2,90.7L633.7,90.5L634.2,90.4L634.7,90.2L635.2,90.0L635.7,89.9L636.2,89.7L636.7,89.6L637.2,89.4L637.7,89.3L638.2,89.1L638.7,88.9L639.2,88.8L639.7,88.6L640.2,88.5L640.7,88.3L641.2,88.2L641.7,88.1L642.2,87.9L642.7,87.8L643.2,87.6L643.7,87.5L644.2,87.4L644.7,87.2L645.2,87.1L645.7,87.0L646.2,86.9L646.7,86.7L647.2,86.6L647.7,86.5L648.2,86.4L648.7,86.3L649.2,86.2L649.7,86.1L650.2,86.0L650.7,85.9L651.2,85.8L651.7,85.7L652.2,85.6L652.7,85.5L653.2,85.4L653.7,85.3L654.2,85.2L654.7,85.1L655.2,85.1L655.7,85.0L656.2,84.9L656.7,84.8L657.2,84.7L657.7,84.7L658.2,84.6L658.7,84.5L659.2,84.4L659.7,84.4L660.2,84.3L660.7,84.2L661.2,84.2L661.7,84.1L662.2,84.0L662.7,84.0L663.2,83.9L663.7,83.8L664.2,83.8L664.7,83.7L665.2,83.6L665.7,83.5L666.2,83.5L666.7,83.4L667.2,83.3L667.7,83.3L668.2,83.2L668.7,83.1L669.2,83.1L669.7,83.0L670.2,82.9L670.7,82.9L671.2,82.8L671.7,82.8L672.2,82.7L672.7,82.6L673.2,82.6L673.7,82.5L674.2,82.4L674.7,82.4L675.2,82.3L675.7,82.2L676.2,82.2L676.7,82.1" stroke="#43308c"/>
<path d="M362.2,157.0L362.7,157.0L363.2,156.9L363.7,156.9L364.2,156.9L364.7,156.8L365.2,156.8L365.7,156.7L366.2,156.7L366.7,156.7L367.2,156.6L367.7,156.5L368.2,156.5L368.7,156.4L369.2,156.4L369.7,156.3L370.2,156.2L370.7,156.1L371.2,156.1L371.7,156.0L372.2,155.9L372.7,155.8L373.2,155.7L373.7,155.6L374.2,155.5L374.7,155.3L375.2,155.2L375.7,155.1L376.2,155.0L376.7,154.9L377.2,154.9L377.7,154.8L378.2,154.7L378.7,154.7L379.2,154.6L379.7,154.6L380.2,154.6L380.7,154.6L381.2,154.6L381.7,154.7L382.2,154.7L382.7,154.8L383.2,154.9L383.7,155.1L384.2,155.2L384.7,155.4L385.2,155.6L385.7,155.8L386.2,156.0L386.7,156.3L387.2,156.5L387.7,156.7L388.2,156.9L388.7,157.1L389.2,157.3L389.7,157.4L390.2,157.5L390.7,157.6L391.2,157.7L391.7,157.8L392.2,157.8L392.7,157.8L393.2,157.8L393.7,157.8L394.2,157.8L394.7,157.8L395.2,157.7L395.7,157.7L396.2,157.7L396.7,157.6L397.2,157.6L397.7,157.6L398.2,157.6L398.7,157.6L399.2,157.6L399.7,157.6L400.2,157.7L400.7,157.8L401.2,157.8L401.7,158.0L402.2,158.1L402.7,158.3L403.2,158.5L403.7,158.7L404.2,158.9L404.7,159.1L405.2,159.3L405.7,159.6L406.2,159.8L406.7,160.1L407.2,160.4L407.7,160.6L408.2,160.9L408.7,161.2L409.2,161.4L409.7,161.7L410.2,161.9L410.7,162.2L411.2,162.4L411.7,162.6L412.2,162.9L412.7,163.1L413.2,163.3L413.7,163.5L414.2,163.7L414.7,164.0L415.2,164.2L415.7,164.5L416.2,164.7L416.7,165.0L417.2,165.2L417.7,165.5L418.2,165.8L418.7,166.0L419.2,166.3L419.7,166.6L420.2,166.9L420.7,167.1L421.2,167.4L421.7,167.7L422.2,167.9L422.7,168.2L423.2,168.4L423.7,168.7L424.2,168.9L424.7,169.1L425.2,169.4L425.7,169.6L426.2,169.8L426.7,170.0L427.2,170.1L427.7,170.3L428.2,170.5L428.7,170.6L429.2,170.7L429.7,170.9L430.2,171.0L430.7,171.1L431.2,171.2L431.7,171.3L432.2,171.4L432.7,171.5L433.2,171.5L433.7,171.6L434.2,171.6L434.7,171.7L435.2,171.7L435.7,171.8L436.2,171.8L436.7,171.8L437.2,171.8L437.7,171.9L438.2,171.9L438.7,171.9L439.2,171.9L439.7,171.9L440.2,171.9L440.7,171.9L441.2,171.8L441.7,171.8L442.2,171.8L442.7,171.8L443.2,171.8L443.7,171.7L444.2,171.7L444.7,171.7L445.2,171.6L445.7,171.6L446.2,171.6L446.7,171.5L447.2,171.5L447.7,171.5L448.2,171.4L448.7,171.4L449.2,171.3L449.7,171.3L450.2,171.2L450.7,171.2L451.2,171.2L451.7,171.1L452.2,171.1L452.7,171.0L453.2,171.0L453.7,170.9L454.2,170.9L454.7,170.9L455.2,170.8L455.7,170.8L456.2,170.7L456.7,170.7L457.2,170.7L457.7,170.6L458.2,170.6L458.7,170.6L459.2,170.5L459.7,170.5L460.2,170.5L460.7,170.5L461.2,170.5L461.7,170.4L462.2,170.4L462.7,170.4L463.2,170.4L463.7,170.4L464.2,170.4L464.7,170.4L465.2,170.4L465.7,170.4L466.2,170.4L466.7,170.4L467.2,170.4L467.7,170.5L468.2,170.5L468.7,170.5L469.2,170.5L469.7,170.5L470.2,170.6L470.7,170.6L471.2,170.6L471.7,170.6L472.2,170.7L472.7,170.7L473.2,170.7L473.7,170.8L474.2,170.8L474.7,170.8L475.2,170.9L475.7,170.9L476.2,170.9L476.7,171.0L477.2,171.0L477.7,171.0L478.2,171.1L478.7,171.1L479.2,171.2L479.7,171.2L480.2,171.2L480.7,171.3L481.2,171.3L481.7,171.4L482.2,171.4L482.7,171.5L483.2,171.5L483.7,171.6L484.2,171.6L484.7,171.7L485.2,171.7L485.7,171.8L486.2,171.8L486.7,171.9L487.2,171.9L487.7,172.0L488.2,172.1L488.7,172.1L489.2,172.2L489.7,172.3L490.2,172.4L490.7,172.4L491.2,172.5L491.7,172.6L492.2,172.7L492.7,172.8L493.2,172.9L493.7,173.0L494.2,173.1L494.7,173.2L495.2,173.3L495.7,173.4L496.2,173.5L496.7,173.6L497.2,173.7L497.7,173.8L498.2,173.9L498.7,174.0L499.2,174.1L499.7,174.2L500.2,174.3L500.7,174.5L501.2,174.6L501.7,174.7L502.2,174.8L502.7,174.9L503.2,175.0L503.7,175.1L504.2,175.3L504.7,175.4L505.2,175.5L505.7,175.7L506.2,175.8L506.7,176.0L507.2,176.1L507.7,176.3L508.2,176.5L508.7,176.7L509.2,176.9L509.7,177.1L510.2,177.3L510.7,177.6L511.2,177.8L511.7,178.1L512.2,178.4L512.7,178.7L513.2,179.1L513.7,179.4L514.2,179.8L514.7,180.2L515.2,180.6L515.7,181.1L516.2,181.6L516.7,182.1L517.2,182.6L517.7,183.3L518.2,183.9L518.7,184.7L519.2,185.4L519.7,186.3L520.2,187.2L520.7,188.2L521.2,189.2L521.7,190.3L522.2,191.4L522.7,192.5L523.2,193.7L523.7,195.0L524.2,196.2L524.7,197.5L525.2,198.9L525.7,200.2L526.2,201.6L526.7,203.0L527.2,204.4L527.7,205.8L528.2,207.2L528.7,208.6L529.2,210.1L529.7,211.5L530.2,212.9L530.7,214.3L531.2,215.8L531.7,217.2L532.2,218.6L532.7,220.0L533.2,221.4L533.7,222.8L534.2,224.1L534.7,225.4L535.2,226.8L535.7,228.1L536.2,229.3L536.7,230.6L537.2,231.8L537.7,232.9L538.2,234.0L538.7,235.1L539.2,236.2L539.7,237.2L540.2,238.1L540.7,239.0L541.2,239.8L541.7,240.6L542.2,241.4L542.7,242.1L543.2,242.8L543.7,243.4L544.2,244.0L544.7,244.5L545.2,245.1L545.7,245.6L546.2,246.1L546.7,246.5L547.2,247.0L547.7,247.4L548.2,247.8L548.7,248.2L549.2,248.6L549.7,248.9L550.2,249.2L550.7,249.5L551.2,249.8L551.7,250.0L552.2,250.2L552.7,250.4L553.2,250.5L553.7,250.6L554.2,250.6L554.7,250.5L555.2,250.4L555.7,250.3L556.2,250.0L556.7,249.7L557.2,249.3L557.7,248.8L558.2,248.2L558.7,247.5L559.2,246.8L559.7,246.0L560.2,245.1L560.7,244.1L561.2,243.1L561.7,241.9L562.2,240.8L562.7,239.5L563.2,238.3L563.7,236.9L564.2,235.5L564.7,234.1L565.2,232.6L565.7,231.1L566.2,229.6L566.7,228.0L567.2,226.4L567.7,224.8L568.2,223.2L568.7,221.5L569.2,219.9L569.7,218.3L570.2,216.6L570.7,215.0L571.2,213.4L571.7,211.8L572.2,210.2L572.7,208.6L573.2,207.0L573.7,205.4L574.2,203.8L574.7,202.2L575.2,200.6L575.7,199.0L576.2,197.4L576.7,195.8L577.2,194.2L577.7,192.6L578.2,190.9L578.7,189.3L579.2,187.7L579.7,186.1L580.2,184.5L580.7,182.9L581.2,181.4L581.7,179.9L582.2,178.3L582.7,176.9L583.2,175.4L583.7,174.0L584.2,172.6L584.7,171.3L585.2,170.0L585.7,168.7L586.2,167.6L586.7,166.4L587.2,165.4L587.7,164.4L588.2,163.4L588.7,162.5L589.2,161.6L589.7,160.7L590.2,159.9L590.7,159.1L591.2,158.3L591.7,157.5L592.2,156.8L592.7,156.1L593.2,155.4L593.7,154.7L594.2,154.0L594.7,153.3L595.2,152.6L595.7,152.0L596.2,151.3L596.7,150.6L597.2,150.0L597.7,149.3L598.2,148.7L598.7,148.0L599.2,147.4L599.7,146.7L600.2,146.1L600.7,145.4L601.2,144.8L601.7,144.1L602.2,143.5L602.7,142.9L603.2,142.3L603.7,141.7L604.2,141.1L604.7,140.5L605.2,139.9L605.7,139.3L606.2,138.7L606.7,138.2L607.2,137.6L607.7,137.0L608.2,136.5L608.7,136.0L609.2,135.4L609.7,134.9L610.2,134.3L610.7,133.8L611.2,133.3L611.7,132.8L612.2,132.2L612.7,131.8L613.2,131.3L613.7,130.8L614.2,130.4L614.7,130.0L615.2,129.6L615.7,129.3L616.2,129.0L616.7,128.7L617.2,128.5L617.7,128.3L618.2,128.2L618.7,128.0L619.2,127.9L619.7,127.8L620.2,127.7L620.7,127.6L621.2,127.5L621.7,127.3L622.2,127.2L622.7,127.0L623.2,126.9L623.7,126.7L624.2,126.5L624.7,126.3L625.2,126.0L625.7,125.8L626.2,125.6L626.7,125.3L627.2,125.1L627.7,124.8L628.2,124.5L628.7,124.3L629.2,124.0L629.7,123.7L630.2,123.4L630.7,123.2L631.2,122.9L631.7,122.6L632.2,122.3L632.7,122.1L633.2,121.8L633.7,121.6L634.2,121.3L634.7,121.1L635.2,120.9L635.7,120.7L636.2,120.4L636.7,120.2L637.2,120.1L637.7,119.9L638.2,119.7L638.7,119.5L639.2,119.4L639.7,119.2L640.2,119.1L640.7,119.0L641.2,118.8L641.7,118.7L642.2,118.6L642.7,118.5L643.2,118.4L643.7,118.3L644.2,118.2L644.7,118.1L645.2,118.0L645.7,118.0L646.2,117.9L646.7,117.8L647.2,117.8L647.7,117.7L648.2,117.6L648.7,117.6L649.2,117.5L649.7,117.5L650.2,117.4L650.7,117.4L651.2,117.3L651.7,117.3L652.2,117.3L652.7,117.2L653.2,117.2L653.7,117.1L654.2,117.1L654.7,117.1L655.2,117.0L655.7,117.0L656.2,116.9L656.7,116.9L657.2,116.8L657.7,116.8L658.2,116.7L658.7,116.7L659.2,116.6L659.7,116.6L660.2,116.5L660.7,116.5L661.2,116.4L661.7,116.3L662.2,116.3L662.7,116.2L663.2,116.1L663.7,116.1L664.2,116.0L664.7,115.9L665.2,115.9L665.7,115.8L666.2,115.7L666.7,115.6L667.2,115.5L667.7,115.5L668.2,115.4L668.7,115.3L669.2,115.2L669.7,115.1L670.2,115.0L670.7,115.0L671.2,114.9L671.7,114.8L672.2,114.7L672.7,114.6L673.2,114.5L673.7,114.4L674.2,114.4L674.7,114.3L675.2,114.2L675.7,114.1L676.2,114.0L676.7,113.9" stroke="#43308c"/>
<path d="M362.2,166.8L362.7,166.9L363.2,166.9L363.7,167.0L364.2,167.0L364.7,167.1L365.2,167.1L365.7,167.2L366.2,167.3L366.7,167.3L367.2,167.4L367.7,167.5L368.2,167.5L368.7,167.6L369.2,167.7L369.7,167.7L370.2,167.8L370.7,167.9L371.2,168.0L371.7,168.1L372.2,168.1L372.7,168.2L373.2,168.3L373.7,168.4L374.2,168.5L374.7,168.6L375.2,168.7L375.7,168.8L376.2,168.9L376.7,169.1L377.2,169.2L377.7,169.3L378.2,169.4L378.7,169.6L379.2,169.7L379.7,169.8L380.2,170.0L380.7,170.1L381.2,170.3L381.7,170.5L382.2,170.6L382.7,170.8L383.2,171.0L383.7,171.2L384.2,171.4L384.7,171.6L385.2,171.8L385.7,172.0L386.2,172.2L386.7,172.4L387.2,172.6L387.7,172.8L388.2,173.1L388.7,173.3L389.2,173.5L389.7,173.8L390.2,174.0L390.7,174.3L391.2,174.5L391.7,174.8L392.2,175.0L392.7,175.3L393.2,175.6L393.7,175.8L394.2,176.1L394.7,176.3L395.2,176.6L395.7,176.9L396.2,177.1L396.7,177.4L397.2,177.7L397.7,178.0L398.2,178.2L398.7,178.5L399.2,178.8L399.7,179.0L400.2,179.3L400.7,179.6L401.2,179.8L401.7,180.1L402.2,180.4L402.7,180.6L403.2,180.9L403.7,181.1L404.2,181.4L404.7,181.7L405.2,181.9L405.7,182.2L406.2,182.4L406.7,182.6L407.2,182.9L407.7,183.1L408.2,183.3L408.7,183.6L409.2,183.8L409.7,184.0L410.2,184.3L410.7,184.5L411.2,184.8L411.7,185.0L412.2,185.3L412.7,185.6L413.2,185.8L413.7,186.1L414.2,186.4L414.7,186.7L415.2,187.1L415.7,187.4L416.2,187.7L416.7,188.1L417.2,188.5L417.7,188.8L418.2,189.2L418.7,189.6L419.2,190.0L419.7,190.4L420.2,190.8L420.7,191.2L421.2,191.6L421.7,191.9L422.2,192.3L422.7,192.7L423.2,193.1L423.7,193.4L424.2,193.8L424.7,194.1L425.2,194.4L425.7,194.7L426.2,195.0L426.7,195.2L427.2,195.5L427.7,195.7L428.2,195.9L428.7,196.1L429.2,196.3L429.7,196.5L430.2,196.6L430.7,196.8L431.2,196.9L431.7,197.0L432.2,197.1L432.7,197.2L433.2,197.3L433.7,197.4L434.2,197.4L434.7,197.5L435.2,197.5L435.7,197.6L436.2,197.6L436.7,197.6L437.2,197.7L437.7,197.7L438.2,197.7L438.7,197.7L439.2,197.7L439.7,197.7L440.2,197.7L440.7,197.7L441.2,197.7L441.7,197.7L442.2,197.7L442.7,197.7L443.2,197.7L443.7,197.7L444.2,197.7L444.7,197.7L445.2,197.8L445.7,197.8L446.2,197.8L446.7,197.8L447.2,197.8L447.7,197.8L448.2,197.8L448.7,197.8L449.2,197.9L449.7,197.9L450.2,197.9L450.7,197.9L451.2,197.9L451.7,198.0L452.2,198.0L452.7,198.0L453.2,198.1L453.7,198.1L454.2,198.1L454.7,198.2L455.2,198.2L455.7,198.2L456.2,198.3L456.7,198.3L457.2,198.4L457.7,198.4L458.2,198.5L458.7,198.5L459.2,198.6L459.7,198.6L460.2,198.7L460.7,198.7L461.2,198.8L461.7,198.9L462.2,198.9L462.7,199.0L463.2,199.1L463.7,199.2L464.2,199.2L464.7,199.3L465.2,199.4L465.7,199.5L466.2,199.6L466.7,199.7L467.2,199.7L467.7,199.8L468.2,199.9L468.7,200.0L469.2,200.1L469.7,200.2L470.2,200.3L470.7,200.4L471.2,200.4L471.7,200.5L472.2,200.6L472.7,200.7L473.2,200.8L473.7,200.9L474.2,201.0L474.7,201.0L475.2,201.1L475.7,201.2L476.2,201.3L476.7,201.3L477.2,201.4L477.7,201.5L478.2,201.5L478.7,201.6L479.2,201.7L479.7,201.7L480.2,201.8L480.7,201.9L481.2,201.9L481.7,202.0L482.2,202.1L482.7,202.1L483.2,202.2L483.7,202.3L484.2,202.3L484.7,202.4L485.2,202.5L485.7,202.6L486.2,202.6L486.7,202.7L487.2,202.8L487.7,202.9L488.2,203.0L488.7,203.1L489.2,203.2L489.7,203.3L490.2,203.4L490.7,203.5L491.2,203.6L491.7,203.8L492.2,203.9L492.7,204.0L493.2,204.2L493.7,204.3L494.2,204.5L494.7,204.6L495.2,204.8L495.7,204.9L496.2,205.1L496.7,205.3L497.2,205.4L497.7,205.6L498.2,205.8L498.7,206.0L499.2,206.1L499.7,206.3L500.2,206.5L500.7,206.7L501.2,206.9L501.7,207.1L502.2,207.3L502.7,207.4L503.2,207.6L503.7,207.8L504.2,208.0L504.7,208.2L505.2,208.4L505.7,208.6L506.2,208.8L506.7,209.0L507.2,209.2L507.7,209.4L508.2,209.6L508.7,209.8L509.2,210.1L509.7,210.3L510.2,210.5L510.7,210.7L511.2,211.0L511.7,211.2L512.2,211.5L512.7,211.8L513.2,212.1L513.7,212.4L514.2,212.8L514.7,213.3L515.2,213.8L515.7,214.4L516.2,215.0L516.7,215.7L517.2,216.5L517.7,217.3L518.2,218.2L518.7,219.2L519.2,220.3L519.7,221.3L520.2,222.5L520.7,223.7L521.2,224.9L521.7,226.1L522.2,227.4L522.7,228.8L523.2,230.1L523.7,231.5L524.2,232.9L524.7,234.4L525.2,235.8L525.7,237.3L526.2,238.8L526.7,240.2L527.2,241.7L527.7,243.2L528.2,244.6L528.7,246.1L529.2,247.5L529.7,248.8L530.2,250.2L530.7,251.5L531.2,252.7L531.7,253.9L532.2,255.1L532.7,256.2L533.2,257.3L533.7,258.4L534.2,259.4L534.7,260.4L535.2,261.4L535.7,262.4L536.2,263.3L536.7,264.2L537.2,265.0L537.7,265.9L538.2,266.7L538.7,267.5L539.2,268.3L539.7,269.1L540.2,269.8L540.7,270.6L541.2,271.3L541.7,271.9L542.2,272.6L542.7,273.2L543.2,273.9L543.7,274.4L544.2,275.0L544.7,275.5L545.2,276.1L545.7,276.5L546.2,277.0L546.7,277.4L547.2,277.8L547.7,278.2L548.2,278.5L548.7,278.9L549.2,279.1L549.7,279.4L550.2,279.6L550.7,279.8L551.2,280.0L551.7,280.1L552.2,280.3L552.7,280.4L553.2,280.4L553.7,280.5L554.2,280.4L554.7,280.4L555.2,280.3L555.7,280.1L556.2,279.9L556.7,279.6L557.2,279.3L557.7,278.9L558.2,278.4L558.7,277.9L559.2,277.3L559.7,276.7L560.2,276.1L560.7,275.4L561.2,274.6L561.7,273.9L562.2,273.1L562.7,272.2L563.2,271.4L563.7,270.5L564.2,269.6L564.7,268.7L565.2,267.8L565.7,266.8L566.2,265.9L566.7,264.9L567.2,263.9L567.7,262.8L568.2,261.8L568.7,260.7L569.2,259.5L569.7,258.3L570.2,257.1L570.7,255.8L571.2,254.5L571.7,253.1L572.2,251.6L572.7,250.1L573.2,248.6L573.7,247.0L574.2,245.3L574.7,243.5L575.2,241.7L575.7,239.9L576.2,238.0L576.7,236.0L577.2,233.9L577.7,231.9L578.2,229.7L578.7,227.6L579.2,225.5L579.7,223.4L580.2,221.3L580.7,219.3L581.2,217.3L581.7,215.5L582.2,213.7L582.7,212.1L583.2,210.5L583.7,209.0L584.2,207.6L584.7,206.3L585.2,205.0L585.7,203.7L586.2,202.5L586.7,201.4L587.2,200.2L587.7,199.2L588.2,198.1L588.7,197.1L589.2,196.1L589.7,195.1L590.2,194.1L590.7,193.2L591.2,192.3L591.7,191.4L592.2,190.5L592.7,189.7L593.2,188.8L593.7,188.0L594.2,187.1L594.7,186.3L595.2,185.4L595.7,184.6L596.2,183.8L596.7,183.0L597.2,182.1L597.7,181.3L598.2,180.5L598.7,179.7L599.2,178.9L599.7,178.1L600.2,177.3L600.7,176.5L601.2,175.7L601.7,174.9L602.2,174.1L602.7,173.3L603.2,172.6L603.7,171.8L604.2,171.0L604.7,170.3L605.2,169.6L605.7,168.8L606.2,168.1L606.7,167.4L607.2,166.7L607.7,166.0L608.2,165.4L608.7,164.7L609.2,164.0L609.7,163.4L610.2,162.8L610.7,162.1L611.2,161.5L611.7,160.9L612.2,160.4L612.7,159.8L613.2,159.2L613.7,158.7L614.2,158.2L614.7,157.7L615.2,157.1L615.7,156.7L616.2,156.2L616.7,155.7L617.2,155.3L617.7,154.8L618.2,154.4L618.7,154.0L619.2,153.6L619.7,153.2L620.2,152.8L620.7,152.5L621.2,152.1L621.7,151.8L622.2,151.4L622.7,151.1L623.2,150.8L623.7,150.5L624.2,150.2L624.7,150.0L625.2,149.7L625.7,149.4L626.2,149.2L626.7,149.0L627.2,148.7L627.7,148.5L628.2,148.3L628.7,148.1L629.2,147.9L629.7,147.7L630.2,147.5L630.7,147.3L631.2,147.1L631.7,147.0L632.2,146.8L632.7,146.6L633.2,146.5L633.7,146.3L634.2,146.2L634.7,146.0L635.2,145.9L635.7,145.7L636.2,145.6L636.7,145.4L637.2,145.3L637.7,145.2L638.2,145.0L638.7,144.9L639.2,144.8L639.7,144.6L640.2,144.5L640.7,144.4L641.2,144.2L641.7,144.1L642.2,144.0L642.7,143.8L643.2,143.7L643.7,143.6L644.2,143.4L644.7,143.3L645.2,143.2L645.7,143.1L646.2,142.9L646.7,142.8L647.2,142.7L647.7,142.5L648.2,142.4L648.7,142.3L649.2,142.2L649.7,142.1L650.2,141.9L650.7,141.8L651.2,141.7L651.7,141.6L652.2,141.5L652.7,141.3L653.2,141.2L653.7,141.1L654.2,141.0L654.7,140.9L655.2,140.8L655.7,140.7L656.2,140.5L656.7,140.4L657.2,140.3L657.7,140.2L658.2,140.1L658.7,140.0L659.2,139.9L659.7,139.8L660.2,139.7L660.7,139.6L661.2,139.5L661.7,139.4L662.2,139.3L662.7,139.2L663.2,139.1L663.7,139.0L664.2,138.9L664.7,138.9L665.2,138.8L665.7,138.7L666.2,138.6L666.7,138.5L667.2,138.4L667.7,138.3L668.2,138.2L668.7,138.1L669.2,138.1L669.7,138.0L670.2,137.9L670.7,137.8L671.2,137.7L671.7,137.6L672.2,137.5L672.7,137.5L673.2,137.4L673.7,137.3L674.2,137.2L674.7,137.1L675.2,137.0L675.7,137.0L676.2,136.9L676.7,136.8" stroke="#43308c"/>
<path d="M362.2,185.0L362.7,184.9L363.2,184.8L363.7,184.7L364.2,184.6L364.7,184.5L365.2,184.4L365.7,184.3L366.2,184.2L366.7,184.1L367.2,184.0L367.7,184.0L368.2,183.9L368.7,183.8L369.2,183.7L369.7,183.7L370.2,183.6L370.7,183.6L371.2,183.5L371.7,183.5L372.2,183.5L372.7,183.4L373.2,183.4L373.7,183.4L374.2,183.4L374.7,183.4L375.2,183.4L375.7,183.5L376.2,183.5L376.7,183.6L377.2,183.6L377.7,183.7L378.2,183.7L378.7,183.8L379.2,183.9L379.7,184.0L380.2,184.1L380.7,184.2L381.2,184.3L381.7,184.5L382.2,184.6L382.7,184.8L383.2,184.9L383.7,185.1L384.2,185.2L384.7,185.4L385.2,185.6L385.7,185.8L386.2,186.0L386.7,186.2L387.2,186.4L387.7,186.7L388.2,186.9L388.7,187.1L389.2,187.4L389.7,187.7L390.2,187.9L390.7,188.2L391.2,188.5L391.7,188.8L392.2,189.1L392.7,189.4L393.2,189.7L393.7,190.0L394.2,190.4L394.7,190.7L395.2,191.1L395.7,191.4L396.2,191.8L396.7,192.1L397.2,192.5L397.7,192.9L398.2,193.3L398.7,193.7L399.2,194.1L399.7,194.5L400.2,194.9L400.7,195.3L401.2,195.7L401.7,196.2L402.2,196.6L402.7,197.0L403.2,197.4L403.7,197.9L404.2,198.3L404.7,198.7L405.2,199.2L405.7,199.6L406.2,200.1L406.7,200.5L407.2,200.9L407.7,201.4L408.2,201.8L408.7,202.2L409.2,202.7L409.7,203.1L410.2,203.5L410.7,204.0L411.2,204.4L411.7,204.8L412.2,205.2L412.7,205.6L413.2,206.0L413.7,206.4L414.2,206.8L414.7,207.2L415.2,207.6L415.7,208.0L416.2,208.4L416.7,208.7L417.2,209.1L417.7,209.5L418.2,209.8L418.7,210.2L419.2,210.5L419.7,210.9L420.2,211.2L420.7,211.6L421.2,212.0L421.7,212.3L422.2,212.7L422.7,213.0L423.2,213.4L423.7,213.8L424.2,214.1L424.7,214.5L425.2,214.8L425.7,215.1L426.2,215.5L426.7,215.8L427.2,216.1L427.7,216.4L428.2,216.7L428.7,217.0L429.2,217.2L429.7,217.5L430.2,217.7L430.7,217.9L431.2,218.1L431.7,218.3L432.2,218.5L432.7,218.7L433.2,218.8L433.7,219.0L434.2,219.1L434.7,219.2L435.2,219.4L435.7,219.5L436.2,219.6L436.7,219.7L437.2,219.8L437.7,219.8L438.2,219.9L438.7,220.0L439.2,220.1L439.7,220.1L440.2,220.2L440.7,220.3L441.2,220.3L441.7,220.4L442.2,220.4L442.7,220.5L443.2,220.5L443.7,220.6L444.2,220.6L444.7,220.7L445.2,220.7L445.7,220.8L446.2,220.8L446.7,220.9L447.2,220.9L447.7,221.0L448.2,221.0L448.7,221.1L449.2,221.1L449.7,221.2L450.2,221.2L450.7,221.3L451.2,221.3L451.7,221.4L452.2,221.4L452.7,221.5L453.2,221.5L453.7,221.6L454.2,221.6L454.7,221.7L455.2,221.7L455.7,221.8L456.2,221.8L456.7,221.9L457.2,221.9L457.7,222.0L458.2,222.0L458.7,222.1L459.2,222.1L459.7,222.2L460.2,222.2L460.7,222.3L461.2,222.3L461.7,222.4L462.2,222.4L462.7,222.5L463.2,222.5L463.7,222.6L464.2,222.7L464.7,222.7L465.2,222.8L465.7,222.8L466.2,222.9L466.7,222.9L467.2,223.0L467.7,223.0L468.2,223.1L468.7,223.1L469.2,223.2L469.7,223.2L470.2,223.3L470.7,223.3L471.2,223.4L471.7,223.4L472.2,223.5L472.7,223.5L473.2,223.6L473.7,223.6L474.2,223.7L474.7,223.7L475.2,223.8L475.7,223.9L476.2,223.9L476.7,224.0L477.2,224.0L477.7,224.1L478.2,224.2L478.7,224.3L479.2,224.3L479.7,224.4L480.2,224.5L480.7,224.6L481.2,224.7L481.7,224.8L482.2,224.9L482.7,225.0L483.2,225.1L483.7,225.2L484.2,225.3L484.7,225.4L485.2,225.6L485.7,225.7L486.2,225.8L486.7,226.0L487.2,226.1L487.7,226.3L488.2,226.4L488.7,226.6L489.2,226.8L489.7,226.9L490.2,227.1L490.7,227.3L491.2,227.5L491.7,227.7L492.2,227.9L492.7,228.1L493.2,228.3L493.7,228.5L494.2,228.7L494.7,229.0L495.2,229.2L495.7,229.5L496.2,229.8L496.7,230.1L497.2,230.4L497.7,230.7L498.2,231.0L498.7,231.3L499.2,231.6L499.7,231.9L500.2,232.2L500.7,232.4L501.2,232.7L501.7,233.0L502.2,233.3L502.7,233.5L503.2,233.8L503.7,234.0L504.2,234.2L504.7,234.4L505.2,234.6L505.7,234.8L506.2,235.0L506.7,235.2L507.2,235.3L507.7,235.5L508.2,235.7L508.7,236.0L509.2,236.2L509.7,236.4L510.2,236.7L510.7,237.0L511.2,237.3L511.7,237.7L512.2,238.1L512.7,238.6L513.2,239.0L513.7,239.6L514.2,240.1L514.7,240.8L515.2,241.5L515.7,242.2L516.2,243.0L516.7,243.9L517.2,244.8L517.7,245.9L518.2,247.0L518.7,248.1L519.2,249.4L519.7,250.7L520.2,252.2L520.7,253.7L521.2,255.2L521.7,256.9L522.2,258.6L522.7,260.3L523.2,262.1L523.7,263.9L524.2,265.8L524.7,267.7L525.2,269.6L525.7,271.5L526.2,273.4L526.7,275.4L527.2,277.3L527.7,279.2L528.2,281.0L528.7,282.8L529.2,284.5L529.7,286.1L530.2,287.7L530.7,289.1L531.2,290.5L531.7,291.8L532.2,293.0L532.7,294.1L533.2,295.1L533.7,296.1L534.2,297.1L534.7,298.0L535.2,298.8L535.7,299.6L536.2,300.4L536.7,301.2L537.2,302.0L537.7,302.7L538.2,303.5L538.7,304.2L539.2,305.0L539.7,305.8L540.2,306.5L540.7,307.3L541.2,308.1L541.7,308.8L542.2,309.6L542.7,310.4L543.2,311.1L543.7,311.8L544.2,312.5L544.7,313.2L545.2,313.9L545.7,314.5L546.2,315.1L546.7,315.7L547.2,316.3L547.7,316.8L548.2,317.3L548.7,317.7L549.2,318.1L549.7,318.5L550.2,318.9L550.7,319.2L551.2,319.5L551.7,319.8L552.2,320.0L552.7,320.2L553.2,320.4L553.7,320.5L554.2,320.5L554.7,320.5L555.2,320.4L555.7,320.2L556.2,320.0L556.7,319.6L557.2,319.1L557.7,318.5L558.2,317.9L558.7,317.1L559.2,316.2L559.7,315.3L560.2,314.2L560.7,313.1L561.2,311.9L561.7,310.7L562.2,309.3L562.7,308.0L563.2,306.5L563.7,305.0L564.2,303.5L564.7,301.9L565.2,300.2L565.7,298.5L566.2,296.8L566.7,295.1L567.2,293.4L567.7,291.6L568.2,289.8L568.7,288.0L569.2,286.3L569.7,284.5L570.2,282.7L570.7,281.0L571.2,279.2L571.7,277.5L572.2,275.9L572.7,274.2L573.2,272.6L573.7,271.1L574.2,269.5L574.7,268.0L575.2,266.6L575.7,265.1L576.2,263.7L576.7,262.3L577.2,261.0L577.7,259.6L578.2,258.2L578.7,256.9L579.2,255.6L579.7,254.2L580.2,252.9L580.7,251.5L581.2,250.2L581.7,248.8L582.2,247.5L582.7,246.1L583.2,244.7L583.7,243.2L584.2,241.8L584.7,240.4L585.2,238.9L585.7,237.4L586.2,235.8L586.7,234.3L587.2,232.8L587.7,231.2L588.2,229.6L588.7,228.1L589.2,226.5L589.7,225.0L590.2,223.5L590.7,222.0L591.2,220.5L591.7,219.1L592.2,217.7L592.7,216.4L593.2,215.1L593.7,213.9L594.2,212.7L594.7,211.6L595.2,210.5L595.7,209.4L596.2,208.5L596.7,207.5L597.2,206.6L597.7,205.7L598.2,204.9L598.7,204.0L599.2,203.2L599.7,202.4L600.2,201.7L600.7,200.9L601.2,200.1L601.7,199.4L602.2,198.6L602.7,197.8L603.2,197.0L603.7,196.3L604.2,195.5L604.7,194.7L605.2,193.9L605.7,193.1L606.2,192.4L606.7,191.6L607.2,190.8L607.7,190.0L608.2,189.2L608.7,188.3L609.2,187.5L609.7,186.7L610.2,185.9L610.7,185.1L611.2,184.2L611.7,183.4L612.2,182.6L612.7,181.8L613.2,181.0L613.7,180.2L614.2,179.5L614.7,178.7L615.2,178.0L615.7,177.4L616.2,176.7L616.7,176.1L617.2,175.6L617.7,175.0L618.2,174.5L618.7,174.0L619.2,173.5L619.7,173.1L620.2,172.7L620.7,172.3L621.2,171.9L621.7,171.6L622.2,171.3L622.7,171.0L623.2,170.7L623.7,170.4L624.2,170.2L624.7,169.9L625.2,169.7L625.7,169.5L626.2,169.3L626.7,169.2L627.2,169.0L627.7,168.9L628.2,168.7L628.7,168.6L629.2,168.5L629.7,168.4L630.2,168.3L630.7,168.2L631.2,168.1L631.7,168.1L632.2,168.0L632.7,167.9L633.2,167.9L633.7,167.8L634.2,167.8L634.7,167.7L635.2,167.7L635.7,167.6L636.2,167.6L636.7,167.5L637.2,167.5L637.7,167.4L638.2,167.4L638.7,167.3L639.2,167.2L639.7,167.2L640.2,167.1L640.7,167.0L641.2,166.9L641.7,166.8L642.2,166.7L642.7,166.6L643.2,166.5L643.7,166.4L644.2,166.3L644.7,166.2L645.2,166.1L645.7,166.0L646.2,165.9L646.7,165.8L647.2,165.6L647.7,165.5L648.2,165.4L648.7,165.3L649.2,165.1L649.7,165.0L650.2,164.9L650.7,164.7L651.2,164.6L651.7,164.5L652.2,164.3L652.7,164.2L653.2,164.1L653.7,163.9L654.2,163.8L654.7,163.7L655.2,163.5L655.7,163.4L656.2,163.3L656.7,163.2L657.2,163.0L657.7,162.9L658.2,162.8L658.7,162.7L659.2,162.6L659.7,162.4L660.2,162.3L660.7,162.2L661.2,162.1L661.7,162.0L662.2,161.9L662.7,161.8L663.2,161.7L663.7,161.6L664.2,161.5L664.7,161.4L665.2,161.4L665.7,161.3L666.2,161.2L666.7,161.1L667.2,161.1L667.7,161.0L668.2,161.0L668.7,160.9L669.2,160.8L669.7,160.8L670.2,160.7L670.7,160.7L671.2,160.6L671.7,160.6L672.2,160.6L672.7,160.5L673.2,160.5L673.7,160.4L674.2,160.4L674.7,160.3L675.2,160.3L675.7,160.3L676.2,160.2L676.7,160.2" stroke="#43308c"/>
<path d="M362.2,219.6L362.7,219.5L363.2,219.3L363.7,219.2L364.2,219.1L364.7,219.0L365.2,218.9L365.7,218.8L366.2,218.7L366.7,218.6L367.2,218.5L367.7,218.4L368.2,218.3L368.7,218.2L369.2,218.1L369.7,218.0L370.2,218.0L370.7,217.9L371.2,217.9L371.7,217.8L372.2,217.8L372.7,217.7L373.2,217.7L373.7,217.7L374.2,217.7L374.7,217.7L375.2,217.7L375.7,217.7L376.2,217.7L376.7,217.8L377.2,217.8L377.7,217.9L378.2,217.9L378.7,218.0L379.2,218.1L379.7,218.2L380.2,218.3L380.7,218.4L381.2,218.6L381.7,218.7L382.2,218.9L382.7,219.0L383.2,219.2L383.7,219.3L384.2,219.5L384.7,219.7L385.2,219.9L385.7,220.1L386.2,220.3L386.7,220.5L387.2,220.7L387.7,220.9L388.2,221.2L388.7,221.4L389.2,221.6L389.7,221.9L390.2,222.1L390.7,222.4L391.2,222.6L391.7,222.9L392.2,223.2L392.7,223.4L393.2,223.7L393.7,224.0L394.2,224.2L394.7,224.5L395.2,224.8L395.7,225.1L396.2,225.4L396.7,225.7L397.2,225.9L397.7,226.2L398.2,226.5L398.7,226.8L399.2,227.1L399.7,227.4L400.2,227.7L400.7,228.0L401.2,228.3L401.7,228.7L402.2,229.0L402.7,229.3L403.2,229.6L403.7,229.9L404.2,230.3L404.7,230.6L405.2,230.9L405.7,231.3L406.2,231.6L406.7,232.0L407.2,232.3L407.7,232.6L408.2,233.0L408.7,233.4L409.2,233.7L409.7,234.1L410.2,234.4L410.7,234.8L411.2,235.2L411.7,235.6L412.2,236.0L412.7,236.3L413.2,236.7L413.7,237.1L414.2,237.5L414.7,237.9L415.2,238.3L415.7,238.7L416.2,239.2L416.7,239.6L417.2,240.0L417.7,240.4L418.2,240.8L418.7,241.2L419.2,241.6L419.7,242.0L420.2,242.4L420.7,242.7L421.2,243.1L421.7,243.5L422.2,243.8L422.7,244.1L423.2,244.4L423.7,244.7L424.2,245.0L424.7,245.3L425.2,245.5L425.7,245.8L426.2,246.0L426.7,246.2L427.2,246.5L427.7,246.7L428.2,246.9L428.7,247.0L429.2,247.2L429.7,247.4L430.2,247.5L430.7,247.7L431.2,247.8L431.7,248.0L432.2,248.1L432.7,248.2L433.2,248.4L433.7,248.5L434.2,248.6L434.7,248.7L435.2,248.8L435.7,248.9L436.2,248.9L436.7,249.0L437.2,249.1L437.7,249.2L438.2,249.2L438.7,249.3L439.2,249.4L439.7,249.4L440.2,249.5L440.7,249.5L441.2,249.6L441.7,249.7L442.2,249.7L442.7,249.8L443.2,249.8L443.7,249.9L444.2,249.9L444.7,250.0L445.2,250.0L445.7,250.1L446.2,250.1L446.7,250.2L447.2,250.2L447.7,250.3L448.2,250.3L448.7,250.4L449.2,250.4L449.7,250.5L450.2,250.5L450.7,250.6L451.2,250.6L451.7,250.7L452.2,250.7L452.7,250.8L453.2,250.8L453.7,250.9L454.2,250.9L454.7,251.0L455.2,251.0L455.7,251.1L456.2,251.1L456.7,251.2L457.2,251.2L457.7,251.3L458.2,251.3L458.7,251.4L459.2,251.4L459.7,251.5L460.2,251.6L460.7,251.6L461.2,251.7L461.7,251.7L462.2,251.8L462.7,251.8L463.2,251.9L463.7,251.9L464.2,251.9L464.7,252.0L465.2,252.0L465.7,252.1L466.2,252.1L466.7,252.2L467.2,252.2L467.7,252.2L468.2,252.3L468.7,252.3L469.2,252.4L469.7,252.4L470.2,252.4L470.7,252.5L471.2,252.5L471.7,252.5L472.2,252.5L472.7,252.6L473.2,252.6L473.7,252.6L474.2,252.7L474.7,252.7L475.2,252.7L475.7,252.8L476.2,252.8L476.7,252.9L477.2,252.9L477.7,253.0L478.2,253.0L478.7,253.1L479.2,253.2L479.7,253.3L480.2,253.4L480.7,253.5L481.2,253.6L481.7,253.7L482.2,253.8L482.7,253.9L483.2,254.0L483.7,254.2L484.2,254.3L484.7,254.5L485.2,254.7L485.7,254.9L486.2,255.1L486.7,255.3L487.2,255.5L487.7,255.7L488.2,255.9L488.7,256.1L489.2,256.3L489.7,256.5L490.2,256.7L490.7,256.9L491.2,257.1L491.7,257.2L492.2,257.4L492.7,257.5L493.2,257.6L493.7,257.8L494.2,257.9L494.7,258.0L495.2,258.2L495.7,258.3L496.2,258.4L496.7,258.6L497.2,258.7L497.7,258.9L498.2,259.1L498.7,259.2L499.2,259.4L499.7,259.7L500.2,259.9L500.7,260.2L501.2,260.4L501.7,260.7L502.2,261.0L502.7,261.3L503.2,261.7L503.7,262.0L504.2,262.3L504.7,262.6L505.2,263.0L505.7,263.3L506.2,263.6L506.7,263.9L507.2,264.2L507.7,264.5L508.2,264.8L508.7,265.1L509.2,265.3L509.7,265.6L510.2,265.9L510.7,266.3L511.2,266.6L511.7,267.0L512.2,267.4L512.7,267.8L513.2,268.2L513.7,268.7L514.2,269.2L514.7,269.8L515.2,270.5L515.7,271.2L516.2,272.0L516.7,272.8L517.2,273.8L517.7,274.8L518.2,276.0L518.7,277.2L519.2,278.6L519.7,280.1L520.2,281.7L520.7,283.3L521.2,285.0L521.7,286.8L522.2,288.5L522.7,290.3L523.2,292.0L523.7,293.8L524.2,295.5L524.7,297.2L525.2,298.9L525.7,300.7L526.2,302.4L526.7,304.2L527.2,305.9L527.7,307.7L528.2,309.5L528.7,311.3L529.2,313.1L529.7,315.0L530.2,316.8L530.7,318.6L531.2,320.4L531.7,322.2L532.2,324.0L532.7,325.7L533.2,327.3L533.7,328.9L534.2,330.4L534.7,331.9L535.2,333.2L535.7,334.5L536.2,335.7L536.7,336.9L537.2,337.9L537.7,338.9L538.2,339.9L538.7,340.8L539.2,341.6L539.7,342.4L540.2,343.1L540.7,343.8L541.2,344.4L541.7,345.1L542.2,345.6L542.7,346.1L543.2,346.6L543.7,347.1L544.2,347.5L544.7,348.0L545.2,348.4L545.7,348.8L546.2,349.1L546.7,349.5L547.2,349.9L547.7,350.3L548.2,350.7L548.7,351.0L549.2,351.4L549.7,351.8L550.2,352.1L550.7,352.5L551.2,352.8L551.7,353.1L552.2,353.4L552.7,353.7L553.2,353.9L553.7,354.1L554.2,354.2L554.7,354.3L555.2,354.2L555.7,354.2L556.2,354.0L556.7,353.7L557.2,353.4L557.7,352.9L558.2,352.3L558.7,351.7L559.2,350.9L559.7,350.1L560.2,349.2L560.7,348.3L561.2,347.3L561.7,346.2L562.2,345.1L562.7,343.9L563.2,342.7L563.7,341.4L564.2,340.2L564.7,338.9L565.2,337.5L565.7,336.2L566.2,334.8L566.7,333.4L567.2,332.0L567.7,330.5L568.2,329.0L568.7,327.5L569.2,326.0L569.7,324.4L570.2,322.8L570.7,321.2L571.2,319.6L571.7,317.9L572.2,316.2L572.7,314.5L573.2,312.7L573.7,311.0L574.2,309.2L574.7,307.3L575.2,305.5L575.7,303.6L576.2,301.7L576.7,299.8L577.2,297.9L577.7,296.0L578.2,294.1L578.7,292.1L579.2,290.1L579.7,288.2L580.2,286.2L580.7,284.2L581.2,282.2L581.7,280.2L582.2,278.2L582.7,276.3L583.2,274.3L583.7,272.3L584.2,270.4L584.7,268.5L585.2,266.6L585.7,264.8L586.2,263.0L586.7,261.3L587.2,259.6L587.7,257.9L588.2,256.4L588.7,254.9L589.2,253.5L589.7,252.1L590.2,250.8L590.7,249.6L591.2,248.4L591.7,247.2L592.2,246.1L592.7,245.1L593.2,244.0L593.7,243.0L594.2,242.0L594.7,241.1L595.2,240.1L595.7,239.2L596.2,238.2L596.7,237.3L597.2,236.4L597.7,235.5L598.2,234.6L598.7,233.7L599.2,232.8L599.7,231.9L600.2,231.0L600.7,230.2L601.2,229.3L601.7,228.5L602.2,227.6L602.7,226.8L603.2,226.0L603.7,225.2L604.2,224.3L604.7,223.5L605.2,222.7L605.7,222.0L606.2,221.2L606.7,220.4L607.2,219.6L607.7,218.9L608.2,218.1L608.7,217.4L609.2,216.7L609.7,215.9L610.2,215.2L610.7,214.6L611.2,213.9L611.7,213.2L612.2,212.6L612.7,212.0L613.2,211.4L613.7,210.9L614.2,210.3L614.7,209.8L615.2,209.3L615.7,208.9L616.2,208.4L616.7,208.0L617.2,207.6L617.7,207.2L618.2,206.8L618.7,206.5L619.2,206.1L619.7,205.8L620.2,205.4L620.7,205.1L621.2,204.8L621.7,204.5L622.2,204.1L622.7,203.8L623.2,203.5L623.7,203.2L624.2,203.0L624.7,202.7L625.2,202.4L625.7,202.1L626.2,201.9L626.7,201.6L627.2,201.4L627.7,201.2L628.2,201.0L628.7,200.8L629.2,200.6L629.7,200.4L630.2,200.2L630.7,200.1L631.2,199.9L631.7,199.8L632.2,199.6L632.7,199.5L633.2,199.4L633.7,199.2L634.2,199.1L634.7,199.0L635.2,198.9L635.7,198.8L636.2,198.6L636.7,198.5L637.2,198.4L637.7,198.3L638.2,198.2L638.7,198.1L639.2,198.0L639.7,197.9L640.2,197.8L640.7,197.6L641.2,197.5L641.7,197.4L642.2,197.3L642.7,197.2L643.2,197.1L643.7,197.0L644.2,196.9L644.7,196.7L645.2,196.6L645.7,196.5L646.2,196.4L646.7,196.3L647.2,196.2L647.7,196.1L648.2,196.0L648.7,195.8L649.2,195.7L649.7,195.6L650.2,195.5L650.7,195.4L651.2,195.3L651.7,195.2L652.2,195.1L652.7,195.0L653.2,194.9L653.7,194.8L654.2,194.7L654.7,194.6L655.2,194.5L655.7,194.4L656.2,194.3L656.7,194.2L657.2,194.1L657.7,194.0L658.2,193.9L658.7,193.9L659.2,193.8L659.7,193.7L660.2,193.7L660.7,193.6L661.2,193.5L661.7,193.5L662.2,193.4L662.7,193.4L663.2,193.4L663.7,193.3L664.2,193.3L664.7,193.3L665.2,193.2L665.7,193.2L666.2,193.2L666.7,193.2L667.2,193.2L667.7,193.2L668.2,193.2L668.7,193.2L669.2,193.2L669.7,193.2L670.2,193.2L670.7,193.2L671.2,193.2L671.7,193.3L672.2,193.3L672.7,193.3L673.2,193.3L673.7,193.3L674.2,193.4L674.7,193.4L675.2,193.4L675.7,193.4L676.2,193.5L676.7,193.5" stroke="#43308c"/>
<path d="M362.2,232.2L362.7,232.1L363.2,232.1L363.7,232.1L364.2,232.1L364.7,232.0L365.2,232.0L365.7,232.0L366.2,231.9L366.7,231.9L367.2,231.9L367.7,231.9L368.2,231.9L368.7,231.9L369.2,231.9L369.7,231.9L370.2,231.9L370.7,231.9L371.2,231.9L371.7,232.0L372.2,232.0L372.7,232.0L373.2,232.1L373.7,232.1L374.2,232.2L374.7,232.3L375.2,232.4L375.7,232.5L376.2,232.6L376.7,232.7L377.2,232.8L377.7,233.0L378.2,233.1L378.7,233.3L379.2,233.5L379.7,233.7L380.2,233.9L380.7,234.1L381.2,234.4L381.7,234.7L382.2,235.0L382.7,235.3L383.2,235.6L383.7,236.0L384.2,236.4L384.7,236.8L385.2,237.2L385.7,237.6L386.2,238.1L386.7,238.6L387.2,239.2L387.7,239.7L388.2,240.3L388.7,241.0L389.2,241.6L389.7,242.3L390.2,242.9L390.7,243.6L391.2,244.4L391.7,245.1L392.2,245.8L392.7,246.5L393.2,247.3L393.7,248.0L394.2,248.7L394.7,249.4L395.2,250.1L395.7,250.8L396.2,251.4L396.7,252.1L397.2,252.7L397.7,253.3L398.2,253.9L398.7,254.5L399.2,255.1L399.7,255.7L400.2,256.2L400.7,256.8L401.2,257.3L401.7,257.8L402.2,258.3L402.7,258.8L403.2,259.3L403.7,259.8L404.2,260.3L404.7,260.7L405.2,261.2L405.7,261.6L406.2,262.1L406.7,262.5L407.2,263.0L407.7,263.4L408.2,263.9L408.7,264.4L409.2,264.8L409.7,265.3L410.2,265.8L410.7,266.4L411.2,266.9L411.7,267.5L412.2,268.1L412.7,268.7L413.2,269.4L413.7,270.1L414.2,270.7L414.7,271.4L415.2,272.1L415.7,272.8L416.2,273.5L416.7,274.1L417.2,274.8L417.7,275.4L418.2,276.1L418.7,276.6L419.2,277.2L419.7,277.7L420.2,278.2L420.7,278.7L421.2,279.2L421.7,279.6L422.2,280.0L422.7,280.4L423.2,280.8L423.7,281.1L424.2,281.5L424.7,281.8L425.2,282.1L425.7,282.4L426.2,282.7L426.7,283.0L427.2,283.3L427.7,283.6L428.2,283.9L428.7,284.1L429.2,284.3L429.7,284.6L430.2,284.8L430.7,285.0L431.2,285.2L431.7,285.5L432.2,285.7L432.7,285.8L433.2,286.0L433.7,286.2L434.2,286.4L434.7,286.5L435.2,286.7L435.7,286.8L436.2,287.0L436.7,287.1L437.2,287.3L437.7,287.4L438.2,287.5L438.7,287.6L439.2,287.7L439.7,287.9L440.2,288.0L440.7,288.1L441.2,288.1L441.7,288.2L442.2,288.3L442.7,288.4L443.2,288.5L443.7,288.6L444.2,288.6L444.7,288.7L445.2,288.8L445.7,288.9L446.2,288.9L446.7,289.0L447.2,289.0L447.7,289.1L448.2,289.2L448.7,289.2L449.2,289.3L449.7,289.4L450.2,289.4L450.7,289.5L451.2,289.5L451.7,289.6L452.2,289.6L452.7,289.7L453.2,289.8L453.7,289.8L454.2,289.9L454.7,290.0L455.2,290.0L455.7,290.1L456.2,290.2L456.7,290.2L457.2,290.3L457.7,290.4L458.2,290.5L458.7,290.5L459.2,290.6L459.7,290.7L460.2,290.8L460.7,290.9L461.2,290.9L461.7,291.0L462.2,291.1L462.7,291.2L463.2,291.3L463.7,291.4L464.2,291.5L464.7,291.6L465.2,291.7L465.7,291.8L466.2,291.9L466.7,292.0L467.2,292.1L467.7,292.2L468.2,292.3L468.7,292.4L469.2,292.5L469.7,292.6L470.2,292.7L470.7,292.8L471.2,292.9L471.7,293.0L472.2,293.1L472.7,293.2L473.2,293.4L473.7,293.5L474.2,293.6L474.7,293.7L475.2,293.8L475.7,294.0L476.2,294.1L476.7,294.2L477.2,294.4L477.7,294.5L478.2,294.6L478.7,294.8L479.2,294.9L479.7,295.0L480.2,295.2L480.7,295.3L481.2,295.5L481.7,295.6L482.2,295.8L482.7,296.0L483.2,296.1L483.7,296.3L484.2,296.5L484.7,296.6L485.2,296.8L485.7,297.0L486.2,297.2L486.7,297.4L487.2,297.6L487.7,297.8L488.2,298.0L488.7,298.2L489.2,298.4L489.7,298.7L490.2,298.9L490.7,299.1L491.2,299.4L491.7,299.6L492.2,299.9L492.7,300.1L493.2,300.4L493.7,300.7L494.2,300.9L494.7,301.2L495.2,301.5L495.7,301.8L496.2,302.0L496.7,302.3L497.2,302.6L497.7,302.9L498.2,303.2L498.7,303.5L499.2,303.8L499.7,304.1L500.2,304.4L500.7,304.7L501.2,305.1L501.7,305.4L502.2,305.7L502.7,306.0L503.2,306.3L503.7,306.6L504.2,306.9L504.7,307.2L505.2,307.5L505.7,307.8L506.2,308.1L506.7,308.4L507.2,308.7L507.7,309.1L508.2,309.4L508.7,309.7L509.2,310.0L509.7,310.4L510.2,310.8L510.7,311.2L511.2,311.7L511.7,312.2L512.2,312.8L512.7,313.4L513.2,314.1L513.7,314.8L514.2,315.6L514.7,316.4L515.2,317.3L515.7,318.3L516.2,319.3L516.7,320.3L517.2,321.4L517.7,322.5L518.2,323.7L518.7,324.9L519.2,326.1L519.7,327.3L520.2,328.6L520.7,329.9L521.2,331.3L521.7,332.6L522.2,333.9L522.7,335.3L523.2,336.7L523.7,338.1L524.2,339.4L524.7,340.8L525.2,342.2L525.7,343.5L526.2,344.9L526.7,346.2L527.2,347.5L527.7,348.9L528.2,350.2L528.7,351.5L529.2,352.8L529.7,354.0L530.2,355.3L530.7,356.6L531.2,357.9L531.7,359.1L532.2,360.4L532.7,361.6L533.2,362.8L533.7,364.0L534.2,365.2L534.7,366.3L535.2,367.4L535.7,368.4L536.2,369.3L536.7,370.2L537.2,371.0L537.7,371.7L538.2,372.3L538.7,373.0L539.2,373.5L539.7,374.0L540.2,374.4L540.7,374.9L541.2,375.2L541.7,375.5L542.2,375.8L542.7,376.1L543.2,376.3L543.7,376.5L544.2,376.7L544.7,376.9L545.2,377.1L545.7,377.2L546.2,377.4L546.7,377.5L547.2,377.6L547.7,377.8L548.2,377.9L548.7,377.9L549.2,378.0L549.7,378.1L550.2,378.1L550.7,378.1L551.2,378.1L551.7,378.1L552.2,378.1L552.7,378.0L553.2,377.8L553.7,377.7L554.2,377.4L554.7,377.2L555.2,376.8L555.7,376.4L556.2,376.0L556.7,375.5L557.2,374.9L557.7,374.3L558.2,373.6L558.7,372.9L559.2,372.1L559.7,371.3L560.2,370.4L560.7,369.5L561.2,368.6L561.7,367.7L562.2,366.7L562.7,365.7L563.2,364.7L563.7,363.6L564.2,362.6L564.7,361.5L565.2,360.5L565.7,359.4L566.2,358.3L566.7,357.3L567.2,356.2L567.7,355.1L568.2,354.0L568.7,352.8L569.2,351.7L569.7,350.5L570.2,349.3L570.7,348.1L571.2,346.9L571.7,345.6L572.2,344.3L572.7,343.0L573.2,341.7L573.7,340.4L574.2,339.0L574.7,337.7L575.2,336.3L575.7,334.9L576.2,333.6L576.7,332.2L577.2,330.8L577.7,329.4L578.2,328.1L578.7,326.7L579.2,325.3L579.7,324.0L580.2,322.6L580.7,321.3L581.2,320.0L581.7,318.6L582.2,317.3L582.7,316.0L583.2,314.7L583.7,313.4L584.2,312.1L584.7,310.8L585.2,309.5L585.7,308.2L586.2,306.8L586.7,305.5L587.2,304.2L587.7,302.8L588.2,301.5L588.7,300.1L589.2,298.7L589.7,297.3L590.2,295.8L590.7,294.4L591.2,293.0L591.7,291.5L592.2,290.1L592.7,288.7L593.2,287.2L593.7,285.8L594.2,284.4L594.7,283.0L595.2,281.6L595.7,280.3L596.2,278.9L596.7,277.6L597.2,276.3L597.7,275.1L598.2,273.8L598.7,272.6L599.2,271.5L599.7,270.4L600.2,269.3L600.7,268.3L601.2,267.3L601.7,266.3L602.2,265.4L602.7,264.5L603.2,263.6L603.7,262.7L604.2,261.8L604.7,261.0L605.2,260.1L605.7,259.2L606.2,258.4L606.7,257.5L607.2,256.6L607.7,255.7L608.2,254.8L608.7,254.0L609.2,253.1L609.7,252.2L610.2,251.3L610.7,250.5L611.2,249.6L611.7,248.8L612.2,247.9L612.7,247.1L613.2,246.3L613.7,245.5L614.2,244.7L614.7,243.9L615.2,243.2L615.7,242.4L616.2,241.7L616.7,241.0L617.2,240.3L617.7,239.6L618.2,238.9L618.7,238.3L619.2,237.7L619.7,237.0L620.2,236.4L620.7,235.8L621.2,235.3L621.7,234.7L622.2,234.1L622.7,233.6L623.2,233.1L623.7,232.5L624.2,232.0L624.7,231.5L625.2,231.0L625.7,230.6L626.2,230.1L626.7,229.6L627.2,229.2L627.7,228.7L628.2,228.3L628.7,227.9L629.2,227.5L629.7,227.1L630.2,226.7L630.7,226.3L631.2,225.9L631.7,225.5L632.2,225.1L632.7,224.7L633.2,224.4L633.7,224.0L634.2,223.7L634.7,223.3L635.2,223.0L635.7,222.7L636.2,222.3L636.7,222.0L637.2,221.7L637.7,221.4L638.2,221.1L638.7,220.8L639.2,220.5L639.7,220.2L640.2,220.0L640.7,219.7L641.2,219.4L641.7,219.2L642.2,218.9L642.7,218.6L643.2,218.4L643.7,218.2L644.2,217.9L644.7,217.7L645.2,217.4L645.7,217.2L646.2,217.0L646.7,216.8L647.2,216.6L647.7,216.4L648.2,216.1L648.7,215.9L649.2,215.7L649.7,215.6L650.2,215.4L650.7,215.2L651.2,215.0L651.7,214.8L652.2,214.6L652.7,214.5L653.2,214.3L653.7,214.1L654.2,213.9L654.7,213.8L655.2,213.6L655.7,213.5L656.2,213.3L656.7,213.2L657.2,213.0L657.7,212.8L658.2,212.7L658.7,212.6L659.2,212.4L659.7,212.3L660.2,212.1L660.7,212.0L661.2,211.9L661.7,211.7L662.2,211.6L662.7,211.5L663.2,211.3L663.7,211.2L664.2,211.1L664.7,211.0L665.2,210.8L665.7,210.7L666.2,210.6L666.7,210.5L667.2,210.3L667.7,210.2L668.2,210.1L668.7,210.0L669.2,209.9L669.7,209.8L670.2,209.6L670.7,209.5L671.2,209.4L671.7,209.3L672.2,209.2L672.7,209.1L673.2,209.0L673.7,208.9L674.2,208.7L674.7,208.6L675.2,208.5L675.7,208.4L676.2,208.3L676.7,208.2" stroke="#e6322a"/>
<path d="M362.2,307.9L362.7,307.8L363.2,307.7L363.7,307.5L364.2,307.4L364.7,307.3L365.2,307.2L365.7,307.1L366.2,307.0L366.7,306.9L367.2,306.8L367.7,306.7L368.2,306.6L368.7,306.5L369.2,306.4L369.7,306.3L370.2,306.2L370.7,306.1L371.2,306.1L371.7,306.0L372.2,305.9L372.7,305.9L373.2,305.8L373.7,305.8L374.2,305.7L374.7,305.7L375.2,305.7L375.7,305.7L376.2,305.7L376.7,305.7L377.2,305.7L377.7,305.7L378.2,305.7L378.7,305.7L379.2,305.8L379.7,305.8L380.2,305.9L380.7,306.0L381.2,306.1L381.7,306.2L382.2,306.3L382.7,306.4L383.2,306.5L383.7,306.7L384.2,306.8L384.7,307.0L385.2,307.2L385.7,307.4L386.2,307.6L386.7,307.8L387.2,308.0L387.7,308.2L388.2,308.4L388.7,308.6L389.2,308.8L389.7,309.1L390.2,309.3L390.7,309.5L391.2,309.7L391.7,309.9L392.2,310.1L392.7,310.3L393.2,310.5L393.7,310.7L394.2,310.8L394.7,311.0L395.2,311.2L395.7,311.3L396.2,311.4L396.7,311.5L397.2,311.6L397.7,311.7L398.2,311.8L398.7,311.9L399.2,312.0L399.7,312.1L400.2,312.2L400.7,312.2L401.2,312.3L401.7,312.4L402.2,312.5L402.7,312.5L403.2,312.6L403.7,312.7L404.2,312.8L404.7,312.9L405.2,313.0L405.7,313.1L406.2,313.2L406.7,313.4L407.2,313.5L407.7,313.6L408.2,313.8L408.7,314.0L409.2,314.1L409.7,314.3L410.2,314.4L410.7,314.6L411.2,314.8L411.7,315.0L412.2,315.1L412.7,315.3L413.2,315.5L413.7,315.7L414.2,315.9L414.7,316.1L415.2,316.3L415.7,316.5L416.2,316.7L416.7,316.9L417.2,317.1L417.7,317.2L418.2,317.4L418.7,317.6L419.2,317.8L419.7,318.0L420.2,318.2L420.7,318.3L421.2,318.5L421.7,318.7L422.2,318.9L422.7,319.0L423.2,319.2L423.7,319.4L424.2,319.5L424.7,319.7L425.2,319.8L425.7,320.0L426.2,320.1L426.7,320.3L427.2,320.4L427.7,320.6L428.2,320.7L428.7,320.8L429.2,321.0L429.7,321.1L430.2,321.2L430.7,321.3L431.2,321.5L431.7,321.6L432.2,321.7L432.7,321.8L433.2,321.9L433.7,322.0L434.2,322.1L434.7,322.2L435.2,322.3L435.7,322.4L436.2,322.5L436.7,322.6L437.2,322.6L437.7,322.7L438.2,322.8L438.7,322.9L439.2,322.9L439.7,323.0L440.2,323.1L440.7,323.1L441.2,323.2L441.7,323.2L442.2,323.3L442.7,323.3L443.2,323.4L443.7,323.4L444.2,323.5L444.7,323.5L445.2,323.5L445.7,323.6L446.2,323.6L446.7,323.6L447.2,323.7L447.7,323.7L448.2,323.7L448.7,323.7L449.2,323.7L449.7,323.8L450.2,323.8L450.7,323.8L451.2,323.8L451.7,323.8L452.2,323.8L452.7,323.8L453.2,323.8L453.7,323.8L454.2,323.8L454.7,323.8L455.2,323.8L455.7,323.8L456.2,323.7L456.7,323.7L457.2,323.7L457.7,323.7L458.2,323.7L458.7,323.7L459.2,323.7L459.7,323.7L460.2,323.7L460.7,323.6L461.2,323.6L461.7,323.6L462.2,323.6L462.7,323.6L463.2,323.6L463.7,323.6L464.2,323.6L464.7,323.6L465.2,323.6L465.7,323.6L466.2,323.6L466.7,323.7L467.2,323.7L467.7,323.7L468.2,323.7L468.7,323.7L469.2,323.8L469.7,323.8L470.2,323.9L470.7,323.9L471.2,324.0L471.7,324.0L472.2,324.1L472.7,324.1L473.2,324.2L473.7,324.3L474.2,324.4L474.7,324.5L475.2,324.6L475.7,324.7L476.2,324.8L476.7,324.9L477.2,325.0L477.7,325.1L478.2,325.3L478.7,325.4L479.2,325.5L479.7,325.7L480.2,325.8L480.7,326.0L481.2,326.2L481.7,326.3L482.2,326.5L482.7,326.7L483.2,326.9L483.7,327.1L484.2,327.3L484.7,327.5L485.2,327.7L485.7,327.9L486.2,328.1L486.7,328.4L487.2,328.6L487.7,328.8L488.2,329.1L488.7,329.3L489.2,329.5L489.7,329.8L490.2,330.0L490.7,330.3L491.2,330.6L491.7,330.8L492.2,331.1L492.7,331.4L493.2,331.6L493.7,331.9L494.2,332.2L494.7,332.5L495.2,332.8L495.7,333.1L496.2,333.3L496.7,333.6L497.2,333.9L497.7,334.2L498.2,334.5L498.7,334.8L499.2,335.1L499.7,335.4L500.2,335.7L500.7,336.0L501.2,336.3L501.7,336.6L502.2,336.9L502.7,337.2L503.2,337.5L503.7,337.8L504.2,338.1L504.7,338.4L505.2,338.7L505.7,339.0L506.2,339.3L506.7,339.6L507.2,339.9L507.7,340.2L508.2,340.5L508.7,340.8L509.2,341.1L509.7,341.5L510.2,341.8L510.7,342.2L511.2,342.6L511.7,343.0L512.2,343.5L512.7,344.0L513.2,344.6L513.7,345.1L514.2,345.8L514.7,346.5L515.2,347.2L515.7,348.0L516.2,348.8L516.7,349.7L517.2,350.7L517.7,351.6L518.2,352.7L518.7,353.8L519.2,354.9L519.7,356.1L520.2,357.4L520.7,358.6L521.2,360.0L521.7,361.4L522.2,362.8L522.7,364.3L523.2,365.8L523.7,367.3L524.2,368.8L524.7,370.4L525.2,372.0L525.7,373.7L526.2,375.3L526.7,377.0L527.2,378.6L527.7,380.3L528.2,381.9L528.7,383.5L529.2,385.0L529.7,386.5L530.2,388.0L530.7,389.5L531.2,390.9L531.7,392.3L532.2,393.7L532.7,395.0L533.2,396.3L533.7,397.6L534.2,398.9L534.7,400.1L535.2,401.3L535.7,402.5L536.2,403.6L536.7,404.8L537.2,405.9L537.7,406.9L538.2,408.0L538.7,409.0L539.2,409.9L539.7,410.9L540.2,411.8L540.7,412.6L541.2,413.5L541.7,414.3L542.2,415.0L542.7,415.7L543.2,416.4L543.7,417.0L544.2,417.5L544.7,418.0L545.2,418.5L545.7,418.9L546.2,419.3L546.7,419.6L547.2,419.8L547.7,420.0L548.2,420.2L548.7,420.3L549.2,420.3L549.7,420.4L550.2,420.3L550.7,420.3L551.2,420.2L551.7,420.1L552.2,419.9L552.7,419.7L553.2,419.4L553.7,419.1L554.2,418.7L554.7,418.3L555.2,417.8L555.7,417.3L556.2,416.7L556.7,416.0L557.2,415.2L557.7,414.4L558.2,413.6L558.7,412.6L559.2,411.7L559.7,410.7L560.2,409.6L560.7,408.5L561.2,407.4L561.7,406.3L562.2,405.1L562.7,403.8L563.2,402.6L563.7,401.3L564.2,400.0L564.7,398.7L565.2,397.4L565.7,396.1L566.2,394.8L566.7,393.4L567.2,392.1L567.7,390.7L568.2,389.3L568.7,387.9L569.2,386.5L569.7,385.1L570.2,383.6L570.7,382.2L571.2,380.7L571.7,379.2L572.2,377.6L572.7,376.1L573.2,374.5L573.7,372.9L574.2,371.2L574.7,369.6L575.2,367.9L575.7,366.1L576.2,364.4L576.7,362.6L577.2,360.7L577.7,358.9L578.2,357.0L578.7,355.1L579.2,353.2L579.7,351.3L580.2,349.5L580.7,347.6L581.2,345.8L581.7,344.0L582.2,342.3L582.7,340.6L583.2,339.0L583.7,337.3L584.2,335.8L584.7,334.2L585.2,332.7L585.7,331.2L586.2,329.7L586.7,328.3L587.2,326.9L587.7,325.5L588.2,324.1L588.7,322.8L589.2,321.5L589.7,320.2L590.2,318.9L590.7,317.6L591.2,316.4L591.7,315.2L592.2,313.9L592.7,312.7L593.2,311.5L593.7,310.4L594.2,309.2L594.7,308.1L595.2,306.9L595.7,305.8L596.2,304.8L596.7,303.7L597.2,302.7L597.7,301.7L598.2,300.8L598.7,299.9L599.2,299.0L599.7,298.1L600.2,297.3L600.7,296.5L601.2,295.7L601.7,294.9L602.2,294.2L602.7,293.4L603.2,292.7L603.7,292.0L604.2,291.2L604.7,290.5L605.2,289.8L605.7,289.0L606.2,288.3L606.7,287.5L607.2,286.8L607.7,286.1L608.2,285.3L608.7,284.7L609.2,284.0L609.7,283.4L610.2,282.7L610.7,282.2L611.2,281.6L611.7,281.1L612.2,280.6L612.7,280.1L613.2,279.7L613.7,279.2L614.2,278.8L614.7,278.4L615.2,278.1L615.7,277.7L616.2,277.4L616.7,277.1L617.2,276.8L617.7,276.5L618.2,276.2L618.7,275.9L619.2,275.7L619.7,275.4L620.2,275.2L620.7,274.9L621.2,274.7L621.7,274.5L622.2,274.3L622.7,274.1L623.2,273.9L623.7,273.7L624.2,273.5L624.7,273.3L625.2,273.1L625.7,272.9L626.2,272.8L626.7,272.6L627.2,272.4L627.7,272.3L628.2,272.1L628.7,272.0L629.2,271.8L629.7,271.7L630.2,271.6L630.7,271.4L631.2,271.3L631.7,271.2L632.2,271.1L632.7,271.0L633.2,270.9L633.7,270.7L634.2,270.7L634.7,270.6L635.2,270.5L635.7,270.4L636.2,270.3L636.7,270.2L637.2,270.2L637.7,270.1L638.2,270.0L638.7,270.0L639.2,269.9L639.7,269.9L640.2,269.8L640.7,269.8L641.2,269.7L641.7,269.7L642.2,269.6L642.7,269.6L643.2,269.6L643.7,269.6L644.2,269.5L644.7,269.5L645.2,269.5L645.7,269.5L646.2,269.4L646.7,269.4L647.2,269.4L647.7,269.4L648.2,269.4L648.7,269.4L649.2,269.4L649.7,269.3L650.2,269.3L650.7,269.3L651.2,269.3L651.7,269.3L652.2,269.3L652.7,269.3L653.2,269.3L653.7,269.2L654.2,269.2L654.7,269.2L655.2,269.2L655.7,269.2L656.2,269.2L656.7,269.1L657.2,269.1L657.7,269.1L658.2,269.1L658.7,269.0L659.2,269.0L659.7,269.0L660.2,268.9L660.7,268.9L661.2,268.9L661.7,268.8L662.2,268.8L662.7,268.7L663.2,268.7L663.7,268.7L664.2,268.6L664.7,268.6L665.2,268.5L665.7,268.5L666.2,268.4L666.7,268.3L667.2,268.3L667.7,268.2L668.2,268.2L668.7,268.1L669.2,268.1L669.7,268.0L670.2,267.9L670.7,267.9L671.2,267.8L671.7,267.8L672.2,267.7L672.7,267.6L673.2,267.6L673.7,267.5L674.2,267.4L674.7,267.4L675.2,267.3L675.7,267.2L676.2,267.2L676.7,267.1" stroke="#e6322a"/>
<path d="M362.2,350.9L362.7,350.8L363.2,350.6L363.7,350.5L364.2,350.3L364.7,350.2L365.2,350.1L365.7,349.9L366.2,349.8L366.7,349.7L367.2,349.6L367.7,349.4L368.2,349.3L368.7,349.2L369.2,349.1L369.7,349.0L370.2,348.9L370.7,348.8L371.2,348.7L371.7,348.6L372.2,348.5L372.7,348.4L373.2,348.3L373.7,348.2L374.2,348.1L374.7,348.1L375.2,348.0L375.7,348.0L376.2,347.9L376.7,347.9L377.2,347.8L377.7,347.8L378.2,347.8L378.7,347.8L379.2,347.8L379.7,347.8L380.2,347.8L380.7,347.8L381.2,347.8L381.7,347.9L382.2,347.9L382.7,348.0L383.2,348.0L383.7,348.1L384.2,348.2L384.7,348.3L385.2,348.4L385.7,348.5L386.2,348.6L386.7,348.7L387.2,348.8L387.7,349.0L388.2,349.1L388.7,349.2L389.2,349.4L389.7,349.5L390.2,349.6L390.7,349.8L391.2,349.9L391.7,350.0L392.2,350.2L392.7,350.3L393.2,350.4L393.7,350.5L394.2,350.7L394.7,350.8L395.2,350.9L395.7,351.0L396.2,351.1L396.7,351.1L397.2,351.2L397.7,351.3L398.2,351.4L398.7,351.4L399.2,351.5L399.7,351.5L400.2,351.6L400.7,351.7L401.2,351.7L401.7,351.8L402.2,351.8L402.7,351.9L403.2,352.0L403.7,352.0L404.2,352.1L404.7,352.2L405.2,352.3L405.7,352.4L406.2,352.5L406.7,352.6L407.2,352.7L407.7,352.8L408.2,352.9L408.7,353.0L409.2,353.2L409.7,353.3L410.2,353.4L410.7,353.5L411.2,353.7L411.7,353.8L412.2,353.9L412.7,354.1L413.2,354.2L413.7,354.3L414.2,354.5L414.7,354.6L415.2,354.7L415.7,354.9L416.2,355.0L416.7,355.1L417.2,355.2L417.7,355.4L418.2,355.5L418.7,355.6L419.2,355.7L419.7,355.8L420.2,355.9L420.7,356.0L421.2,356.1L421.7,356.2L422.2,356.3L422.7,356.4L423.2,356.4L423.7,356.5L424.2,356.6L424.7,356.7L425.2,356.7L425.7,356.8L426.2,356.9L426.7,357.0L427.2,357.0L427.7,357.1L428.2,357.2L428.7,357.2L429.2,357.3L429.7,357.4L430.2,357.4L430.7,357.5L431.2,357.6L431.7,357.6L432.2,357.7L432.7,357.8L433.2,357.9L433.7,357.9L434.2,358.0L434.7,358.1L435.2,358.2L435.7,358.3L436.2,358.3L436.7,358.4L437.2,358.5L437.7,358.6L438.2,358.7L438.7,358.7L439.2,358.8L439.7,358.9L440.2,359.0L440.7,359.1L441.2,359.1L441.7,359.2L442.2,359.3L442.7,359.3L443.2,359.4L443.7,359.5L444.2,359.5L444.7,359.6L445.2,359.6L445.7,359.7L446.2,359.7L446.7,359.7L447.2,359.8L447.7,359.8L448.2,359.8L448.7,359.9L449.2,359.9L449.7,359.9L450.2,359.9L450.7,360.0L451.2,360.0L451.7,360.0L452.2,360.0L452.7,360.0L453.2,360.0L453.7,360.0L454.2,360.0L454.7,360.0L455.2,360.0L455.7,360.0L456.2,360.0L456.7,360.0L457.2,360.0L457.7,360.0L458.2,360.0L458.7,360.0L459.2,360.0L459.7,360.0L460.2,360.0L460.7,360.0L461.2,360.0L461.7,360.0L462.2,360.0L462.7,360.0L463.2,360.0L463.7,360.0L464.2,360.0L464.7,360.0L465.2,360.0L465.7,360.1L466.2,360.1L466.7,360.1L467.2,360.1L467.7,360.1L468.2,360.1L468.7,360.1L469.2,360.2L469.7,360.2L470.2,360.2L470.7,360.2L471.2,360.3L471.7,360.3L472.2,360.3L472.7,360.4L473.2,360.4L473.7,360.4L474.2,360.5L474.7,360.5L475.2,360.6L475.7,360.6L476.2,360.6L476.7,360.7L477.2,360.7L477.7,360.8L478.2,360.9L478.7,360.9L479.2,361.0L479.7,361.0L480.2,361.1L480.7,361.2L481.2,361.3L481.7,361.3L482.2,361.4L482.7,361.5L483.2,361.6L483.7,361.7L484.2,361.8L484.7,361.9L485.2,362.0L485.7,362.1L486.2,362.2L486.7,362.3L487.2,362.4L487.7,362.5L488.2,362.6L488.7,362.7L489.2,362.9L489.7,363.0L490.2,363.1L490.7,363.3L491.2,363.4L491.7,363.6L492.2,363.7L492.7,363.9L493.2,364.1L493.7,364.2L494.2,364.4L494.7,364.6L495.2,364.8L495.7,365.0L496.2,365.2L496.7,365.4L497.2,365.6L497.7,365.8L498.2,366.0L498.7,366.2L499.2,366.5L499.7,366.7L500.2,367.0L500.7,367.2L501.2,367.5L501.7,367.7L502.2,368.0L502.7,368.2L503.2,368.5L503.7,368.8L504.2,369.1L504.7,369.3L505.2,369.6L505.7,369.9L506.2,370.1L506.7,370.4L507.2,370.6L507.7,370.9L508.2,371.1L508.7,371.4L509.2,371.6L509.7,371.9L510.2,372.2L510.7,372.5L511.2,372.8L511.7,373.2L512.2,373.5L512.7,374.0L513.2,374.4L513.7,374.9L514.2,375.5L514.7,376.1L515.2,376.7L515.7,377.4L516.2,378.1L516.7,379.0L517.2,379.8L517.7,380.7L518.2,381.7L518.7,382.7L519.2,383.8L519.7,384.9L520.2,386.1L520.7,387.3L521.2,388.5L521.7,389.8L522.2,391.1L522.7,392.4L523.2,393.8L523.7,395.2L524.2,396.5L524.7,397.9L525.2,399.3L525.7,400.7L526.2,402.1L526.7,403.5L527.2,404.9L527.7,406.3L528.2,407.7L528.7,409.1L529.2,410.4L529.7,411.8L530.2,413.1L530.7,414.5L531.2,415.8L531.7,417.1L532.2,418.4L532.7,419.7L533.2,420.9L533.7,422.2L534.2,423.4L534.7,424.6L535.2,425.8L535.7,427.0L536.2,428.2L536.7,429.3L537.2,430.5L537.7,431.6L538.2,432.7L538.7,433.8L539.2,434.9L539.7,435.9L540.2,437.0L540.7,437.9L541.2,438.9L541.7,439.8L542.2,440.7L542.7,441.6L543.2,442.4L543.7,443.1L544.2,443.8L544.7,444.4L545.2,445.0L545.7,445.5L546.2,445.9L546.7,446.3L547.2,446.6L547.7,446.8L548.2,447.0L548.7,447.2L549.2,447.3L549.7,447.4L550.2,447.5L550.7,447.6L551.2,447.6L551.7,447.6L552.2,447.6L552.7,447.6L553.2,447.5L553.7,447.4L554.2,447.2L554.7,447.0L555.2,446.7L555.7,446.3L556.2,445.9L556.7,445.4L557.2,444.8L557.7,444.1L558.2,443.4L558.7,442.6L559.2,441.7L559.7,440.8L560.2,439.8L560.7,438.8L561.2,437.7L561.7,436.6L562.2,435.4L562.7,434.2L563.2,433.0L563.7,431.7L564.2,430.4L564.7,429.0L565.2,427.7L565.7,426.3L566.2,424.9L566.7,423.5L567.2,422.0L567.7,420.5L568.2,419.1L568.7,417.5L569.2,416.0L569.7,414.5L570.2,412.9L570.7,411.3L571.2,409.7L571.7,408.1L572.2,406.4L572.7,404.8L573.2,403.1L573.7,401.4L574.2,399.7L574.7,397.9L575.2,396.2L575.7,394.4L576.2,392.6L576.7,390.8L577.2,389.0L577.7,387.1L578.2,385.3L578.7,383.4L579.2,381.6L579.7,379.8L580.2,377.9L580.7,376.2L581.2,374.4L581.7,372.7L582.2,371.0L582.7,369.4L583.2,367.8L583.7,366.3L584.2,364.9L584.7,363.5L585.2,362.1L585.7,360.9L586.2,359.6L586.7,358.4L587.2,357.3L587.7,356.1L588.2,355.1L588.7,354.0L589.2,353.0L589.7,352.0L590.2,351.0L590.7,350.1L591.2,349.2L591.7,348.3L592.2,347.4L592.7,346.5L593.2,345.7L593.7,344.8L594.2,344.0L594.7,343.2L595.2,342.3L595.7,341.6L596.2,340.8L596.7,340.0L597.2,339.2L597.7,338.5L598.2,337.8L598.7,337.0L599.2,336.3L599.7,335.6L600.2,334.9L600.7,334.3L601.2,333.6L601.7,332.9L602.2,332.3L602.7,331.6L603.2,331.0L603.7,330.4L604.2,329.8L604.7,329.2L605.2,328.6L605.7,328.0L606.2,327.4L606.7,326.9L607.2,326.3L607.7,325.8L608.2,325.2L608.7,324.7L609.2,324.2L609.7,323.7L610.2,323.2L610.7,322.7L611.2,322.2L611.7,321.8L612.2,321.3L612.7,320.9L613.2,320.4L613.7,320.0L614.2,319.6L614.7,319.2L615.2,318.8L615.7,318.4L616.2,318.1L616.7,317.7L617.2,317.4L617.7,317.1L618.2,316.7L618.7,316.4L619.2,316.1L619.7,315.9L620.2,315.6L620.7,315.3L621.2,315.1L621.7,314.9L622.2,314.6L622.7,314.4L623.2,314.2L623.7,314.0L624.2,313.8L624.7,313.7L625.2,313.5L625.7,313.3L626.2,313.2L626.7,313.0L627.2,312.9L627.7,312.7L628.2,312.6L628.7,312.5L629.2,312.4L629.7,312.3L630.2,312.2L630.7,312.1L631.2,312.0L631.7,311.9L632.2,311.8L632.7,311.7L633.2,311.6L633.7,311.5L634.2,311.4L634.7,311.4L635.2,311.3L635.7,311.2L636.2,311.1L636.7,311.0L637.2,311.0L637.7,310.9L638.2,310.8L638.7,310.8L639.2,310.7L639.7,310.6L640.2,310.6L640.7,310.5L641.2,310.5L641.7,310.4L642.2,310.3L642.7,310.3L643.2,310.2L643.7,310.2L644.2,310.1L644.7,310.1L645.2,310.0L645.7,310.0L646.2,310.0L646.7,309.9L647.2,309.9L647.7,309.8L648.2,309.8L648.7,309.8L649.2,309.7L649.7,309.7L650.2,309.7L650.7,309.6L651.2,309.6L651.7,309.6L652.2,309.6L652.7,309.5L653.2,309.5L653.7,309.5L654.2,309.5L654.7,309.5L655.2,309.4L655.7,309.4L656.2,309.4L656.7,309.4L657.2,309.4L657.7,309.4L658.2,309.4L658.7,309.4L659.2,309.3L659.7,309.3L660.2,309.3L660.7,309.3L661.2,309.3L661.7,309.3L662.2,309.3L662.7,309.3L663.2,309.3L663.7,309.3L664.2,309.3L664.7,309.3L665.2,309.3L665.7,309.3L666.2,309.3L666.7,309.3L667.2,309.3L667.7,309.3L668.2,309.3L668.7,309.4L669.2,309.4L669.7,309.4L670.2,309.4L670.7,309.4L671.2,309.4L671.7,309.4L672.2,309.4L672.7,309.4L673.2,309.4L673.7,309.4L674.2,309.4L674.7,309.5L675.2,309.5L675.7,309.5L676.2,309.5L676.7,309.5" stroke="#e6322a"/>
<path d="M362.2,308.3L362.7,308.6L363.2,308.9L363.7,309.2L364.2,309.5L364.7,309.9L365.2,310.2L365.7,310.5L366.2,310.8L366.7,311.2L367.2,311.5L367.7,311.9L368.2,312.3L368.7,312.7L369.2,313.1L369.7,313.5L370.2,314.0L370.7,314.5L371.2,314.9L371.7,315.5L372.2,316.0L372.7,316.6L373.2,317.2L373.7,317.8L374.2,318.4L374.7,319.1L375.2,319.7L375.7,320.5L376.2,321.2L376.7,322.0L377.2,322.7L377.7,323.5L378.2,324.4L378.7,325.2L379.2,326.1L379.7,327.0L380.2,327.9L380.7,328.9L381.2,329.9L381.7,330.9L382.2,331.9L382.7,333.0L383.2,334.0L383.7,335.1L384.2,336.2L384.7,337.3L385.2,338.4L385.7,339.6L386.2,340.7L386.7,341.8L387.2,343.0L387.7,344.1L388.2,345.3L388.7,346.5L389.2,347.6L389.7,348.8L390.2,349.9L390.7,351.0L391.2,352.2L391.7,353.3L392.2,354.4L392.7,355.5L393.2,356.6L393.7,357.6L394.2,358.7L394.7,359.7L395.2,360.8L395.7,361.8L396.2,362.8L396.7,363.8L397.2,364.7L397.7,365.7L398.2,366.6L398.7,367.5L399.2,368.4L399.7,369.3L400.2,370.2L400.7,371.1L401.2,371.9L401.7,372.7L402.2,373.6L402.7,374.4L403.2,375.2L403.7,376.0L404.2,376.8L404.7,377.6L405.2,378.3L405.7,379.1L406.2,379.9L406.7,380.6L407.2,381.4L407.7,382.2L408.2,382.9L408.7,383.7L409.2,384.4L409.7,385.2L410.2,385.9L410.7,386.6L411.2,387.4L411.7,388.1L412.2,388.8L412.7,389.6L413.2,390.3L413.7,391.0L414.2,391.7L414.7,392.5L415.2,393.2L415.7,393.9L416.2,394.5L416.7,395.2L417.2,395.9L417.7,396.5L418.2,397.2L418.7,397.8L419.2,398.4L419.7,399.0L420.2,399.6L420.7,400.1L421.2,400.7L421.7,401.2L422.2,401.7L422.7,402.2L423.2,402.6L423.7,403.1L424.2,403.5L424.7,403.9L425.2,404.3L425.7,404.7L426.2,405.0L426.7,405.3L427.2,405.6L427.7,405.9L428.2,406.2L428.7,406.5L429.2,406.7L429.7,406.9L430.2,407.2L430.7,407.4L431.2,407.6L431.7,407.7L432.2,407.9L432.7,408.1L433.2,408.2L433.7,408.4L434.2,408.5L434.7,408.6L435.2,408.8L435.7,408.9L436.2,409.0L436.7,409.1L437.2,409.2L437.7,409.3L438.2,409.4L438.7,409.5L439.2,409.6L439.7,409.6L440.2,409.7L440.7,409.8L441.2,409.9L441.7,410.0L442.2,410.0L442.7,410.1L443.2,410.2L443.7,410.3L444.2,410.3L444.7,410.4L445.2,410.5L445.7,410.6L446.2,410.7L446.7,410.8L447.2,410.9L447.7,411.0L448.2,411.1L448.7,411.2L449.2,411.3L449.7,411.4L450.2,411.5L450.7,411.7L451.2,411.8L451.7,411.9L452.2,412.0L452.7,412.1L453.2,412.2L453.7,412.4L454.2,412.5L454.7,412.6L455.2,412.7L455.7,412.8L456.2,412.9L456.7,413.0L457.2,413.1L457.7,413.2L458.2,413.3L458.7,413.4L459.2,413.5L459.7,413.6L460.2,413.7L460.7,413.8L461.2,413.9L461.7,413.9L462.2,414.0L462.7,414.1L463.2,414.1L463.7,414.2L464.2,414.3L464.7,414.3L465.2,414.4L465.7,414.4L466.2,414.5L466.7,414.5L467.2,414.5L467.7,414.6L468.2,414.6L468.7,414.7L469.2,414.7L469.7,414.8L470.2,414.8L470.7,414.8L471.2,414.9L471.7,414.9L472.2,415.0L472.7,415.0L473.2,415.1L473.7,415.1L474.2,415.2L474.7,415.2L475.2,415.3L475.7,415.3L476.2,415.4L476.7,415.4L477.2,415.5L477.7,415.6L478.2,415.6L478.7,415.7L479.2,415.8L479.7,415.9L480.2,416.0L480.7,416.0L481.2,416.1L481.7,416.2L482.2,416.3L482.7,416.4L483.2,416.5L483.7,416.6L484.2,416.7L484.7,416.8L485.2,416.9L485.7,417.0L486.2,417.1L486.7,417.3L487.2,417.4L487.7,417.5L488.2,417.6L488.7,417.8L489.2,417.9L489.7,418.0L490.2,418.2L490.7,418.3L491.2,418.4L491.7,418.6L492.2,418.7L492.7,418.9L493.2,419.0L493.7,419.2L494.2,419.4L494.7,419.5L495.2,419.7L495.7,419.8L496.2,420.0L496.7,420.2L497.2,420.3L497.7,420.5L498.2,420.6L498.7,420.8L499.2,420.9L499.7,421.1L500.2,421.3L500.7,421.4L501.2,421.6L501.7,421.7L502.2,421.8L502.7,422.0L503.2,422.1L503.7,422.3L504.2,422.4L504.7,422.5L505.2,422.6L505.7,422.8L506.2,422.9L506.7,423.0L507.2,423.1L507.7,423.3L508.2,423.4L508.7,423.6L509.2,423.7L509.7,423.9L510.2,424.1L510.7,424.2L511.2,424.4L511.7,424.7L512.2,424.9L512.7,425.1L513.2,425.4L513.7,425.7L514.2,426.0L514.7,426.3L515.2,426.7L515.7,427.1L516.2,427.5L516.7,428.0L517.2,428.6L517.7,429.2L518.2,429.9L518.7,430.6L519.2,431.4L519.7,432.3L520.2,433.1L520.7,434.0L521.2,434.9L521.7,435.8L522.2,436.7L522.7,437.6L523.2,438.5L523.7,439.4L524.2,440.3L524.7,441.1L525.2,441.9L525.7,442.7L526.2,443.5L526.7,444.2L527.2,444.9L527.7,445.6L528.2,446.3L528.7,446.9L529.2,447.6L529.7,448.2L530.2,448.8L530.7,449.4L531.2,450.0L531.7,450.5L532.2,451.1L532.7,451.6L533.2,452.1L533.7,452.7L534.2,453.2L534.7,453.7L535.2,454.2L535.7,454.7L536.2,455.2L536.7,455.6L537.2,456.1L537.7,456.6L538.2,457.0L538.7,457.5L539.2,457.9L539.7,458.3L540.2,458.7L540.7,459.1L541.2,459.5L541.7,459.9L542.2,460.2L542.7,460.5L543.2,460.8L543.7,461.1L544.2,461.4L544.7,461.6L545.2,461.9L545.7,462.1L546.2,462.3L546.7,462.4L547.2,462.6L547.7,462.7L548.2,462.8L548.7,462.9L549.2,463.0L549.7,463.0L550.2,463.1L550.7,463.1L551.2,463.1L551.7,463.1L552.2,463.2L552.7,463.2L553.2,463.1L553.7,463.1L554.2,463.1L554.7,463.0L555.2,462.9L555.7,462.8L556.2,462.7L556.7,462.6L557.2,462.4L557.7,462.2L558.2,462.0L558.7,461.8L559.2,461.5L559.7,461.3L560.2,461.0L560.7,460.7L561.2,460.3L561.7,460.0L562.2,459.6L562.7,459.2L563.2,458.7L563.7,458.3L564.2,457.8L564.7,457.3L565.2,456.8L565.7,456.2L566.2,455.6L566.7,455.0L567.2,454.4L567.7,453.7L568.2,453.0L568.7,452.3L569.2,451.6L569.7,450.8L570.2,450.0L570.7,449.2L571.2,448.4L571.7,447.5L572.2,446.6L572.7,445.7L573.2,444.8L573.7,443.8L574.2,442.8L574.7,441.8L575.2,440.8L575.7,439.7L576.2,438.6L576.7,437.5L577.2,436.4L577.7,435.3L578.2,434.1L578.7,433.0L579.2,431.8L579.7,430.6L580.2,429.4L580.7,428.1L581.2,426.9L581.7,425.7L582.2,424.4L582.7,423.2L583.2,421.9L583.7,420.7L584.2,419.5L584.7,418.2L585.2,417.1L585.7,415.9L586.2,414.7L586.7,413.6L587.2,412.5L587.7,411.5L588.2,410.5L588.7,409.5L589.2,408.6L589.7,407.7L590.2,406.8L590.7,406.0L591.2,405.2L591.7,404.4L592.2,403.6L592.7,402.9L593.2,402.1L593.7,401.4L594.2,400.7L594.7,400.0L595.2,399.3L595.7,398.7L596.2,398.0L596.7,397.3L597.2,396.6L597.7,395.9L598.2,395.2L598.7,394.5L599.2,393.8L599.7,393.0L600.2,392.3L600.7,391.5L601.2,390.7L601.7,389.9L602.2,389.0L602.7,388.1L603.2,387.2L603.7,386.2L604.2,385.2L604.7,384.1L605.2,383.0L605.7,381.9L606.2,380.7L606.7,379.4L607.2,378.2L607.7,376.9L608.2,375.6L608.7,374.4L609.2,373.1L609.7,371.8L610.2,370.6L610.7,369.4L611.2,368.2L611.7,367.1L612.2,366.0L612.7,365.0L613.2,364.0L613.7,363.0L614.2,362.1L614.7,361.2L615.2,360.3L615.7,359.5L616.2,358.7L616.7,357.9L617.2,357.1L617.7,356.4L618.2,355.7L618.7,355.0L619.2,354.4L619.7,353.7L620.2,353.1L620.7,352.5L621.2,351.9L621.7,351.3L622.2,350.7L622.7,350.2L623.2,349.6L623.7,349.1L624.2,348.6L624.7,348.1L625.2,347.6L625.7,347.1L626.2,346.6L626.7,346.1L627.2,345.7L627.7,345.2L628.2,344.8L628.7,344.3L629.2,343.9L629.7,343.4L630.2,343.0L630.7,342.6L631.2,342.2L631.7,341.8L632.2,341.4L632.7,341.0L633.2,340.6L633.7,340.2L634.2,339.8L634.7,339.4L635.2,339.0L635.7,338.7L636.2,338.3L636.7,337.9L637.2,337.5L637.7,337.1L638.2,336.8L638.7,336.4L639.2,336.0L639.7,335.7L640.2,335.3L640.7,334.9L641.2,334.6L641.7,334.2L642.2,333.9L642.7,333.5L643.2,333.2L643.7,332.8L644.2,332.5L644.7,332.1L645.2,331.8L645.7,331.5L646.2,331.1L646.7,330.8L647.2,330.5L647.7,330.2L648.2,329.8L648.7,329.5L649.2,329.2L649.7,328.9L650.2,328.6L650.7,328.3L651.2,328.0L651.7,327.7L652.2,327.4L652.7,327.1L653.2,326.8L653.7,326.5L654.2,326.2L654.7,325.9L655.2,325.6L655.7,325.3L656.2,325.1L656.7,324.8L657.2,324.5L657.7,324.2L658.2,324.0L658.7,323.7L659.2,323.4L659.7,323.2L660.2,322.9L660.7,322.6L661.2,322.4L661.7,322.1L662.2,321.9L662.7,321.6L663.2,321.4L663.7,321.1L664.2,320.8L664.7,320.6L665.2,320.4L665.7,320.1L666.2,319.9L666.7,319.6L667.2,319.4L667.7,319.1L668.2,318.9L668.7,318.7L669.2,318.4L669.7,318.2L670.2,317.9L670.7,317.7L671.2,317.5L671.7,317.2L672.2,317.0L672.7,316.8L673.2,316.5L673.7,316.3L674.2,316.1L674.7,315.8L675.2,315.6L675.7,315.4L676.2,315.1L676.7,314.9" stroke="#2f8a3a"/>
<path d="M362.2,357.0L362.7,357.4L363.2,357.7L363.7,358.1L364.2,358.4L364.7,358.7L365.2,359.1L365.7,359.4L366.2,359.8L366.7,360.1L367.2,360.5L367.7,360.8L368.2,361.2L368.7,361.5L369.2,361.9L369.7,362.2L370.2,362.5L370.7,362.9L371.2,363.2L371.7,363.6L372.2,363.9L372.7,364.2L373.2,364.6L373.7,364.9L374.2,365.2L374.7,365.5L375.2,365.9L375.7,366.2L376.2,366.5L376.7,366.9L377.2,367.2L377.7,367.6L378.2,368.0L378.7,368.4L379.2,368.8L379.7,369.3L380.2,369.8L380.7,370.3L381.2,370.8L381.7,371.4L382.2,372.0L382.7,372.6L383.2,373.3L383.7,374.0L384.2,374.8L384.7,375.6L385.2,376.5L385.7,377.4L386.2,378.3L386.7,379.2L387.2,380.2L387.7,381.3L388.2,382.4L388.7,383.5L389.2,384.6L389.7,385.8L390.2,387.0L390.7,388.2L391.2,389.5L391.7,390.8L392.2,392.1L392.7,393.4L393.2,394.8L393.7,396.2L394.2,397.6L394.7,398.9L395.2,400.4L395.7,401.8L396.2,403.2L396.7,404.6L397.2,406.0L397.7,407.4L398.2,408.8L398.7,410.2L399.2,411.6L399.7,413.0L400.2,414.4L400.7,415.7L401.2,417.0L401.7,418.3L402.2,419.6L402.7,420.8L403.2,422.0L403.7,423.2L404.2,424.3L404.7,425.4L405.2,426.5L405.7,427.5L406.2,428.5L406.7,429.4L407.2,430.3L407.7,431.2L408.2,432.0L408.7,432.8L409.2,433.6L409.7,434.3L410.2,435.1L410.7,435.8L411.2,436.5L411.7,437.2L412.2,437.9L412.7,438.6L413.2,439.2L413.7,439.9L414.2,440.5L414.7,441.1L415.2,441.8L415.7,442.4L416.2,443.0L416.7,443.5L417.2,444.1L417.7,444.7L418.2,445.2L418.7,445.8L419.2,446.3L419.7,446.8L420.2,447.3L420.7,447.7L421.2,448.2L421.7,448.6L422.2,449.1L422.7,449.5L423.2,449.9L423.7,450.3L424.2,450.7L424.7,451.1L425.2,451.4L425.7,451.8L426.2,452.1L426.7,452.4L427.2,452.8L427.7,453.1L428.2,453.4L428.7,453.7L429.2,454.0L429.7,454.2L430.2,454.5L430.7,454.8L431.2,455.0L431.7,455.3L432.2,455.5L432.7,455.7L433.2,455.9L433.7,456.2L434.2,456.4L434.7,456.6L435.2,456.8L435.7,456.9L436.2,457.1L436.7,457.3L437.2,457.5L437.7,457.6L438.2,457.8L438.7,458.0L439.2,458.1L439.7,458.2L440.2,458.3L440.7,458.5L441.2,458.6L441.7,458.6L442.2,458.7L442.7,458.8L443.2,458.8L443.7,458.9L444.2,458.9L444.7,458.9L445.2,458.9L445.7,458.8L446.2,458.8L446.7,458.7L447.2,458.6L447.7,458.5L448.2,458.4L448.7,458.2L449.2,458.1L449.7,457.9L450.2,457.7L450.7,457.5L451.2,457.3L451.7,457.1L452.2,456.9L452.7,456.6L453.2,456.4L453.7,456.1L454.2,455.8L454.7,455.6L455.2,455.3L455.7,455.0L456.2,454.7L456.7,454.4L457.2,454.1L457.7,453.8L458.2,453.4L458.7,453.1L459.2,452.8L459.7,452.5L460.2,452.2L460.7,451.9L461.2,451.6L461.7,451.3L462.2,451.0L462.7,450.7L463.2,450.4L463.7,450.2L464.2,449.9L464.7,449.7L465.2,449.5L465.7,449.3L466.2,449.1L466.7,448.9L467.2,448.7L467.7,448.6L468.2,448.5L468.7,448.4L469.2,448.4L469.7,448.3L470.2,448.3L470.7,448.4L471.2,448.4L471.7,448.5L472.2,448.6L472.7,448.8L473.2,449.0L473.7,449.2L474.2,449.5L474.7,449.8L475.2,450.1L475.7,450.4L476.2,450.8L476.7,451.2L477.2,451.6L477.7,452.0L478.2,452.4L478.7,452.9L479.2,453.4L479.7,453.8L480.2,454.3L480.7,454.7L481.2,455.2L481.7,455.6L482.2,456.1L482.7,456.5L483.2,456.9L483.7,457.2L484.2,457.6L484.7,457.9L485.2,458.1L485.7,458.4L486.2,458.6L486.7,458.8L487.2,459.0L487.7,459.1L488.2,459.2L488.7,459.4L489.2,459.5L489.7,459.6L490.2,459.6L490.7,459.7L491.2,459.8L491.7,459.8L492.2,459.9L492.7,460.0L493.2,460.0L493.7,460.1L494.2,460.1L494.7,460.2L495.2,460.2L495.7,460.3L496.2,460.3L496.7,460.4L497.2,460.4L497.7,460.4L498.2,460.5L498.7,460.5L499.2,460.5L499.7,460.6L500.2,460.6L500.7,460.6L501.2,460.7L501.7,460.7L502.2,460.7L502.7,460.8L503.2,460.8L503.7,460.8L504.2,460.8L504.7,460.9L505.2,460.9L505.7,460.9L506.2,461.0L506.7,461.0L507.2,461.0L507.7,461.1L508.2,461.1L508.7,461.1L509.2,461.2L509.7,461.2L510.2,461.3L510.7,461.3L511.2,461.4L511.7,461.5L512.2,461.5L512.7,461.6L513.2,461.7L513.7,461.8L514.2,461.9L514.7,461.9L515.2,462.0L515.7,462.1L516.2,462.2L516.7,462.3L517.2,462.4L517.7,462.5L518.2,462.6L518.7,462.7L519.2,462.7L519.7,462.8L520.2,462.9L520.7,463.0L521.2,463.1L521.7,463.1L522.2,463.2L522.7,463.3L523.2,463.3L523.7,463.4L524.2,463.5L524.7,463.5L525.2,463.6L525.7,463.6L526.2,463.7L526.7,463.7L527.2,463.8L527.7,463.8L528.2,463.8L528.7,463.9L529.2,463.9L529.7,464.0L530.2,464.0L530.7,464.0L531.2,464.0L531.7,464.1L532.2,464.1L532.7,464.1L533.2,464.1L533.7,464.2L534.2,464.2L534.7,464.2L535.2,464.2L535.7,464.2L536.2,464.3L536.7,464.3L537.2,464.3L537.7,464.3L538.2,464.3L538.7,464.3L539.2,464.3L539.7,464.3L540.2,464.3L540.7,464.4L541.2,464.4L541.7,464.4L542.2,464.4L542.7,464.4L543.2,464.4L543.7,464.4L544.2,464.4L544.7,464.4L545.2,464.4L545.7,464.4L546.2,464.4L546.7,464.4L547.2,464.4L547.7,464.4L548.2,464.4L548.7,464.4L549.2,464.4L549.7,464.4L550.2,464.4L550.7,464.4L551.2,464.4L551.7,464.4L552.2,464.4L552.7,464.4L553.2,464.4L553.7,464.4L554.2,464.4L554.7,464.4L555.2,464.4L555.7,464.4L556.2,464.4L556.7,464.4L557.2,464.4L557.7,464.4L558.2,464.4L558.7,464.3L559.2,464.3L559.7,464.3L560.2,464.3L560.7,464.3L561.2,464.2L561.7,464.2L562.2,464.2L562.7,464.1L563.2,464.1L563.7,464.1L564.2,464.0L564.7,464.0L565.2,463.9L565.7,463.9L566.2,463.8L566.7,463.8L567.2,463.7L567.7,463.6L568.2,463.6L568.7,463.5L569.2,463.4L569.7,463.4L570.2,463.3L570.7,463.2L571.2,463.1L571.7,463.0L572.2,462.9L572.7,462.8L573.2,462.7L573.7,462.5L574.2,462.4L574.7,462.3L575.2,462.2L575.7,462.0L576.2,461.9L576.7,461.7L577.2,461.5L577.7,461.4L578.2,461.2L578.7,461.0L579.2,460.8L579.7,460.6L580.2,460.4L580.7,460.2L581.2,460.0L581.7,459.8L582.2,459.5L582.7,459.3L583.2,459.0L583.7,458.7L584.2,458.5L584.7,458.2L585.2,457.9L585.7,457.5L586.2,457.2L586.7,456.9L587.2,456.5L587.7,456.1L588.2,455.8L588.7,455.4L589.2,454.9L589.7,454.5L590.2,454.1L590.7,453.6L591.2,453.1L591.7,452.6L592.2,452.1L592.7,451.6L593.2,451.0L593.7,450.5L594.2,449.9L594.7,449.3L595.2,448.7L595.7,448.1L596.2,447.5L596.7,446.9L597.2,446.2L597.7,445.6L598.2,445.0L598.7,444.3L599.2,443.6L599.7,443.0L600.2,442.3L600.7,441.7L601.2,441.0L601.7,440.3L602.2,439.7L602.7,439.0L603.2,438.4L603.7,437.7L604.2,437.1L604.7,436.4L605.2,435.8L605.7,435.1L606.2,434.5L606.7,433.8L607.2,433.2L607.7,432.5L608.2,431.8L608.7,431.1L609.2,430.4L609.7,429.7L610.2,428.9L610.7,428.2L611.2,427.4L611.7,426.6L612.2,425.8L612.7,425.0L613.2,424.2L613.7,423.4L614.2,422.6L614.7,421.7L615.2,420.9L615.7,420.1L616.2,419.2L616.7,418.4L617.2,417.6L617.7,416.7L618.2,415.9L618.7,415.1L619.2,414.3L619.7,413.5L620.2,412.7L620.7,412.0L621.2,411.2L621.7,410.4L622.2,409.7L622.7,409.0L623.2,408.2L623.7,407.5L624.2,406.8L624.7,406.1L625.2,405.4L625.7,404.7L626.2,404.0L626.7,403.3L627.2,402.7L627.7,402.0L628.2,401.3L628.7,400.7L629.2,400.0L629.7,399.4L630.2,398.7L630.7,398.1L631.2,397.4L631.7,396.8L632.2,396.2L632.7,395.5L633.2,394.9L633.7,394.3L634.2,393.6L634.7,393.0L635.2,392.4L635.7,391.8L636.2,391.2L636.7,390.5L637.2,389.9L637.7,389.3L638.2,388.7L638.7,388.1L639.2,387.5L639.7,386.9L640.2,386.3L640.7,385.7L641.2,385.1L641.7,384.5L642.2,383.9L642.7,383.3L643.2,382.8L643.7,382.2L644.2,381.7L644.7,381.1L645.2,380.5L645.7,380.0L646.2,379.5L646.7,378.9L647.2,378.4L647.7,377.9L648.2,377.4L648.7,376.9L649.2,376.4L649.7,375.9L650.2,375.5L650.7,375.0L651.2,374.5L651.7,374.1L652.2,373.7L652.7,373.2L653.2,372.8L653.7,372.4L654.2,372.0L654.7,371.6L655.2,371.2L655.7,370.8L656.2,370.5L656.7,370.1L657.2,369.8L657.7,369.4L658.2,369.1L658.7,368.8L659.2,368.5L659.7,368.2L660.2,367.9L660.7,367.6L661.2,367.4L661.7,367.1L662.2,366.9L662.7,366.6L663.2,366.4L663.7,366.2L664.2,366.0L664.7,365.8L665.2,365.6L665.7,365.4L666.2,365.2L666.7,365.0L667.2,364.8L667.7,364.7L668.2,364.5L668.7,364.4L669.2,364.2L669.7,364.1L670.2,363.9L670.7,363.8L671.2,363.7L671.7,363.5L672.2,363.4L672.7,363.3L673.2,363.2L673.7,363.1L674.2,362.9L674.7,362.8L675.2,362.7L675.7,362.6L676.2,362.5L676.7,362.4" stroke="#f07128"/>
</g>
<rect x="547.8" y="100.1" width="9.5" height="364.6" fill="#f6dbd7"/>
<g fill="none" stroke="#4a4a4a" stroke-width="1.1">
<rect x="22.3" y="1.3" width="312.8" height="464.1"/>
<rect x="362.2" y="0.5" width="314.5" height="464.8"/>
<line x1="96.0" y1="465.4" x2="96.0" y2="459.6"/>
<line x1="174.6" y1="465.4" x2="174.6" y2="459.6"/>
<line x1="252.4" y1="465.4" x2="252.4" y2="459.6"/>
<line x1="431.9" y1="465.3" x2="431.9" y2="459.5"/>
<line x1="502.1" y1="465.3" x2="502.1" y2="459.5"/>
<line x1="571.9" y1="465.3" x2="571.9" y2="459.5"/>
<line x1="641.9" y1="465.3" x2="641.9" y2="459.5"/>
</g>
<text x="33.8" y="488.3" font-size="18.3" text-anchor="middle" fill="#111" stroke="#111" stroke-width="0.30" >725</text>
<text x="96.5" y="488.3" font-size="18.3" text-anchor="middle" fill="#111" stroke="#111" stroke-width="0.30" >720</text>
<text x="175.0" y="488.3" font-size="18.3" text-anchor="middle" fill="#111" stroke="#111" stroke-width="0.30" >715</text>
<text x="252.8" y="488.3" font-size="18.3" text-anchor="middle" fill="#111" stroke="#111" stroke-width="0.30" >710</text>
<text x="327.5" y="488.3" font-size="18.3" text-anchor="middle" fill="#111" stroke="#111" stroke-width="0.30" >705</text>
<text x="378.0" y="487.8" font-size="18.3" text-anchor="middle" fill="#111" stroke="#111" stroke-width="0.30" >2 650</text>
<text x="431.4" y="487.8" font-size="18.3" text-anchor="middle" fill="#111" stroke="#111" stroke-width="0.30" >2 600</text>
<text x="502.0" y="487.8" font-size="18.3" text-anchor="middle" fill="#111" stroke="#111" stroke-width="0.30" >2 550</text>
<text x="571.9" y="487.8" font-size="18.3" text-anchor="middle" fill="#111" stroke="#111" stroke-width="0.30" >2 500</text>
<text x="642.0" y="487.8" font-size="18.3" text-anchor="middle" fill="#111" stroke="#111" stroke-width="0.30" >2 450</text>
<text x="174.0" y="511.0" font-size="15" text-anchor="middle" fill="#111" stroke="#111" stroke-width="0.30"><tspan font-size="14.2" font-family="'Noto Serif CJK SC',serif">波数</tspan>(cm<tspan font-size="8.8" dy="-6.5">-1</tspan><tspan dy="6.5">)</tspan></text>
<text x="502.3" y="511.0" font-size="15" text-anchor="middle" fill="#111" stroke="#111" stroke-width="0.30"><tspan font-size="14.2" font-family="'Noto Serif CJK SC',serif">波数</tspan>(cm<tspan font-size="8.8" dy="-6.5">-1</tspan><tspan dy="6.5">)</tspan></text>
<text transform="translate(5.9,233.3) rotate(-90)" x="0" y="0" text-anchor="middle" dominant-baseline="central" fill="#333" stroke-width="0"><tspan font-size="12.8" letter-spacing="1.8" font-family="'Noto Sans CJK SC',sans-serif">反射率</tspan><tspan font-size="15.5" font-family="'Liberation Serif','Times New Roman',serif">(%)</tspan></text>
<text transform="translate(691.6,232.3) rotate(-90)" x="0" y="0" text-anchor="middle" dominant-baseline="central" fill="#333" stroke-width="0"><tspan font-size="12.8" letter-spacing="1.8" font-family="'Noto Sans CJK SC',sans-serif">反射率</tspan><tspan font-size="15.5" font-family="'Liberation Serif','Times New Roman',serif">(%)</tspan></text>
<text x="30.0" y="21.3" font-size="17.0" text-anchor="start" fill="#111" stroke="#111" stroke-width="0.30" >(a)</text>
<text x="369.8" y="21.0" font-size="17.0" text-anchor="start" fill="#111" stroke="#111" stroke-width="0.30" >(b)</text>
<text x="171.2" y="120.8" font-size="16" fill="#111" stroke="#111" stroke-width="0.30">713 cm<tspan font-size="10" dy="-5.5">-1</tspan></text>
<text x="481.5" y="81.4" font-size="16.5" fill="#111" stroke="#111" stroke-width="0.30">2 513~2 524 cm<tspan font-size="10" dy="-5">-1</tspan></text>
<text transform="translate(151.6,153.6) rotate(41.6)" font-size="15.5" text-anchor="middle" dominant-baseline="central" fill="#43308c" stroke="#43308c" stroke-width="0.30">TEH6-5</text>
<text transform="translate(142.7,176.5) rotate(41.7)" font-size="15.5" text-anchor="middle" dominant-baseline="central" fill="#43308c" stroke="#43308c" stroke-width="0.30">TEH6-6</text>
<text transform="translate(135.2,192.1) rotate(35.0)" font-size="15.5" text-anchor="middle" dominant-baseline="central" fill="#43308c" stroke="#43308c" stroke-width="0.30">TEH6-7</text>
<text transform="translate(137.4,219.7) rotate(56.0)" font-size="15.5" text-anchor="middle" dominant-baseline="central" fill="#43308c" stroke="#43308c" stroke-width="0.30">TEH6-8</text>
<text transform="translate(127.0,238.5) rotate(49.8)" font-size="15.5" text-anchor="middle" dominant-baseline="central" fill="#43308c" stroke="#43308c" stroke-width="0.30">SBH2-20</text>
<text transform="translate(115.9,264.7) rotate(43.9)" font-size="15.5" text-anchor="middle" dominant-baseline="central" fill="#43308c" stroke="#43308c" stroke-width="0.30">SBH2-80</text>
<text transform="translate(108.2,319.2) rotate(40.5)" font-size="15.5" text-anchor="middle" dominant-baseline="central" fill="#e6322a" stroke="#e6322a" stroke-width="0.30">LD-60</text>
<text transform="translate(96.8,337.5) rotate(39.1)" font-size="15.5" text-anchor="middle" dominant-baseline="central" fill="#e6322a" stroke="#e6322a" stroke-width="0.30">LD-180</text>
<text transform="translate(88.0,349.8) rotate(31.7)" font-size="15.5" text-anchor="middle" dominant-baseline="central" fill="#e6322a" stroke="#e6322a" stroke-width="0.30">LD-310</text>
<text transform="translate(428.2,96.6) rotate(2.2) skewX(-3)" font-size="15.5" fill="#43308c" stroke="#43308c" stroke-width="0.30">TEH6-5</text>
<text transform="translate(427.5,131.8) rotate(3.0) skewX(-3)" font-size="15.5" fill="#43308c" stroke="#43308c" stroke-width="0.30">TEH6-6</text>
<text transform="translate(423.9,165.0) rotate(2.8) skewX(-3)" font-size="15.5" fill="#43308c" stroke="#43308c" stroke-width="0.30">TEH6-7</text>
<text transform="translate(424.3,190.6) rotate(5.5) skewX(-3)" font-size="15.5" fill="#43308c" stroke="#43308c" stroke-width="0.30">TEH6-8</text>
<text transform="translate(427.4,215.0) rotate(4.0) skewX(-3)" font-size="15.5" fill="#43308c" stroke="#43308c" stroke-width="0.30">SBH2-20</text>
<text transform="translate(427.0,244.9) rotate(4.5) skewX(-3)" font-size="15.5" fill="#43308c" stroke="#43308c" stroke-width="0.30">SBH2-80</text>
<text transform="translate(426.0,278.2) rotate(10.0) skewX(-5)" font-size="15.5" fill="#e6322a" stroke="#e6322a" stroke-width="0.30">LD-60</text>
<text transform="translate(419.6,313.8) rotate(9.5) skewX(-5)" font-size="15.5" fill="#e6322a" stroke="#e6322a" stroke-width="0.30">LD-180</text>
<text transform="translate(415.3,348.6) rotate(9.5) skewX(-5)" font-size="15.5" fill="#e6322a" stroke="#e6322a" stroke-width="0.30">LD-310</text>
<text transform="translate(427.5,399.7) rotate(8.9)" font-size="15.5" fill="#2f8a3a" stroke="#2f8a3a" stroke-width="0.30">calcite</text>
<text transform="translate(412.5,431.1) rotate(13.7)" font-size="15.5" fill="#f07128" stroke="#f07128" stroke-width="0.30">dolomite</text>
</svg></body></html>
